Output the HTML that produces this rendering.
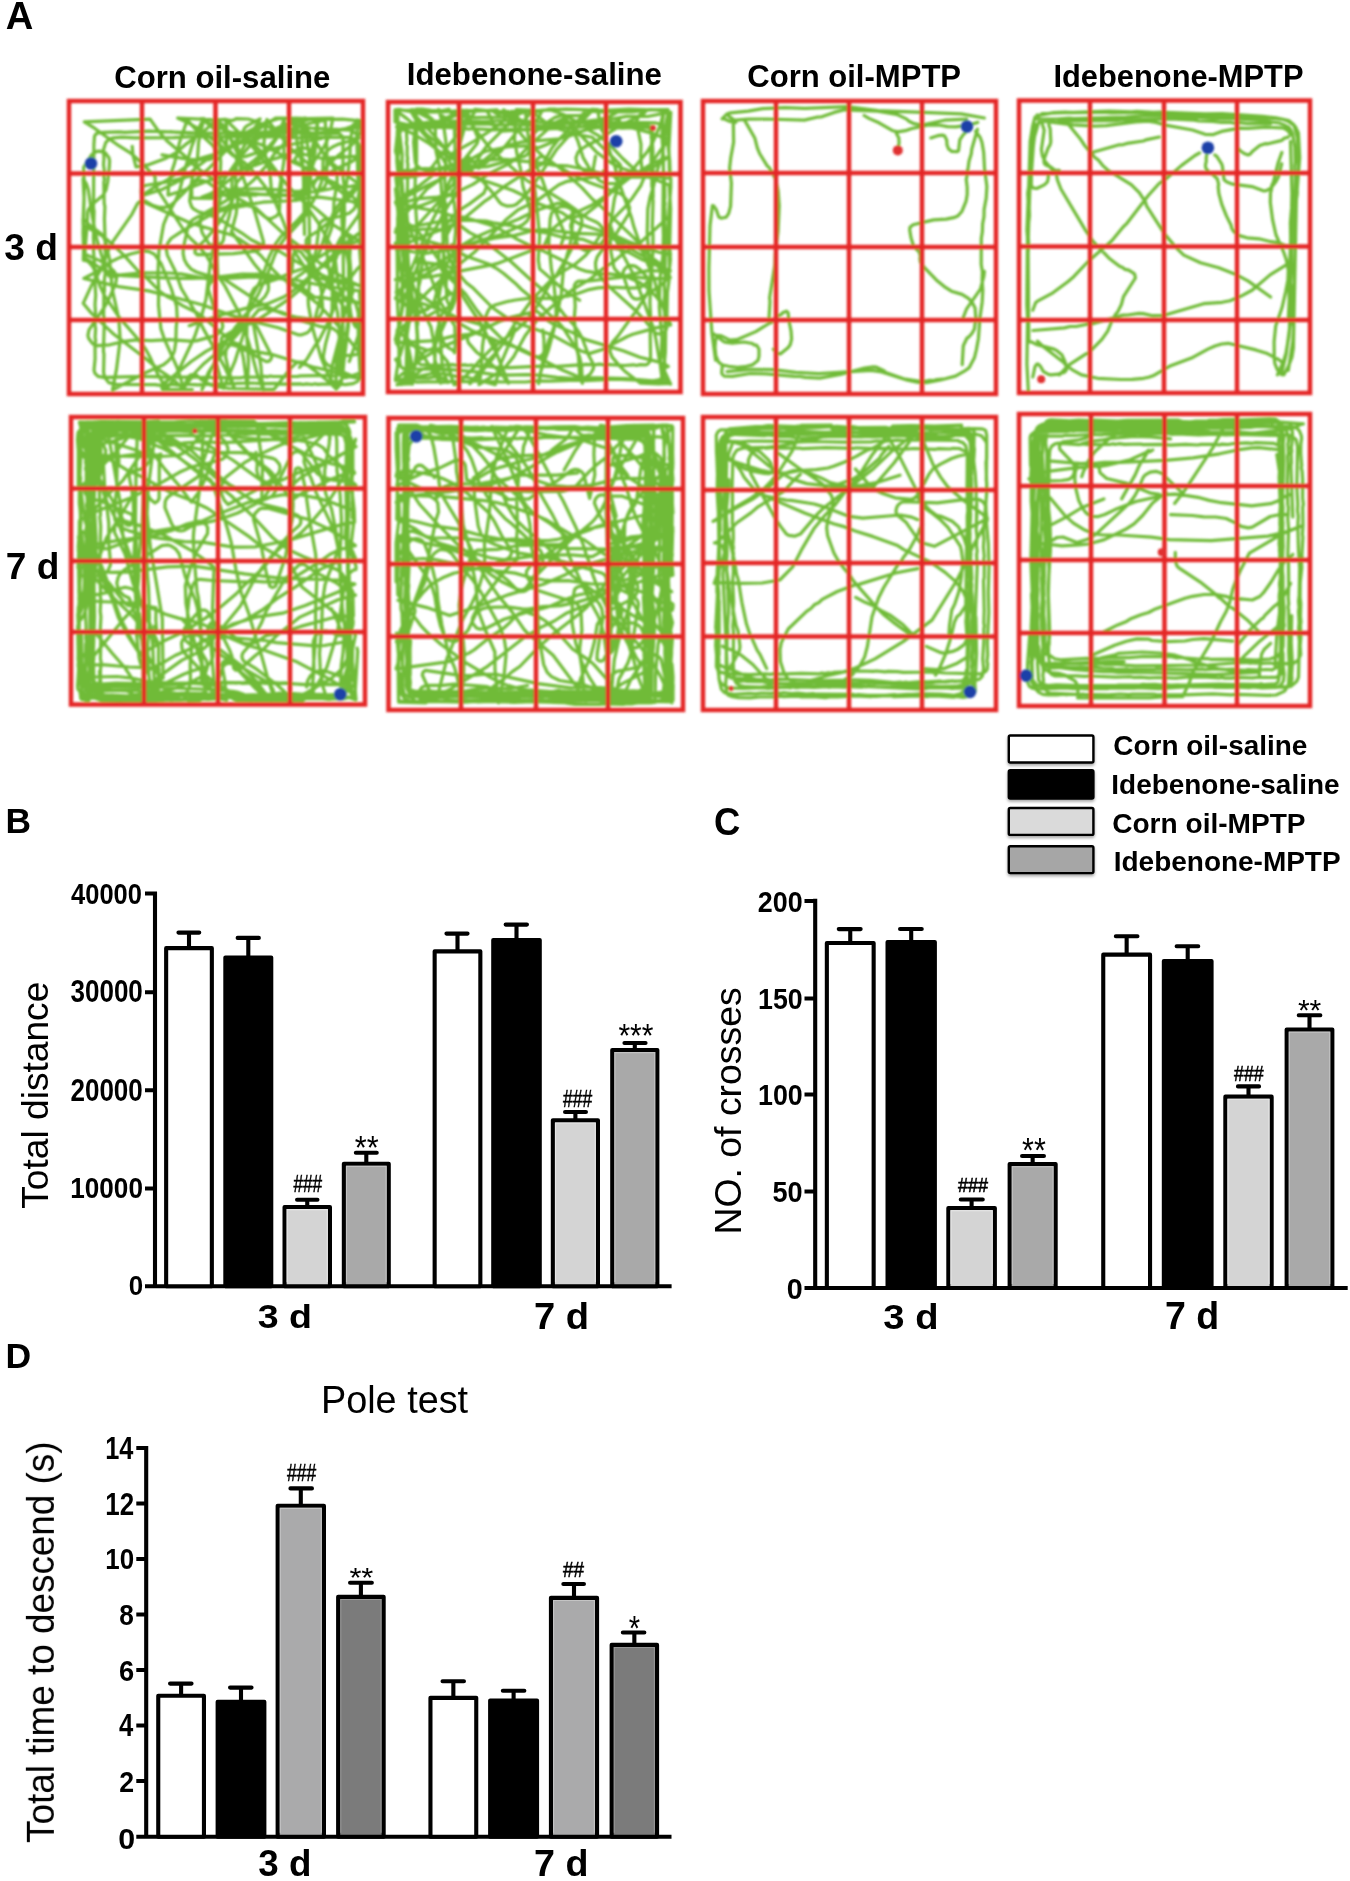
<!DOCTYPE html><html><head><meta charset="utf-8"><title>Figure</title><style>html,body{margin:0;padding:0;background:#fff;width:1350px;height:1881px;overflow:hidden}svg{display:block}text{font-family:"Liberation Sans",sans-serif}</style></head><body><svg width="1350" height="1881" viewBox="0 0 1350 1881"><defs><filter id="bl" x="-2%" y="-2%" width="104%" height="104%"><feGaussianBlur stdDeviation="0.9"/></filter><filter id="gs" x="-1%" y="-1%" width="102%" height="102%"><feOffset dx="0" dy="0"/></filter><filter id="sh" x="-10%" y="-10%" width="130%" height="150%"><feDropShadow dx="0" dy="2" stdDeviation="1.6" flood-color="#000" flood-opacity="0.35"/></filter></defs><rect width="1350" height="1881" fill="#fff"/><g filter="url(#bl)">
<path d="M360.1,345.5L360.8,369.6 358.8,379.4 357.6,381.4 353.1,383.6 345.0,384.7 342.3,384.1 336.2,384.6 326.9,383.8 317.9,384.3 315.0,383.8 312.2,384.5 306.4,383.9 302.9,384.5 300.3,383.9 279.2,384.1 275.6,383.4 260.6,383.6 252.2,383.0 236.9,383.3 233.4,384.1 227.8,383.6 224.9,384.2 215.5,383.8 212.4,384.6 210.1,384.1 197.9,384.8 185.5,384.2 182.8,385.0 176.8,385.1 173.7,384.5 158.5,385.2 155.1,384.7 116.4,384.4 108.7,382.6 104.8,377.5 103.6,372.5 104.0,354.1 103.4,351.4 104.2,326.9 104.2,318.0 103.6,315.3 103.9,294.3 104.5,290.7 104.2,281.5 105.2,273.1 104.6,270.2 105.4,252.0 104.7,248.8 105.3,245.8 104.4,218.9 104.9,206.7 104.2,203.4 103.8,182.3 104.4,179.5 103.8,176.4 104.3,170.5 103.5,164.4 104.0,158.3 103.5,149.8 105.7,142.6 108.8,139.3 113.4,137.8 122.0,137.2 134.5,137.9 173.5,137.6 200.3,136.3 203.6,136.9 225.0,136.8 230.8,136.3 236.9,136.9 248.6,136.2 252.1,137.0 278.7,136.7 302.8,138.1 306.5,137.4 312.2,138.0 318.2,137.3 348.2,137.4 355.4,139.5 357.8,142.2 360.1,146.9 359.7,173.8 360.4,179.8 359.3,207.0 360.6,237.1 360.1,239.5 360.7,242.4 361.4,303.2 360.2,366.2M170.4,131.8L188.7,133.2 219.0,132.8 243.0,133.9 245.8,133.4 248.7,133.9 276.7,133.4 285.6,132.7 288.9,133.3 291.4,132.8 309.7,133.4 312.5,132.9 316.0,133.7 337.1,133.3 339.2,133.5 342.4,136.5 343.0,138.7 343.0,177.9 343.9,183.7 343.8,202.4 344.4,204.7 344.6,213.9 343.9,229.3 344.4,235.1 343.2,250.3 343.5,286.7 342.2,307.1 343.0,328.2 342.6,337.3 343.2,340.4 342.4,372.5 340.7,374.3 334.1,376.0 327.6,375.4 300.7,375.8 297.8,376.4 273.3,376.5 270.3,376.0 267.6,376.8 264.4,376.3 261.1,376.9 243.4,377.2 240.3,377.9 218.5,377.3 213.0,377.9 209.3,377.1 200.4,377.5 197.9,377.0 191.7,377.5 188.3,376.8 167.3,377.5 161.3,376.8 143.2,376.4 103.8,377.3 98.0,376.4 95.0,373.4 94.0,370.3 95.1,358.8 95.0,343.5 95.7,340.9 95.1,337.4 95.6,328.8 95.0,325.4 95.5,313.2 95.0,304.4 95.7,295.1 95.0,283.3 95.4,277.4 93.5,249.8 94.1,247.2 93.4,238.3 94.1,210.8 93.5,208.4 93.9,144.6 94.5,136.2 96.0,134.0 97.9,132.9 103.7,132.3 118.9,131.9 124.9,132.4 148.8,131.2 194.9,132.9M342.2,355.9L354.1,355.0 359.9,353.5 337.6,325.3 319.5,305.3 300.8,290.3 280.7,277.3 274.2,271.0 260.5,255.2 249.0,245.5 239.0,238.8 231.0,234.7 190.7,223.3 144.3,202.2 142.6,199.7 142.5,196.7 144.0,194.1 156.4,185.8 167.0,180.1 193.9,161.1 202.3,157.8 219.6,152.8 230.5,147.8 275.6,118.2 287.6,118.1 288.9,120.7 293.8,124.1 305.4,127.2 311.3,128.1 350.2,130.2 355.3,133.3 359.2,137.9 350.5,146.1 338.6,155.2 329.6,163.3 319.5,174.3 313.5,184.6 313.7,187.6 315.5,190.0 318.3,191.2 335.9,187.7 350.8,186.4 359.6,184.2 352.6,194.0 344.4,202.8 335.3,214.7 327.3,223.6 317.9,231.0 307.7,237.3 306.2,240.0 306.1,245.9 309.8,254.1 317.9,276.7 321.4,291.2 322.7,309.2 322.2,312.1 319.2,317.3 313.8,319.6 296.0,317.1 284.3,314.2 276.0,310.9 259.9,302.7 224.9,279.6 222.2,278.3 219.3,277.9 216.3,278.3 213.6,279.6 209.6,284.0 208.5,286.8 208.4,289.8 212.8,304.2 222.2,322.9 222.8,325.9 222.2,328.8 220.6,331.4 216.3,335.4 196.1,340.9 190.1,341.2 169.1,339.7 151.2,340.7 136.2,339.9 124.3,341.4 109.7,344.8 97.7,345.6 94.8,344.9 92.3,343.3 88.7,338.5 87.9,335.6 89.0,329.8 104.2,307.5 108.6,299.7 115.8,283.2 116.6,277.3 114.4,271.7 108.0,265.5 100.3,260.9 83.8,253.7 83.0,232.7 84.1,199.7 83.1,178.7 86.4,183.8 88.3,189.5 92.2,216.2 96.9,239.7 107.2,274.1 109.3,276.2 112.3,276.9 121.0,274.9 141.9,272.9 168.9,273.0 180.8,273.9 213.3,279.9 216.0,278.8 217.8,276.4 217.1,258.4 217.7,246.4 215.5,213.5 216.3,198.5 218.6,189.8 222.6,181.8 238.0,159.6 249.7,145.9 256.3,139.9 266.2,133.1 274.3,129.1 290.9,122.3 305.3,118.1 294.7,132.6 274.0,154.3 265.5,166.6 253.6,180.1 237.6,193.7 217.2,206.2 206.5,211.8 202.2,215.8 200.7,218.5 200.0,224.4 202.3,233.0 208.5,243.2 211.0,245.0 216.9,245.7 219.7,244.6 222.0,242.7 223.4,240.1 224.6,231.1 229.0,216.8 230.3,210.9 231.9,193.0 232.0,178.0 236.8,160.7 241.9,149.9 260.1,118.9 246.9,125.8 244.7,127.9 242.2,133.3 242.5,136.3 243.8,138.9 252.7,147.1 265.9,163.4 279.3,175.3 280.8,178.0 281.8,183.9 280.2,195.8 279.4,210.7 278.5,213.6 276.6,215.9 271.3,218.6 268.3,218.5 265.5,217.3 249.1,204.3 233.3,195.8 227.1,189.2 197.8,168.4 191.0,162.5 184.9,155.9 166.5,140.5 158.7,131.4 150.1,119.1 84.3,121.9 94.5,128.2 118.8,145.7 131.5,153.7 140.4,161.7 155.1,176.7 155.1,185.7 184.3,231.0 190.0,238.0 198.7,246.2 206.4,255.5 218.2,276.4 225.0,286.2 239.0,312.7 241.3,318.3 249.2,344.1 256.9,373.0 263.5,389.8 261.7,377.9 260.9,366.0 253.5,324.7 252.3,322.0 249.9,320.0 247.0,319.3 244.0,319.5 241.3,320.7 235.3,327.4 228.9,337.5 219.9,349.5 215.7,353.8 204.1,363.4 195.8,372.0 183.2,388.7 172.1,378.5 159.6,370.3 145.9,358.7 112.6,333.2 90.8,312.6 83.2,303.3 92.0,284.3 101.4,269.0 108.8,249.3 113.0,241.4 131.9,214.3 137.4,203.7 139.6,201.7 142.5,200.7 145.4,201.1 153.2,205.6 159.0,207.3 165.0,207.4 170.5,205.2 175.2,201.4 185.8,190.9 193.6,181.7 209.4,167.9 228.0,148.4 241.0,136.0 245.9,132.6 264.6,122.9 278.9,118.5 296.9,118.9 332.9,118.1 330.6,129.9 326.9,141.3 322.6,149.2 314.0,161.4 306.8,177.9 303.7,189.5 302.3,192.2 301.7,195.1 302.3,198.1 303.6,200.7 305.9,202.7 311.2,205.4 316.1,209.0 325.2,216.7 333.7,225.2 359.2,240.9 330.7,250.1 317.8,257.8 306.4,267.5 292.2,272.2 275.7,279.5 258.6,285.0 253.9,288.7 251.1,293.9 249.9,305.9 243.2,335.1 235.1,360.8 223.3,388.4 214.7,356.6 214.5,353.6 216.9,348.2 236.2,334.0 250.9,319.0 258.6,309.9 264.4,308.5 281.9,312.4 287.6,314.3 295.3,319.0 321.1,326.7 333.0,328.4 337.7,332.0 339.0,334.7 339.3,337.7 336.4,361.5 335.9,388.5 324.8,378.4 303.4,362.0 297.4,362.1 290.8,368.1 274.1,389.3 229.2,388.5 217.3,386.8 211.5,385.2 206.1,382.7 201.1,379.4 196.7,375.2 193.9,374.3 190.9,374.8 188.5,376.6 183.5,387.5 177.1,367.5 164.8,340.2 160.9,328.8 158.5,305.0 158.7,287.0 157.9,275.0 158.9,251.1 163.6,224.5 167.0,216.2 175.6,200.4 179.2,192.2 185.9,166.0 191.9,145.9 200.9,123.7 204.0,118.5 198.6,141.9 197.4,159.8 192.4,177.1 191.5,183.0 189.7,200.9 191.5,206.6 193.5,208.9 198.6,211.9 204.4,213.3 218.5,218.6 241.4,232.8 251.2,239.8 259.2,243.7 278.9,251.0 296.9,261.9 320.6,274.6 329.0,278.0 346.6,281.4 360.9,286.2 349.8,281.5 319.2,262.6 305.7,250.8 284.2,234.4 255.7,207.8 247.1,205.4 235.3,207.4 220.7,211.0 209.6,215.4 181.0,231.8 171.0,238.5 167.6,243.4 166.3,249.2 167.3,255.1 175.3,271.3 181.2,288.2 196.5,314.0 202.7,327.6 224.5,366.9 234.5,388.8 229.0,371.6 225.6,357.1 225.9,351.1 226.8,348.2 233.7,338.4 245.9,325.2 248.6,323.8 251.6,323.6 254.4,324.5 256.7,326.5 271.7,355.9 271.2,358.8 269.2,361.1 266.2,361.6 239.9,347.3 234.2,345.4 222.4,343.0 221.0,340.4 221.8,337.5 232.2,331.5 259.3,318.8 289.2,298.8 300.7,289.1 312.2,275.4 342.0,245.8 358.8,233.3 354.4,237.3 346.7,246.5 328.7,262.3 316.3,270.8 293.7,290.4 283.7,297.0 267.1,303.9 249.4,307.4 217.6,315.9 189.2,325.7M346.4,199.7L344.1,194.2 322.7,177.8 309.9,165.1 291.7,149.5 266.9,119.5 264.6,134.3 264.0,143.3 264.7,152.2 269.9,172.6 271.2,187.5 274.0,199.2 283.2,221.3 291.1,244.0 296.4,254.7 308.0,272.2 316.7,280.4 339.7,294.6 350.5,299.9 358.9,303.0 347.2,300.5 335.2,299.9 323.4,297.6 314.4,297.1 302.5,288.1 289.4,280.9 272.2,275.5 266.3,274.4 242.3,274.0 212.6,277.7 191.6,278.3 164.6,277.9 122.7,275.7 114.0,273.7 102.7,269.5 85.2,258.0 85.1,249.0 87.2,225.1 87.5,213.1 88.2,210.2 91.4,205.1 102.8,195.5 105.9,190.3 107.8,181.5 109.3,166.6 109.6,160.6 108.9,157.7 105.4,152.9 99.7,151.1 96.7,151.4 91.7,154.7 83.6,167.3 84.4,188.3 83.1,221.2 84.0,239.2 83.3,260.2 86.3,260.6 88.9,262.1 92.8,266.6 95.3,272.0 100.0,286.2 103.8,294.4 118.8,316.9 140.3,341.8 145.6,349.1 149.9,357.0 157.3,373.4 166.3,389.0 171.9,382.0 180.6,366.3 194.7,336.5 201.4,316.6 206.0,299.2 210.2,263.5 215.9,234.0 217.7,213.1 220.5,195.4 220.0,180.4 220.7,162.4 219.1,135.5 218.2,129.5 214.8,118.0 229.0,137.4 237.2,146.1 239.1,151.7 239.0,154.7 236.3,166.4 235.5,178.3 237.6,196.2 237.5,202.2 236.1,214.1 231.5,231.5 253.9,263.4 267.3,279.6 268.3,282.4 268.5,288.3 267.9,291.3 265.0,296.5 258.7,302.9 251.6,308.5 245.2,314.8 230.6,333.8 215.8,359.8 210.4,370.6 204.8,384.5 201.9,389.7 208.2,372.9 211.3,367.8 230.2,344.4 232.9,343.3 235.9,343.2 238.8,344.3 240.8,346.4 243.4,358.2 247.4,387.8 248.5,360.9 246.8,337.0 246.9,328.0 248.3,307.0 252.4,295.7 259.5,282.6 265.2,268.7 268.9,257.3 275.5,243.9 280.8,236.6 295.9,222.0 303.9,213.1 311.5,203.8 316.1,196.1 321.5,182.1 322.9,170.2 323.0,161.2 324.2,155.4 327.7,150.5 332.5,147.0 338.0,144.4 352.4,140.3 357.4,137.0 360.9,132.2 360.3,120.3 355.7,124.0 351.8,132.1 350.3,140.9 350.0,155.9 347.5,176.8 345.3,191.6 342.4,203.2 341.5,212.2 342.9,239.1 347.9,259.5 348.6,265.5 348.5,325.4 341.4,381.9 340.2,384.7 336.2,389.1 332.3,384.6 331.4,381.8 330.8,378.8 331.9,366.9 341.0,332.1 345.1,311.5 352.9,292.1 352.5,286.1 350.4,280.5 348.9,271.7 348.6,259.7 349.5,241.7 349.4,238.7 347.8,236.2 345.2,234.7 342.5,236.1 340.5,238.2 337.7,243.5 334.3,255.0 332.4,279.0 332.1,308.9 329.4,329.8 325.5,344.2 323.3,356.0 323.6,359.0 324.8,361.8 326.7,364.1 331.8,367.3 353.8,376.8 359.6,378.4 344.8,375.8 330.6,370.9 313.1,367.0 273.0,354.7 255.2,351.7 235.8,343.8 230.6,340.7 201.0,315.4 196.0,312.2 182.5,305.6 172.5,299.0 167.0,296.5 159.7,291.2 147.1,278.4 137.9,270.8 123.9,255.1 108.5,240.8 101.4,235.3 83.1,225.0 83.0,219.0 89.6,225.0 101.5,234.1 103.3,236.5 105.7,242.0 109.6,259.5 110.7,274.5 112.9,292.3 118.8,318.7 120.2,339.6 116.5,369.4 112.5,390.0 144.3,373.3 163.5,364.8 168.2,361.0 172.1,356.5 174.4,351.0 175.8,342.1 176.2,327.1 177.2,318.2 176.6,306.2 171.4,289.0 161.3,264.0 154.4,254.2 149.1,251.6 143.1,251.0 131.5,253.8 120.1,257.4 111.9,261.2 94.4,272.9 83.9,278.5 118.9,286.6 148.6,290.9 177.7,298.2 203.7,305.3 229.0,314.6 255.0,322.0 278.3,327.8 298.1,334.8 301.1,334.9 306.7,333.0 309.1,331.2 310.8,328.7 315.3,317.6 320.6,297.3 331.0,272.4 342.2,241.4 347.5,230.6 358.0,216.0 359.2,213.2 359.4,210.2 358.6,207.3 354.8,202.8 352.1,201.5 319.4,197.2 307.4,198.1 295.7,200.5 262.8,202.2 256.8,203.3 244.9,203.6 230.0,205.3 220.6,220.7 213.3,230.2 205.6,239.3 195.0,249.9 195.0,252.9 197.4,254.7 233.4,253.7 257.2,250.8 262.0,247.4 263.4,244.7 263.5,241.7 255.1,212.9 241.7,173.1 237.2,152.7 223.9,125.8 219.2,122.1 210.6,119.6 177.6,118.0 185.9,121.7 199.0,129.0 225.1,149.1 244.8,162.8 251.3,169.0 264.3,185.5 272.6,198.0 275.5,198.7 277.9,196.9 279.2,191.0 283.9,161.4 284.2,119.4 276.3,138.9 271.3,146.3 261.6,157.8 246.1,172.0 236.2,183.3 232.4,200.8 231.2,203.6 226.5,207.1 214.9,210.3 198.1,216.7 192.9,219.6 190.7,221.7 188.0,227.0 183.4,247.5 183.1,253.5 184.3,259.4 187.1,264.7 191.1,269.1 196.4,272.0 207.8,275.6 225.7,277.9 231.7,278.1 252.6,276.8 294.5,279.7 326.7,286.5 359.4,290.8 360.4,305.8 359.7,317.8 360.8,329.7 355.6,326.8 354.0,324.3 351.1,315.8 349.8,306.9 347.2,301.5 341.8,294.3 339.3,288.8 337.9,283.0 335.6,262.1 332.2,247.5 317.4,221.5 303.5,202.0 286.8,184.7 270.6,163.1 259.0,149.4 252.6,143.1 240.6,134.1 225.5,119.5 226.5,125.4 226.5,146.4 227.2,149.3 228.7,151.9 233.2,155.8 239.0,157.3 244.9,156.6 259.2,152.1 288.3,145.0 320.7,138.8 339.8,130.2 351.5,127.7 360.5,126.8 360.6,120.8 342.6,119.2 300.7,119.5 291.8,118.1 295.6,132.6 298.0,147.4 305.0,176.6 309.3,203.2 307.8,212.0 306.4,214.7 300.6,221.5 284.2,239.1 279.1,246.5 275.0,254.5 267.5,274.1 258.8,293.2 241.1,324.5 236.1,332.0 227.1,339.9 206.0,351.4 191.2,361.5 167.9,380.4 162.9,383.7 161.7,386.5 162.4,389.4 192.4,389.5M132.2,146.3L133.0,155.2 136.0,166.8 147.8,164.9 164.7,158.8 175.3,153.2 186.8,143.6 203.8,131.2 212.9,123.4 215.0,121.2 216.2,118.5 218.9,119.9 224.8,119.3 230.6,120.6 233.6,120.2 236.2,118.7 248.2,119.0 254.0,120.7 270.5,127.8 276.3,129.5 303.2,131.0 306.1,131.8 313.1,137.4 315.7,142.7 315.8,145.7 313.7,157.5 309.8,168.8 304.1,167.0 293.0,162.2 277.8,152.7 264.3,146.1 211.6,124.5 201.2,118.7 210.7,126.0 216.9,132.5 228.9,149.7 242.7,165.5 244.5,167.9 242.3,165.8 236.4,159.0M162.0,154.8L188.6,159.3 209.5,159.6 212.3,158.5 214.3,156.2 215.4,153.4 215.6,150.4 212.6,145.3 197.2,131.1 187.2,119.9 179.5,142.6 174.6,163.0 171.7,171.5 168.6,186.2 168.0,195.2 182.3,190.8 207.5,181.0 233.2,173.0 267.2,161.0 284.4,155.9 300.5,148.0 303.5,147.7 309.3,149.2 313.4,153.5 314.7,159.3 303.1,196.5 261.2,194.4 246.3,192.5 234.3,192.5M197.7,174.2L165.7,182.2 145.0,185.5 142.6,187.3 141.3,190.0 141.3,193.0 142.7,195.6 162.7,189.2 184.0,178.3 200.0,164.6 214.5,154.0 222.2,149.4 230.6,146.0 256.6,139.0 292.5,123.7 312.9,118.8 294.9,118.1 280.3,133.1 266.8,149.1 253.3,161.1 220.5,187.1 210.5,193.8 202.0,196.9 222.9,194.9 255.9,195.2M307.7,194.2L289.8,195.2 268.8,194.2 250.8,194.4 241.9,193.3 230.2,190.8 227.7,192.5 227.3,195.5 229.0,197.9 207.3,181.9 201.5,180.4 198.6,180.6 195.8,181.7 193.4,183.6 191.6,189.2 191.9,198.2 215.9,198.4 219.7,193.7 222.2,192.1 227.8,190.1 233.7,189.2 263.7,188.7 293.6,191.2 314.6,192.0 320.4,190.8 324.8,186.8 326.9,181.2 326.9,148.3 325.2,121.3 326.4,118.6 324.0,120.4 309.4,123.5 300.9,126.5 283.4,130.7 256.5,132.7 229.5,132.6M350.2,248.6L349.7,257.6 351.2,275.5 350.9,296.5 346.7,332.2 342.5,377.0 341.5,379.8 339.2,381.7 336.3,382.4 333.4,381.7 330.9,379.9 328.1,374.6 321.2,358.0 312.9,329.2 308.5,305.6 308.2,299.6 309.3,284.7 308.7,260.7 309.6,239.7 308.8,200.8 310.6,179.9 310.5,164.9 308.0,147.1 304.6,132.5 303.7,120.5 301.8,120.5 301.9,153.5 303.5,180.4 304.5,234.4M315.0,153.3L315.2,147.3 317.0,135.5 317.7,120.5 315.9,132.3 309.1,161.5 308.4,170.5 302.1,193.7 300.1,195.9 297.5,197.4 294.5,197.7 300.8,191.2 315.2,180.4 336.2,168.8 352.4,161.2 359.9,156.2 321.1,158.3 303.6,154.2 300.6,154.4 297.8,155.6 295.7,157.7 294.3,160.4 311.4,172.6 333.4,182.1 338.6,185.2 350.3,194.4 356.7,200.8 360.3,205.6 360.6,226.5 359.7,250.5 360.8,265.4 356.6,269.7 343.9,286.4 336.1,302.6 328.4,322.1 318.8,340.8 315.1,345.5 307.4,358.4 303.8,363.2 299.5,367.3M349.3,361.5L360.1,330.3 341.2,303.3 328.6,282.9 322.7,276.1 309.8,263.5 300.7,251.7 297.8,250.8 295.0,252.0 293.3,254.4 292.1,269.3 287.8,283.7 307.3,269.7 313.4,263.1 318.1,255.5 320.4,249.9 326.6,229.9 334.4,210.4 341.6,200.9 358.7,184.0 341.9,171.5 332.8,163.7 322.9,152.4 306.0,127.7 297.8,118.9 306.0,131.4 317.6,145.2 333.5,167.0 335.1,169.5 337.0,175.2 337.2,181.2 334.0,201.9 333.5,216.9 331.4,228.7 326.3,242.8M325.5,236.0L327.9,262.9 330.3,277.7 337.6,313.0 340.4,339.8 339.3,372.7 340.6,375.4 342.9,377.3 345.9,377.7 360.1,373.0 358.2,340.0 358.3,313.1 355.9,304.4 352.4,299.5 348.7,291.4 343.1,284.3 340.5,282.8 317.1,277.8 314.5,276.3 312.6,273.9 311.5,271.1 311.4,268.1 316.0,250.8 319.5,224.1 321.3,221.6 323.7,219.9 338.4,216.8 349.7,212.9 354.2,209.0 357.6,200.7 359.1,191.8 357.8,176.9 356.8,137.9 357.6,119.9 356.0,122.5 351.5,126.4 345.9,128.5 316.3,133.3 304.3,134.2M594.9,122.0L618.5,123.1 637.4,122.4 655.2,122.8 659.8,124.0 662.9,128.8 662.8,158.2 663.5,161.2 663.1,164.8 664.6,185.6 664.9,197.2 664.4,200.7 665.1,203.7 664.6,206.1 665.3,218.3 664.7,221.8 666.0,245.2 665.2,251.4 665.0,279.1 664.2,284.6 664.7,294.1 664.2,299.9 665.1,305.4 664.6,320.6 665.2,323.8 664.6,326.8 665.3,329.9 664.1,354.1 664.8,363.4 664.1,365.9 664.6,369.3 663.2,376.7 659.9,379.5 652.6,381.0 615.7,379.1 585.5,380.6 576.6,380.2 549.5,381.2 537.4,380.9 525.4,382.0 503.8,382.0 477.2,380.9 467.6,381.7 452.9,381.4 443.3,382.3 440.6,381.7 416.0,382.1 409.1,378.8 407.3,374.9 406.2,366.1 406.8,353.9 406.4,348.0 407.1,345.3 406.8,336.2 408.0,326.9 408.7,308.8 408.3,302.8 409.0,299.6 407.8,267.0 408.3,236.8 407.5,230.8 407.8,224.6 406.8,212.7 407.3,209.6 406.6,200.1 407.5,188.4 407.8,164.0 407.2,161.1 407.7,158.7 407.1,155.0 407.2,146.5 406.4,143.0 406.9,140.5 406.4,131.0 408.1,127.0 411.1,123.8 416.1,122.9 425.1,122.7 437.2,121.4 440.6,122.0 449.6,121.0 471.0,120.8 483.0,121.5 503.9,120.5 558.1,122.8 561.8,122.0 564.2,122.7 582.8,121.9 618.7,122.5M652.4,260.3L652.6,263.6 651.5,269.4 651.5,278.4 650.7,281.7 649.9,302.2 650.9,323.6 650.2,335.4 650.6,359.0 650.0,361.3 647.5,364.2 645.5,364.9 639.4,364.7 636.6,365.5 633.6,364.8 624.3,365.5 606.0,364.4 603.0,364.8 600.0,364.1 594.4,364.8 584.9,364.4 582.4,365.2 579.4,364.9 558.0,366.4 539.8,366.2 510.4,367.6 494.9,367.2 483.0,366.0 480.2,366.4 471.1,365.0 467.7,365.5 465.3,364.9 455.7,365.2 452.8,364.6 434.8,365.3 420.5,364.6 418.9,363.3 417.8,359.7 417.9,341.3 417.0,326.6 417.8,323.5 417.5,311.8 418.2,302.4 417.8,299.5 418.6,296.2 418.5,272.4 417.8,269.7 418.1,266.4 417.1,257.2 416.5,230.8 417.0,227.6 414.8,194.6 415.3,176.8 416.6,161.5 416.6,131.0 417.4,129.0 420.1,125.7 422.7,125.2 425.9,125.6 431.9,124.9 434.9,125.5 441.3,124.7 468.4,123.9 489.3,124.2 492.5,124.8 522.0,124.7 564.3,127.5 597.6,125.8 627.2,126.2 639.1,125.1 647.9,125.7 650.1,127.0 651.5,131.3 651.2,137.5 651.8,140.2 651.0,149.0 651.2,173.3 651.9,176.7 651.8,185.4 652.8,191.1 652.4,197.5 653.1,200.7 652.3,227.3 653.0,233.2 653.0,245.5 652.5,248.0 652.9,254.7 652.2,257.1 652.5,260.6 651.0,281.2M399.9,152.3L400.3,143.1 399.6,139.9 399.7,133.6 401.2,129.3 403.5,128.0 405.7,127.7 423.2,127.9 441.9,127.1 465.3,128.4 468.2,129.1 471.2,128.7 495.6,129.8 501.9,129.0 504.4,129.6 516.3,129.0 540.7,129.5 547.0,128.6 549.6,129.0 582.7,126.9 592.1,126.8 609.6,127.9 619.1,127.6 622.0,128.2 640.0,127.2 648.9,128.0 652.1,131.4 653.0,137.1 652.4,142.8 653.0,152.5 652.3,158.5 653.2,170.6 653.1,197.6M449.7,370.6L446.6,369.9 425.5,368.9 407.9,369.4 402.9,368.4 400.3,366.0 399.0,355.7 398.7,325.5 396.8,291.5 398.1,258.8 397.6,252.4 398.3,246.1 397.6,234.4 398.1,225.0 397.6,218.9 398.3,213.2 397.9,197.6 398.6,195.1 397.9,189.0 398.5,182.5 397.7,158.1 398.6,152.4 398.5,143.3 399.9,131.0 400.5,128.8 402.8,125.8 405.3,124.5 416.9,124.2 420.0,125.0 440.8,126.3 458.9,125.9M579.6,300.3L562.2,288.5 539.6,268.9 538.3,260.0 539.6,236.0 537.1,209.2 535.1,191.3 530.4,164.7 530.3,149.8 528.8,147.1 526.1,145.8 508.2,146.7 484.7,151.5 458.5,166.2 427.0,189.0 407.3,211.7 396.0,229.4 408.0,230.0 429.0,228.9 440.9,229.8 445.3,225.7 456.8,211.8 469.5,203.9 483.9,193.1 486.2,187.6 485.9,184.6 484.5,182.0 469.3,172.5 458.2,162.3 443.6,147.3 426.8,134.8 420.9,127.9 410.0,110.0 430.7,131.7 448.5,152.0 482.6,181.3 492.5,192.6 499.6,202.3 501.9,204.2 507.5,206.2 513.4,205.6 516.2,204.5 522.9,198.5 532.2,186.8 556.8,149.2 580.9,122.4 593.4,109.5 580.9,117.7 557.4,140.9 551.9,148.0 543.1,163.7 532.1,168.5 504.4,186.4 490.3,197.6 485.3,200.8 464.5,218.0 459.5,221.3 446.0,228.0 417.8,238.2 404.5,245.0 396.0,248.1 413.6,252.0 425.5,253.4 452.2,249.4 480.7,240.2 500.9,234.5 522.8,224.7 527.3,220.8 530.0,215.4 530.2,209.5 523.0,186.6 520.5,168.8 517.0,154.2 514.5,139.4 516.3,109.5 537.2,110.5 549.2,109.9 552.2,110.4 563.4,114.5 576.6,121.6 582.4,123.1 588.4,123.7 597.3,122.8 611.8,119.1 626.6,116.4 647.6,116.5 668.2,112.5 665.2,127.2 664.5,139.2 662.3,157.0 658.9,165.3 655.4,176.8 653.7,185.7 650.1,197.1 647.8,208.9 647.2,232.8 648.9,256.8 651.4,271.5 650.2,277.4 648.7,280.0 644.9,284.6 639.8,287.7 630.9,288.2 609.9,287.2 597.9,287.9 589.1,289.6 575.0,294.6 569.1,295.8 548.3,298.3 530.3,298.2 515.4,300.0 506.5,301.7 495.0,305.0 492.4,306.4 489.9,308.2 488.2,310.6 485.9,316.2 484.7,331.1 482.5,346.0 481.0,372.9 479.0,384.7 499.3,371.9 506.2,366.1 513.6,356.8 525.1,335.7 536.0,321.5 542.3,315.0 560.4,299.2 572.1,289.9 590.1,279.2 601.7,269.6 614.1,261.2 623.3,253.5 640.9,242.0 669.8,215.9 668.3,224.8 668.1,239.8 670.5,254.6 658.7,252.3 647.3,248.5 627.7,241.2 616.7,236.3 579.7,224.0 574.4,221.2 562.1,212.7 536.9,203.0 526.6,197.0 513.0,190.5 484.6,180.8 467.9,174.2 452.2,165.5 450.2,163.2 449.3,160.4 449.7,157.4 453.3,152.7 474.3,141.2 496.8,126.3 501.5,122.6 511.3,111.3 526.3,111.1 534.8,114.0 544.3,121.3 560.3,129.5 580.5,135.1 592.3,137.3 620.1,164.5 621.2,167.4 620.7,170.3 619.3,173.0 616.9,174.8 614.0,175.6 608.0,175.2 590.7,170.5 567.1,165.8 555.2,165.3 540.4,162.9 501.6,159.1 486.6,160.1 462.8,162.9 442.3,167.5 416.7,176.1 404.8,177.6 395.8,177.6 398.3,198.5 400.4,207.2 405.2,221.4 407.2,223.6 412.6,226.1 415.6,225.8 418.3,224.5 440.4,200.0 447.6,190.4 453.6,183.7 456.3,159.9 458.7,148.1 464.5,128.0 466.4,116.1 466.6,110.1 477.9,137.9 478.0,140.9 476.9,143.7 463.8,160.1 457.4,166.4 448.1,174.0 437.9,180.4 427.1,185.5 395.5,202.6 415.9,207.4 439.5,211.7 450.9,215.4 465.7,217.7 488.7,224.4 497.1,227.7 517.9,239.6 531.3,246.3 542.5,250.6 580.1,269.3 585.8,271.1 600.6,273.7 609.6,273.8 645.3,278.1 654.3,278.7 669.3,278.4 656.8,265.4 647.1,258.4 618.4,242.2 606.3,233.3 603.3,233.0 600.6,234.3 592.8,247.0 584.9,256.1 575.7,263.8 560.3,273.0 550.8,280.4 532.0,299.7 516.1,321.5 503.9,342.1 496.9,351.9 488.4,360.4 469.8,383.8 476.5,377.8 493.9,357.2 496.1,351.7 496.3,348.7 495.8,345.7 494.4,343.1 490.3,338.8 471.1,330.2 458.1,322.7 414.9,290.4 397.4,278.9 397.1,251.9 395.3,243.1 401.0,245.0 405.6,256.1 410.8,300.7 410.6,312.7 406.8,336.4 406.3,366.3 404.5,381.2 404.8,384.2 409.9,381.1 412.9,375.9 413.1,370.0 408.2,346.5 409.3,343.7 411.7,341.9 435.6,340.6 453.0,336.1 470.9,334.0 479.8,332.3 481.6,329.9 481.6,326.9 480.0,324.4 457.0,317.6 448.9,313.5 432.3,306.8 415.2,301.3 396.2,292.3 416.4,279.3 440.0,266.3 446.0,265.7 451.5,268.0 458.5,273.6 466.3,282.7 473.4,288.3 492.3,307.5 507.0,317.9 517.7,323.2 551.7,334.8 580.6,350.7 589.1,353.6 603.4,349.2 627.3,336.5 632.8,334.3 656.0,327.9 670.7,324.9 657.9,294.5 654.5,279.9 642.8,252.3 633.9,226.8 631.6,218.1 617.6,178.6 615.0,166.9 601.5,127.2 599.1,118.5 597.7,109.6 591.7,109.4 590.0,111.8 584.7,114.6 578.8,115.6 560.8,115.7 555.1,117.4 550.0,120.5 538.0,129.6 531.5,135.8 530.5,138.6 530.8,141.6 531.9,144.4 534.1,146.4 536.9,147.5 539.9,147.3 556.6,140.6 564.5,136.4 590.4,128.7 602.3,127.2 623.3,127.0 632.3,127.9 652.5,133.4 669.2,140.0 663.1,146.6 652.7,161.3 646.5,171.6 640.9,185.5 632.4,197.9 624.8,207.2 614.2,217.8 609.2,225.2 611.0,252.1 613.8,266.9 615.2,269.6 619.4,273.8 638.7,281.9 648.6,288.8 656.9,297.4 662.0,304.8 664.3,310.4 665.8,322.2 665.4,352.2 662.5,382.1 660.2,364.2 661.3,355.3 661.9,337.3 659.3,307.5 660.1,277.5 662.8,256.7 663.4,235.7 662.9,220.7 663.5,157.7 661.9,136.8 662.5,121.8 664.0,109.9 660.5,124.5 652.2,143.8 647.5,151.4 632.3,170.0 619.3,182.5 609.2,193.5 591.7,205.2 572.7,214.1 560.4,222.6 551.1,230.2 543.8,246.7 529.5,251.3 498.7,263.1 492.9,264.6 434.1,276.1 404.4,280.0 395.4,279.7 406.4,275.0 415.2,272.9 429.4,268.2 444.7,258.9 458.0,251.9 465.5,247.0 476.6,242.4 494.1,238.2 514.9,235.4 532.3,230.8 544.2,229.7 577.0,233.3 598.0,234.1 606.8,236.1 626.7,242.7 637.6,247.7 642.7,250.9 659.5,263.4 665.6,270.0 670.3,277.7 660.5,266.3 633.9,237.8 601.4,206.8 592.2,199.0 582.1,187.9 562.1,169.8 545.2,157.4 542.3,156.5 539.4,157.3 537.1,159.2 535.8,161.9 535.9,164.9 541.9,178.6 545.9,190.0 556.9,214.6 564.8,234.1 560.0,248.3M542.8,330.2L543.9,339.2 544.1,351.2 543.1,354.0 540.9,356.0 538.1,357.1 535.1,356.9 521.5,350.6 505.9,341.7 501.1,338.1 490.5,327.5 477.4,311.1 465.5,293.8 442.2,270.5 439.5,265.2 438.7,262.2 438.9,253.3 444.3,239.3 451.7,226.2 454.1,224.5 457.1,224.4 459.9,225.4 469.6,232.6 480.3,238.0 511.1,261.7 531.0,280.0 547.1,293.5 555.0,302.5 564.0,314.5 574.2,325.5 579.3,332.9 582.2,338.2 588.5,355.0 592.7,363.0 593.5,365.9 593.3,368.9 590.4,374.0 585.4,377.3 579.5,377.3 562.9,370.2 520.2,348.5 503.0,343.2 489.2,337.4 474.9,332.8 471.9,333.0 469.3,334.5 467.7,337.1 467.5,340.1 468.5,342.9 476.4,351.9 486.0,359.2 497.0,369.4 503.1,376.0 508.4,383.2 496.3,352.6 490.2,342.2 482.4,326.0 464.2,298.5 452.3,277.7 441.3,263.5 424.1,238.9 418.5,231.9 413.0,229.7 395.2,232.1 447.1,246.5 452.7,248.7 465.8,256.0 488.5,264.0 496.3,268.3 503.7,273.5 515.2,283.2 521.5,289.5 540.0,304.8 550.5,315.5 557.4,321.3 563.3,328.1 576.1,348.3 579.5,356.7 581.5,365.4 582.4,383.4 580.1,377.8 579.7,374.8 578.5,356.9 576.4,345.1 574.3,318.2 575.2,306.2 574.2,288.3 574.4,285.3 575.9,282.7 578.5,281.1 587.5,281.1 620.2,277.4 646.4,270.9 670.4,270.8 642.5,259.8 629.3,252.7 620.8,249.7 612.0,248.1 591.7,242.7 583.3,239.4 562.5,237.2 548.0,233.2 521.4,228.8 512.9,225.8 495.1,223.2 486.4,221.1 465.4,220.2 438.4,221.7 411.9,226.7 397.8,231.6 397.8,246.6 402.2,279.3 402.3,288.3 400.9,297.2 401.4,300.1 403.1,302.6 405.5,304.4 408.3,305.3 411.3,305.3 416.8,303.0 429.5,290.2 449.5,272.1 475.3,251.5 506.6,219.2 518.2,209.7 537.1,200.6 558.9,184.7 567.2,181.3 608.6,174.4 611.6,174.8 614.3,176.2 617.5,181.2 618.0,187.1 614.5,198.6 610.3,225.2 614.3,236.5 621.9,252.8 634.6,276.6 653.1,327.3 655.9,339.0 659.3,359.7 670.6,384.2 666.6,379.7 664.2,378.0 662.8,375.4 662.5,372.4 663.3,369.5 665.4,367.4 668.3,366.5 665.7,365.0 657.4,361.6 639.9,357.3 623.1,350.8 585.8,339.6 572.5,332.6 553.3,324.1 548.2,321.0 536.9,311.1 510.7,317.4 499.4,321.5 475.2,333.3 441.9,347.0 418.7,360.7 395.4,379.6 397.8,364.8 397.4,361.9 395.6,359.5 398.2,358.1 400.0,355.7 404.2,341.3 406.6,323.5 407.8,302.5 406.6,272.6 403.2,258.0 400.7,243.2 400.8,222.2 401.5,213.2 403.2,210.7 405.6,208.9 420.2,205.9 442.7,197.4 451.3,194.9 472.9,184.4 490.5,172.9 509.3,163.5 519.0,156.5 531.5,143.6 556.3,121.9 561.8,119.6 567.6,120.9 574.3,126.9 581.8,136.3 596.1,151.7 610.4,162.5 621.0,168.1 646.8,176.3 669.1,184.9 670.6,208.8 669.7,244.8 670.4,259.8 669.1,271.7 669.0,280.7 667.4,292.6 666.7,328.5 665.2,331.1 662.9,333.1 660.0,334.0 657.1,333.6 654.4,332.3 645.0,320.6 634.7,309.7 608.0,285.6 598.4,274.1 595.8,268.7 595.5,262.8 597.1,257.0 604.1,247.3 616.1,233.9 628.8,213.6 629.6,207.7 626.4,199.3 622.2,195.0 619.7,193.4 588.7,182.3 569.8,173.1 546.4,159.7 524.9,138.8 515.4,127.2 503.6,109.8 519.1,119.1 524.5,121.7 527.4,122.3 533.3,121.6 536.1,120.4 538.3,118.3 542.2,110.2 566.1,109.1 605.1,110.3 629.0,109.0 656.0,110.0 670.8,112.3 668.9,148.3 669.3,169.2 670.8,181.1 670.8,187.1 669.1,208.1 668.2,232.1 669.5,268.0 668.9,274.0 668.0,276.8 664.7,281.8 660.2,285.8 640.0,298.7 637.0,299.2 634.1,298.6 631.7,296.8 628.7,291.5 623.0,274.5 623.3,271.5 624.7,268.9 626.9,266.8 629.7,265.6 632.7,265.6 635.6,266.4 640.4,269.9 646.5,276.5 648.4,282.2 648.7,288.1 647.0,293.9 637.4,309.1 618.1,335.9 612.2,342.6 611.0,345.4 609.9,351.3 612.0,356.9 619.7,366.1 626.1,372.3 640.5,383.2 658.5,383.8 670.4,383.4 661.7,381.5 625.8,378.7 589.9,377.6 574.9,378.6 557.0,377.3 539.1,375.1 527.1,374.7 497.2,375.2 476.5,371.8 428.7,367.7 422.9,369.1 420.3,370.6 409.4,380.9 401.2,384.6 410.3,372.6 423.4,352.6 428.7,349.9 431.7,349.4 437.5,350.6 439.9,352.5 447.5,361.7 451.2,376.3 454.1,384.8 457.1,384.2 465.8,375.9 474.1,367.3 479.8,360.3 492.6,347.7 516.7,329.8 525.5,321.7 538.0,304.9 548.3,286.6 556.8,274.3 566.2,258.9 573.3,245.7 581.3,226.3 581.8,223.3 581.9,220.3 580.1,214.6 576.3,210.0 566.5,203.0 548.6,192.1 527.4,180.9 491.1,149.5 474.4,128.4 462.3,111.2 460.6,135.1 458.0,152.9 456.3,161.8 450.8,178.9 444.6,192.5 438.2,209.3 428.4,227.9 407.7,277.8 395.5,298.4 410.5,308.4 415.9,310.9 421.9,311.3 427.5,309.4 432.1,305.5 433.8,303.0 438.5,285.7 444.7,268.8 454.0,250.0 474.6,237.7 502.0,225.6 518.8,219.0 534.9,211.0 557.6,203.3 560.6,203.2 566.4,204.7 571.1,208.4 573.2,213.9 571.3,237.8 569.5,246.7 563.7,266.8 561.3,293.7 557.2,314.3 553.4,328.8 549.0,340.0 543.6,357.1 538.6,383.6 540.7,371.8 548.7,349.2 554.1,328.9 556.0,314.1 556.0,305.1 553.3,278.2 551.4,269.4 548.8,242.6 550.2,218.6 551.7,212.8 555.8,208.5 561.4,206.6 564.4,206.6 567.4,207.3 580.8,213.9 588.5,218.6 596.7,222.2 599.1,224.0 603.0,228.6 605.9,237.0 598.9,246.7 587.6,250.7 584.6,250.4 579.4,247.5 577.7,245.0 571.0,228.3 570.6,225.4 572.4,219.7 574.5,217.6 577.2,216.2 583.1,216.2 595.0,207.0 612.8,191.0 631.7,176.3 652.0,163.5 668.6,156.7 659.0,163.8 643.3,172.6 623.6,179.7 615.5,183.6 606.6,183.5 601.0,181.4 598.5,179.7 589.2,167.9 583.1,157.6 577.7,140.5 571.3,126.9 566.2,119.5 555.4,109.1 549.4,109.1 540.7,111.3 531.7,111.9 495.7,111.5 474.9,109.3 474.6,112.3 471.1,117.2 468.7,119.0 460.5,122.5 448.6,124.4 424.7,126.2 406.8,124.6 395.1,121.9 395.0,109.9 399.2,130.5 402.2,154.3 401.6,190.3 403.9,217.2 403.5,223.2 404.1,232.1 405.2,241.1 407.8,252.8 409.2,276.7 416.4,324.1 417.2,336.1 416.5,354.1 412.1,383.7 397.1,384.4 397.1,385.0 401.7,381.2 407.3,378.9 430.7,373.7 436.7,373.4 445.6,374.1 457.4,376.6 469.3,377.7 495.3,384.7 500.5,364.4 512.2,336.8 514.4,331.2 514.7,328.2M416.3,262.2L425.3,262.6 440.2,264.6 444.8,268.4 446.2,271.0 447.0,276.9 446.1,282.9 446.7,297.9 447.0,300.8 449.7,306.1 444.9,309.7 441.6,314.7 436.9,332.0 435.7,340.9 434.5,367.9 434.7,370.9 436.1,373.5 440.7,377.4 445.9,380.3 447.9,382.5 444.1,374.4 442.2,365.6 440.2,335.7 437.8,311.8 438.9,296.9 440.4,288.0 443.6,276.4 444.8,264.5 443.3,246.6 441.9,195.6 440.0,171.7 439.3,165.8 436.0,151.1 435.1,124.2 432.1,119.0 427.3,115.4 421.8,113.3 398.1,109.4 397.4,133.3 395.5,151.2 399.0,162.7 402.2,183.4 403.4,201.4 402.5,216.4 403.9,246.3 402.2,303.3 400.2,324.2M432.1,175.8L420.3,185.1 402.6,196.2 395.6,202.0 400.8,209.4 409.3,225.2 412.0,233.8 428.0,269.3 439.5,300.2 448.3,315.9 454.8,326.0 455.3,343.9 454.7,352.9 453.1,350.4 447.9,347.4 443.9,343.0 441.6,337.5 440.6,331.6 441.8,325.8 447.4,315.1 452.3,307.6 454.5,302.0 455.2,299.1 455.5,290.1 455.1,275.1 453.3,269.4 455.1,257.7 453.0,266.4 454.4,272.2 453.1,266.4 448.8,255.2 447.2,246.3 446.4,219.4 444.7,201.4 445.3,189.5 444.7,177.5 446.4,153.6 445.9,141.6 443.8,126.7 438.5,109.5 439.1,112.5 440.7,114.9 450.7,121.4 454.3,126.2 455.1,150.2 455.0,189.2 452.4,190.7 451.7,193.6 454.1,202.3 455.2,211.2 455.5,232.2 454.3,244.1 455.2,262.1 453.3,256.4 451.7,244.5M437.2,376.3L428.4,378.1 407.4,378.1 395.6,380.6 399.6,350.9 397.9,345.2 396.0,342.8 410.1,316.4 411.3,313.6 411.9,307.7 410.3,301.9 407.0,296.9 402.3,293.3 396.9,290.6 397.6,272.7 397.3,236.7 398.0,212.7 395.5,188.9 401.7,224.3 404.6,248.1 407.6,262.8 408.5,271.7 419.3,302.9 431.0,327.2 433.8,341.9 434.9,359.9 437.5,368.5 440.6,383.2 432.1,370.8 424.6,357.9 420.9,353.1 408.6,340.0 397.0,330.5 409.2,321.9 415.7,315.6 451.2,293.3 448.8,291.5 445.3,286.7 443.6,277.9 443.5,226.9 445.6,203.0M435.1,311.9L424.7,317.9 421.7,318.2 418.9,317.4 416.4,315.7 414.8,313.2 414.3,310.2 417.2,292.4 420.1,280.8 423.4,254.0 426.8,249.2 432.1,246.3 438.0,245.5 443.9,246.5 457.9,251.8 458.0,269.8 457.0,281.8 447.8,316.5 434.5,346.7 432.3,348.7 429.6,350.0 426.6,350.1 418.1,346.9 400.8,342.2 395.3,339.9 400.9,316.6 404.2,298.9 419.0,262.9 424.5,245.7 438.9,222.9 442.7,214.7 448.9,204.5 458.0,192.6 437.5,197.1 416.6,198.9 408.0,201.4 396.2,203.7 405.7,228.9 407.8,243.7 408.3,297.7 407.0,333.7 408.0,354.6 409.8,372.5 412.5,384.2 412.8,381.2M499.5,115.6L492.0,110.6 468.0,111.0 459.4,113.3 438.0,124.2 432.3,126.1 426.4,126.8 408.4,125.8 396.5,126.9 410.4,132.4 420.9,138.3 428.5,143.1 440.3,152.3 450.8,158.1 461.8,162.9 479.0,168.2 500.4,151.8 513.8,135.7 525.9,118.5 533.6,109.3 516.4,114.7 510.5,115.4 504.6,114.6 499.2,111.9 497.0,109.9 473.1,111.5 440.1,111.3 395.2,109.9 407.2,118.9 420.8,130.6 434.6,146.5 443.0,158.9 447.3,166.8 469.3,157.3M462.6,110.2L438.1,121.6 417.6,126.1 411.6,126.7 397.3,131.1 396.8,161.1 397.6,170.1 409.6,170.9 415.4,169.4 424.3,168.5 448.3,169.1 487.2,166.6 524.7,156.3 527.2,154.5 528.9,152.1 529.7,149.2 525.3,110.5 517.5,114.9 512.8,118.6 504.9,127.6 488.0,144.6 482.5,151.7 471.6,169.7 481.3,162.7 492.8,153.0 497.9,149.9 508.9,145.1 520.5,142.2 559.3,138.8 568.1,136.5 584.9,130.2 614.0,122.7 619.5,120.4M601.6,130.1L611.5,115.2 616.1,111.3 618.8,110.0 616.9,112.3 611.8,115.5 603.3,118.6 597.5,119.9 567.8,123.6 550.1,127.0 526.2,129.6 502.3,131.1 496.7,129.1 494.7,126.9 491.2,118.6 486.9,110.7 459.9,110.7 442.0,112.0 424.0,112.1 412.3,109.6 433.5,120.7 456.3,128.0 458.1,130.5 458.1,133.5 456.5,136.0 443.1,152.1 432.4,166.6 430.2,168.6 427.4,169.8 424.4,170.0 421.5,169.3 416.9,165.6 415.4,163.0 415.0,160.0 413.6,142.1 416.2,118.2 416.2,109.2 422.1,109.0 431.0,110.4 440.0,110.7 443.0,110.6 448.8,109.2 450.1,111.9 454.9,115.3 469.7,117.5 517.7,116.9M595.5,156.2L593.4,168.0 593.0,176.9 580.9,168.1 576.9,163.7 575.9,157.8 578.0,152.2 579.9,150.0 587.6,145.2 598.3,139.8 620.9,125.1 642.5,114.8 646.7,110.5 643.9,111.6 639.3,115.4 636.7,120.8 636.7,123.8 641.0,144.3 640.7,156.3 642.1,171.2 642.0,177.2 638.1,172.7 622.7,158.5 608.3,143.2 598.9,135.8 588.5,129.8 586.4,127.6 583.3,122.5 582.5,119.6 582.3,116.6 584.3,111.0 602.2,111.8 632.2,111.9 650.1,109.9 668.1,109.6 668.0,145.6 669.7,160.5 670.3,178.5 671.0,178.5 659.1,177.2 626.1,177.1 614.1,176.3 608.5,174.4 603.5,170.9M259.9,683.0L199.5,682.7 187.1,683.9 181.4,683.4 175.0,684.4 169.5,684.1 157.7,684.8 154.0,684.2 142.0,684.7 124.1,683.9 115.4,684.6 111.8,684.1 109.3,684.7 106.3,684.2 88.2,684.5 85.0,684.3 83.0,683.3 78.7,677.7 77.7,626.6 78.3,623.8 77.8,615.1 78.8,609.1 79.4,594.0 78.8,591.1 79.8,572.8 79.3,557.8 80.0,555.1 79.5,551.7 80.7,530.6 80.2,528.0 80.4,512.5 79.3,503.6 79.4,488.8 78.8,485.5 79.3,482.5 78.8,467.2 79.4,465.0 79.4,455.2 78.9,452.4 79.6,446.7 79.2,434.3 80.1,429.8 83.2,427.1 85.4,426.2 103.0,426.6 129.9,425.8 166.6,425.8 205.9,423.8 244.9,425.2 286.7,425.0 305.2,426.1 307.9,425.6 310.6,426.1 338.0,425.6 342.9,426.7 345.9,430.0 347.2,434.3 345.6,477.0 346.4,512.5 346.5,527.9 345.9,530.4 346.7,533.6 346.2,543.0 347.7,557.7 347.1,560.5 348.1,566.6 347.8,575.7 348.4,582.0 347.5,603.1 347.9,623.5 347.3,630.2 348.0,632.7 346.9,677.4 345.6,680.0 342.8,682.7 338.3,684.2 331.6,684.7 326.3,684.2 317.2,684.8 311.1,684.2 304.6,684.7 287.1,683.3 265.9,683.3 256.9,682.7 241.9,683.3 238.7,682.6 235.6,683.1M217.7,429.6L235.8,430.4 238.5,429.8 256.8,430.5 262.8,430.0 266.4,430.8 275.4,430.2 281.0,430.8 299.0,430.5 314.1,431.3 343.9,430.7 346.8,433.7 347.7,442.1 347.6,481.6 348.6,496.6 347.9,511.1 348.5,514.6 347.8,520.2 348.3,526.5 347.3,550.9 347.7,574.5 348.5,577.6 347.8,589.6 348.5,592.5 347.7,598.9 348.1,608.1 347.4,619.7 348.1,632.1 347.3,641.1 347.9,653.1 347.2,656.3 347.5,665.4 346.4,683.1 346.9,686.5 345.6,693.0 341.2,694.0 326.5,695.0 317.1,694.5 308.5,695.2 284.3,694.9 278.5,695.5 274.9,694.9 257.2,695.9 226.6,695.0 221.1,695.6 187.8,695.4 178.7,696.2 160.6,695.5 114.8,695.8 103.8,694.9 100.5,691.5 100.1,689.6 100.7,686.3 100.4,671.0 101.1,662.0 100.4,659.1 100.9,631.9 100.3,628.6 100.9,616.7 100.2,611.2 100.8,599.1 100.2,596.2 100.6,592.7 99.8,577.9 100.4,571.4 99.8,568.9 100.7,526.3 99.8,517.1 100.5,514.8 99.1,487.7 99.7,460.6 99.0,457.0 99.6,445.5 99.0,441.8 99.3,436.3 100.3,433.2 103.2,430.5 106.1,429.6 115.2,429.2 127.3,429.7 148.2,429.1 160.8,429.9 163.3,429.2 172.7,430.2 178.5,429.8 196.3,430.4 208.9,429.7 211.8,430.2 214.8,429.5 239.2,430.3M77.7,439.4L78.2,434.6 79.4,431.8 85.0,428.5 91.0,428.7 108.5,427.2 139.4,426.8 142.2,427.4 148.2,426.8 154.8,427.7 166.2,427.8 187.4,426.8 191.1,427.3 206.0,426.1 236.1,426.7 239.3,426.1 245.2,426.7 269.6,425.9 293.5,427.1 311.9,428.9 327.3,428.6 336.6,429.2 338.9,428.5 345.1,430.3 346.6,432.5 347.6,439.8 346.8,463.9 347.5,469.6 348.0,496.9 348.8,503.0 347.4,535.4 348.0,544.6 347.7,550.8 348.7,562.8 348.3,569.3 349.1,571.7 349.9,611.3 349.2,613.6 350.4,628.8 350.3,659.4 349.5,670.7 348.6,674.1 348.2,688.5 347.3,690.9 342.1,694.5 336.5,694.9 315.3,694.3 308.9,694.8 293.9,693.7 245.0,695.1 226.8,694.0 224.5,694.5 214.6,693.7 211.7,694.2 193.6,693.7 181.5,694.8 130.5,695.6 112.0,697.3 99.4,697.4 90.5,697.0 82.6,695.2 80.2,693.1 79.5,691.0 77.9,689.1 77.6,686.0 78.7,668.2 78.2,638.1 79.4,617.0 78.5,562.5 79.4,553.9 79.1,550.5 80.0,545.0 79.9,523.9 80.7,520.5 79.4,500.0 80.0,496.6 79.1,481.9 79.8,475.5 79.1,472.3 79.5,466.8 77.5,440.0 77.9,434.1 79.0,432.2M92.0,458.7L91.6,449.8 92.4,438.0 94.9,434.7 100.4,434.1 131.2,434.4 136.8,435.4 140.3,434.9 148.8,435.6 185.4,435.3 197.3,436.0 200.7,435.4 203.5,435.8 230.9,435.0 239.9,433.9 245.8,434.4 254.6,433.4 258.4,434.0 273.0,434.1 321.4,433.4 327.3,434.2 330.3,433.8 340.1,434.3 344.1,436.1 346.1,443.4 346.3,470.4 347.0,477.1 346.2,494.8M100.8,458.1L100.9,440.1 104.0,433.7 110.4,430.7 143.1,430.6 152.6,431.3 155.2,430.7 164.5,431.4 176.4,430.9 191.6,431.8 194.4,431.2 197.5,431.8 209.7,431.0 215.9,431.5 228.1,431.0 255.3,431.3 273.0,432.3 282.0,431.5 288.2,432.0 294.6,431.3 297.1,431.9 303.2,431.3 306.5,432.0 315.7,431.4 321.5,432.0 337.0,430.9 342.2,431.3 348.7,434.7 350.9,438.2 352.8,443.4 352.9,470.5 352.0,479.1 352.5,488.2 352.2,518.1M86.2,481.1L86.3,471.6 85.5,468.5 86.2,465.5 85.6,463.0 86.7,429.9 88.8,425.5 92.7,423.4 98.3,422.9 104.0,423.8 106.8,423.3 112.6,424.3 116.3,423.8 118.9,424.6 148.9,425.9 176.5,424.3 194.7,424.7 212.5,423.9 215.7,424.5 218.9,423.7 233.9,423.7 242.8,422.8 251.4,423.5 275.7,423.5 278.6,424.1 297.2,423.6 300.0,422.8 335.8,422.0 344.6,423.8 346.6,425.3 349.1,429.5 349.8,432.4 349.3,438.7 349.9,451.0M357.1,648.0L357.7,651.2 355.3,690.0 353.6,693.6 350.9,696.9 343.6,699.0 334.8,698.6 328.9,699.4 322.4,698.6 289.5,698.7 286.5,698.0 250.2,698.6 237.6,697.6 231.5,698.0 228.4,697.2 201.7,698.0 180.2,699.6 174.5,699.2 168.5,699.9 143.8,699.8 141.0,700.5 120.1,701.1 101.1,700.6 94.5,698.0 92.9,696.0 90.8,694.7 88.8,687.0 89.0,671.8M351.9,641.7L351.9,647.5 352.6,650.7 352.3,662.4 352.9,665.5 352.1,677.6 349.6,682.2 347.9,683.9 345.2,684.8 330.2,684.3 315.2,685.0 293.9,683.9 285.2,682.8 279.1,683.2 270.1,682.2 249.0,682.1 243.1,682.8 221.6,682.3 206.5,683.0 197.9,682.5 161.1,684.2 116.0,683.0 101.5,684.0 98.3,683.7 95.4,684.4 86.0,683.6 84.0,682.2 82.3,677.3 81.7,675.0 82.3,668.5 81.5,635.0M344.0,629.0L344.3,632.2 343.0,653.1 341.3,665.5 340.7,683.5 341.5,694.9 340.3,696.3 336.9,697.9 322.0,697.4 318.6,697.9 306.3,697.2 303.6,697.7 291.5,697.6 285.6,698.3 279.7,697.9 264.2,698.8 252.6,697.8 228.3,697.4 225.2,698.1 207.6,699.4 204.5,699.0 198.0,700.0 192.2,699.5 180.5,700.2 165.5,699.8 155.9,700.8 146.8,700.4 140.7,701.2 138.4,700.6 132.2,701.0 126.4,700.0 122.7,700.4 110.9,698.8 107.9,699.0 100.8,697.1 100.0,694.9 99.3,683.6 99.9,680.1 99.5,671.2M174.6,695.3L171.7,695.9 166.3,695.4 138.8,696.6 111.7,695.2 108.8,695.5 97.5,694.2 94.3,690.8 93.4,661.1 93.9,658.4 93.3,655.2 94.6,616.2 94.0,585.6 96.0,558.1 96.1,537.6 94.6,510.2 93.8,506.9 94.1,495.3 93.3,486.1 93.8,473.6 92.5,458.9 91.8,437.1 92.4,431.3 93.3,429.0 96.8,426.0 124.2,424.5 138.6,425.3 141.6,424.7 150.9,425.5 177.7,425.0 181.1,424.3M177.9,696.7L156.9,695.9 147.5,696.5 144.9,695.8 141.9,696.4 132.5,695.8 102.7,696.3 98.1,694.5 94.0,689.5 92.7,679.1 92.7,672.7 93.5,670.1 92.8,666.4 93.4,663.8 93.0,648.9 93.7,633.6 92.9,615.2 93.3,606.3 92.6,603.8 93.2,600.1 92.4,597.3 92.9,576.1 91.8,525.3 92.9,507.2 93.0,488.8 93.6,485.6 93.0,482.6 93.8,464.3 93.1,458.6 93.8,449.8 93.4,440.6 94.5,432.6 98.1,427.2 105.1,425.3 156.5,425.8M152.9,691.0L144.0,690.4 140.3,691.0 131.8,690.3 128.6,690.9 125.5,690.2 104.0,690.9 89.3,690.7 86.7,690.2 83.7,687.6 80.9,683.9 79.8,678.6 79.3,669.1 79.9,666.8 79.2,657.5 79.8,654.3 79.2,651.5 78.9,639.1 79.8,608.9 79.3,606.0 80.2,594.0 79.8,584.5 80.6,572.6 80.0,563.7 80.6,560.2 80.3,529.6 81.0,520.6 80.4,518.0 80.7,493.4 79.9,484.8 80.6,478.1 79.9,475.2 80.8,457.1 81.0,441.7 80.3,436.1 81.1,430.7 85.4,426.1 92.3,424.3 95.5,424.8 110.0,424.5 113.5,425.1 116.4,424.3 119.5,424.7M152.4,683.7L149.4,684.4 140.7,684.1 103.9,685.7 99.0,684.5 94.8,682.3 93.3,680.2 91.5,673.3 91.7,639.4 90.9,637.1 90.8,630.3 91.7,594.4 90.6,558.4 91.5,549.3 91.0,543.3 91.6,531.2 92.3,528.3 92.3,506.7 93.0,500.8 92.4,497.6 92.9,494.8 92.5,482.4 93.3,473.8 92.8,458.3 93.5,455.7 92.4,434.9 93.8,430.8 97.2,427.9 101.7,426.1 110.3,425.8M101.5,695.7L95.3,696.0 90.1,694.3 87.0,691.5 86.0,689.8 85.8,686.9 85.7,644.3 86.4,641.5 85.7,638.2 86.1,626.5 84.7,599.3 85.5,590.3 84.9,583.7 86.1,553.9 85.4,547.6 86.2,538.9 85.6,535.3 86.4,532.9 85.8,529.8 86.5,526.8 86.1,517.8 87.0,508.3 86.5,505.2 87.3,501.9 86.8,493.0 87.3,489.9 86.7,486.9 87.0,469.1 86.2,462.6 86.8,460.4 86.6,442.3 90.7,436.9 97.9,435.8 107.6,435.4 113.6,436.2 122.2,436.3 124.9,435.7 131.2,436.5 146.6,436.3 149.6,436.9 155.2,436.1 164.7,436.7M135.3,689.8L113.4,690.3 95.6,689.1 91.3,687.6 89.3,683.4 89.9,680.2 89.3,677.3 90.0,671.2 89.3,667.7 90.0,662.2 90.1,643.7 91.3,634.8 91.3,620.1 92.0,616.9 91.2,607.9 91.7,602.1 90.9,599.1 91.1,592.9 89.9,580.6 90.4,577.9 89.4,556.7 89.4,535.5 88.2,511.4 89.7,471.8 87.9,442.2 88.2,430.0 89.6,427.2 92.6,424.2 98.3,423.5 116.4,422.7 122.6,421.8 125.9,422.3 158.9,422.2M177.7,698.4L168.4,698.7 159.7,697.7 150.5,698.2 147.2,697.5 144.5,698.1 138.7,697.4 129.4,698.2 120.7,697.9 117.2,698.6 100.2,697.9 95.6,694.1 93.5,689.4 93.0,666.2 92.1,656.6 92.7,653.6 91.9,633.0 92.8,626.6 92.6,605.7 93.2,602.7 92.5,578.8 93.5,525.1 92.8,515.9 93.4,509.5 92.9,497.5 94.7,450.0 94.0,443.9 94.5,440.6 93.8,437.5 96.1,431.0 98.3,428.2 102.5,426.7 114.0,426.5 117.0,427.2 126.2,426.4 141.4,426.6M306.7,687.0L307.5,681.0 310.4,675.8 315.1,672.1 320.8,670.4 323.8,670.5 352.1,680.3 354.6,682.0 356.0,699.9 347.5,696.9 341.6,696.2 314.6,696.1 278.7,693.2 275.8,693.9 273.3,695.5 271.6,698.0 271.0,700.9 256.6,681.7 248.4,672.9 239.9,664.5 218.3,648.3 216.9,645.7 216.8,642.7 218.0,639.9 220.1,637.9 223.0,636.9 264.8,640.5 276.6,642.6 315.5,645.8 324.4,645.5 348.0,641.2 350.6,642.8 351.0,645.8 348.5,651.2 346.8,660.1 342.5,667.9 338.4,672.3 331.6,678.1 292.7,700.7 284.7,691.8 278.1,685.7 256.7,669.2 244.0,661.3 242.3,658.8 241.9,655.8 242.8,653.0 250.7,644.0 254.1,639.0 255.6,636.4 255.8,633.4 261.5,622.8 265.9,611.7 282.5,583.2 286.0,578.3 294.2,569.6 298.4,565.3 301.2,564.2 304.2,564.5 316.6,572.9 335.3,582.3 347.5,591.0 355.5,595.2 338.1,599.8 299.9,617.1 276.4,635.8 263.9,648.7 254.5,656.2 238.9,670.2 235.9,670.2 233.7,668.2 231.9,656.3 229.9,650.7 224.5,640.0 216.6,627.2 212.4,619.2 207.6,611.6 205.0,610.2 202.0,610.0 199.2,611.1 187.1,624.4 184.0,629.5 183.5,632.5 183.7,635.5 186.0,641.0 190.6,644.7 196.5,645.8 201.9,653.0 206.5,660.7 207.5,666.6 205.8,672.3 204.0,674.7 201.7,676.6 193.6,680.7 177.1,687.8 165.6,691.1 153.8,693.5 148.0,692.3 143.9,688.0 142.1,682.3 143.3,676.5 146.1,671.2 164.8,661.7 175.1,655.5 188.8,649.5 232.9,624.0 255.9,617.2 282.6,613.2 305.3,605.5 338.6,591.8 354.9,584.1 337.4,580.0 277.5,577.8 244.7,573.9 194.3,566.2 167.3,566.8 128.7,571.8 113.7,572.3 101.7,571.8 89.9,569.9 84.9,566.6 80.3,558.9 78.2,550.2 81.1,549.6 85.8,546.0 88.9,540.8 91.2,532.1 94.2,499.3 95.0,478.3 97.1,466.5 98.5,448.6 102.0,421.8 103.3,433.7 105.6,435.8 108.6,435.7 117.1,427.3 118.1,424.4 117.9,421.4 116.0,445.3 117.1,469.3 116.7,487.3 114.1,514.1 115.0,520.0 117.9,525.2 122.8,528.6 128.5,530.6 145.7,535.7 154.5,537.6 184.2,541.7 202.2,542.2 231.9,546.8 240.8,547.1 255.8,546.8 288.2,540.5 334.1,526.6 345.7,523.6 354.6,522.2 354.2,510.2 351.5,486.4 351.1,447.4 348.2,429.7 345.7,421.0 330.9,423.0 315.9,423.6 291.9,422.7 261.9,423.7 241.0,422.8 220.0,424.4 178.1,425.8 160.2,428.2 142.6,431.7 131.0,434.8 119.9,439.2 102.4,443.7 78.7,447.4 86.0,456.9 88.5,462.3 89.0,468.2 87.9,477.2 84.4,488.6 84.5,491.6 85.7,494.4 90.2,498.3 101.7,501.6 132.1,514.5 134.3,523.2 135.2,532.2 133.5,562.1 135.8,601.0 134.5,603.7 132.0,605.4 129.0,605.7 126.3,604.5 124.2,602.3 109.5,583.4 88.6,561.9 84.3,554.0 82.5,545.2 82.1,536.2 79.6,530.8 82.5,531.6 84.8,533.5 91.9,543.2 96.6,546.9 102.2,549.0 108.1,548.5 155.9,531.0 203.2,523.2 217.9,519.9 237.7,513.0 261.7,500.8 270.0,497.3 272.5,495.6 275.9,490.7 276.6,487.8 275.4,481.9 268.2,472.4 257.5,461.9 248.4,454.1 225.7,430.2 216.4,422.6 198.2,476.6 168.4,496.7 166.4,498.9 165.2,501.6 164.9,507.6 171.8,524.2 175.2,529.1 177.8,530.5 180.8,531.0 183.7,530.5 194.3,524.7 213.3,515.9 246.9,502.9 270.2,497.1 281.9,494.9 299.9,494.8 317.6,498.1 329.1,501.4 354.3,511.0 354.0,520.0 350.1,552.7 354.3,560.7 356.0,566.4 356.0,569.4 353.0,570.2 348.5,574.0 344.9,582.2 337.4,632.6 326.9,667.0 321.5,677.7 315.1,687.9 311.4,692.6 302.8,700.9 236.8,700.4 234.0,699.4 231.7,697.5 226.1,690.5 220.8,687.6 212.2,684.9 188.3,682.9 170.3,683.0 146.4,681.3 131.8,678.1 116.9,676.5 95.9,677.0 81.0,678.6 81.8,699.6 85.5,695.0 90.8,692.2 99.6,690.5 108.6,690.1 126.6,690.8 131.9,693.4 136.3,697.6 141.5,700.4 142.2,697.5 143.8,695.0 148.6,691.5 183.6,674.2 192.0,671.0 206.3,666.8 210.5,662.6 212.9,657.1 213.2,654.1 212.3,648.2 213.0,621.2 212.5,609.2 214.0,567.3 207.1,561.5 192.4,551.1 163.7,535.0 141.4,526.1 124.2,520.9 121.2,520.8 118.3,521.8 116.1,523.8 114.7,526.5 114.5,532.4 125.0,554.0 132.9,582.9 138.5,596.8 142.7,604.8 156.8,609.9 164.8,614.0 179.2,618.4 190.9,620.8 202.4,624.1 213.3,629.1 223.7,635.3 245.7,644.8 263.0,649.7 296.8,661.8 328.6,678.7 349.1,691.2 351.3,693.2 354.3,698.4 356.0,698.4 351.7,690.5 349.8,681.7 345.5,634.0 342.3,607.2 340.4,580.2 339.9,559.3 335.6,529.6 331.5,509.0 326.2,495.0 322.4,480.5 317.6,466.3 297.4,422.8 294.0,431.1 292.2,433.5 287.5,437.2 281.6,438.4 275.8,437.0 253.8,421.4 247.8,421.3 199.8,421.0 204.3,425.0 215.6,428.9 221.5,429.7 224.4,428.6 226.5,426.5 227.9,423.9 226.4,421.2 208.4,421.0 208.4,424.0 207.1,426.7 201.8,434.0 188.1,449.9 183.2,453.3 177.6,455.5 150.7,457.0 87.7,455.2 78.8,454.4 90.8,454.7 93.7,455.4 98.5,458.9 101.5,464.0 101.9,469.9 99.9,475.6 87.0,502.7 86.7,505.6 87.6,508.5 89.7,510.6 92.4,511.8 95.4,511.8 128.9,498.6 158.6,484.2 179.4,472.3 190.4,467.4 196.1,465.7 205.0,464.3 222.2,459.2 224.7,457.5 226.6,455.2 227.7,452.4 228.0,449.4 227.5,446.4 224.7,441.2 213.9,430.8 206.1,421.7 203.1,436.4 202.6,442.4 201.9,472.4 193.7,531.8 193.3,537.8 194.2,558.7 197.0,591.6 198.3,597.4 200.6,618.3 200.9,639.3 202.3,666.3 205.6,690.0 205.3,693.0 204.2,695.8 200.2,700.3 188.3,700.9 186.6,698.4 181.7,695.0 175.9,693.3 167.0,692.2 149.0,692.5 116.5,697.6 80.5,698.1 85.0,690.4 88.0,681.9 89.3,676.1 90.1,649.1 89.8,595.1 87.2,547.2 87.9,538.2 88.4,508.3 90.8,490.4 94.1,475.8 95.7,463.9 96.9,446.0 96.6,422.0 116.6,428.4 135.6,437.3 163.4,448.5 176.4,456.0 210.8,480.1 218.2,499.7 227.3,528.3 231.3,542.7 235.9,569.3 241.2,592.7 248.4,612.4 256.8,641.2 259.9,649.7 268.6,681.5 274.4,698.5 274.0,692.5 273.0,689.7 271.7,687.0 267.8,682.5 221.2,655.3 208.0,643.1 194.0,631.8 181.6,618.8M331.4,608.7L336.7,619.5 342.1,633.4 349.0,646.8 352.3,661.4 354.7,682.2 353.7,685.0 351.8,687.4 341.9,694.1 336.4,696.3 324.5,698.0 297.5,698.9 279.5,698.9 270.6,697.9 264.6,698.7 261.8,699.8 249.9,701.0 248.8,698.2 244.0,694.6 238.4,692.4 232.6,691.3 208.6,689.4 160.7,687.5 94.8,686.7 79.9,684.7 85.9,685.2 88.6,686.5 90.5,688.8 91.0,691.8 88.8,700.5 85.8,700.5 83.0,699.3 80.8,697.3 80.2,694.4 81.6,688.6 83.2,673.6 86.7,659.1 87.4,638.1 88.9,635.5 91.3,633.8 94.3,633.4 97.0,634.7 112.2,653.3 124.1,666.7 137.5,686.6 140.8,695.0 141.9,700.9 143.7,689.0 162.5,674.1 182.0,660.1 198.2,652.4 205.5,647.2 211.8,640.7 240.3,606.0 254.2,579.5 262.6,567.0 272.1,555.5 281.0,547.4 300.5,533.4 308.9,524.9 326.5,504.5 334.7,491.9 344.9,473.5 351.1,456.7 355.6,439.2 351.7,450.6 349.6,459.3 350.0,465.3 351.2,468.0 354.7,472.9 352.4,474.8 351.2,477.6 349.0,489.3 345.0,537.2 352.1,550.4 355.6,558.7 335.1,563.0 321.3,568.9 296.7,586.1 276.5,598.9 262.3,610.0 246.8,619.1 219.3,631.1 207.6,633.5 186.8,636.4 184.3,638.0 182.4,640.4 181.5,643.2 182.1,649.2 185.5,654.1 204.0,673.7 213.3,681.3 243.8,700.4 240.0,695.7 234.9,692.6 223.3,689.8 211.3,689.1 208.4,688.3 205.7,687.0 203.6,684.9 202.2,682.2 201.5,679.3 201.0,634.3 197.3,607.6 194.8,598.9 185.4,576.9 179.1,553.7 175.6,548.9 170.6,545.7 167.7,544.9 161.8,545.6 124.0,570.1 119.9,574.4 118.3,577.0 116.8,582.8 117.9,588.6 119.4,591.2 123.6,595.4 129.0,598.0 130.3,600.7 135.3,614.8 139.9,635.3 146.0,652.3 157.4,673.4 166.1,692.5 170.5,700.3 188.5,699.1 196.9,696.1 204.8,691.8 213.9,679.9 210.8,644.0 207.9,632.4 207.7,629.4 210.0,623.9 212.2,621.9 215.1,622.7 217.6,624.3 241.7,642.2 244.4,643.4 250.4,643.9 256.1,642.3 266.0,635.6 280.7,632.8 300.7,626.4 332.6,617.8 344.5,616.2 353.4,615.9 352.8,591.9 349.7,586.8 345.1,583.0 343.3,580.6 340.8,575.2 339.1,566.4 341.2,533.5 341.4,518.5 340.1,494.5 337.0,470.7 336.8,440.7 334.6,422.9 307.3,450.7 304.5,456.0 304.0,461.9 306.0,467.6 311.1,478.4 316.1,492.6 332.9,527.8 335.6,536.3 338.1,548.1 334.9,559.6 329.0,573.4 325.0,584.7 322.4,602.5 321.6,629.5 319.5,653.4 320.2,668.4 322.8,686.2 325.6,694.7 327.5,697.0 330.2,698.4 333.2,698.6 335.9,697.4 338.1,695.3 341.2,686.9 351.3,655.5 355.5,634.9 347.8,625.8 335.0,613.1 302.0,587.1 298.4,578.9 289.4,563.3 276.9,555.1 261.2,546.3 249.5,536.9 207.3,508.3 188.4,499.2 168.8,491.7 139.9,475.8 126.2,469.7 108.4,458.6 97.6,453.4 82.0,444.5 78.2,439.8 81.1,440.8 83.5,442.6 88.2,450.2 90.5,458.9 91.9,473.8 91.3,488.8 88.2,527.7 88.9,554.6 87.9,569.6 85.2,587.4 78.3,607.2 78.1,616.2 81.1,611.0 82.5,605.2 83.9,593.3 84.4,581.3 83.6,554.3 81.8,545.5 78.4,537.2 87.9,555.9 106.6,586.7 112.6,600.4 118.3,617.4 127.9,636.1 137.8,651.1 140.4,652.7 143.4,652.7 164.2,640.8 186.0,630.7 206.1,617.6 220.6,607.0 236.6,593.5 244.8,584.7 254.0,577.0 262.5,568.5 268.4,561.7 284.4,540.0 292.6,531.3 299.5,525.4 300.8,522.7 300.8,519.7 299.5,517.0 297.2,515.1 283.5,509.2 260.2,503.5 254.5,501.5 249.3,498.5 234.4,488.5 215.6,473.6 191.7,450.8 171.5,438.0 160.8,432.6 142.7,421.8 100.8,421.5 79.8,422.8 81.8,425.0 88.8,438.2 98.6,449.5 101.6,454.7 102.4,457.6 103.4,463.6 104.7,487.5 108.8,523.3 108.8,544.3 110.5,562.2 110.4,565.2 108.0,570.6 103.4,574.5 97.7,576.0 79.7,575.8 79.9,599.8 79.0,611.7 78.1,659.7 83.1,656.5 86.6,651.7 88.8,646.1 91.3,631.3 91.7,616.3 90.6,568.3 93.0,517.4 92.0,481.4 92.7,460.5 91.7,448.5 87.8,430.9 86.8,422.0 116.7,423.5 158.6,421.1 158.5,424.1 155.0,428.9 149.8,431.9 141.0,434.1 120.1,435.2 78.2,432.2 93.0,468.3 111.7,499.0 119.9,515.0 126.6,525.0 129.6,525.5 132.0,523.8 133.6,511.9 133.3,502.9 131.5,488.0 129.1,476.3 130.0,473.4 132.1,471.4 140.8,469.1 145.9,465.8 149.5,461.1 150.7,455.2 150.4,452.2 143.2,435.8 135.8,422.7 142.2,429.0 152.1,435.8 196.5,471.5 216.1,485.4 223.8,490.0 230.9,495.5 252.7,516.2 273.1,538.1 280.1,543.8 290.1,550.4 303.7,556.7 337.2,569.8 341.9,573.5 345.4,578.4 346.3,581.2 347.8,593.1 351.8,610.7 353.2,622.6 352.8,625.5 352.0,628.4 348.2,633.0 342.7,635.4 339.7,635.7 336.8,635.1 331.5,632.2 325.7,630.7 319.9,632.0 315.4,635.9 313.3,641.5 314.0,668.4 312.4,686.3 313.3,698.3 312.8,674.3 315.6,638.5 315.6,611.5 316.7,581.5 315.7,554.5 309.9,522.1 304.9,486.5 301.0,468.9 298.2,467.8 295.5,469.0 294.4,474.9 292.5,492.8 293.1,504.8 292.2,519.8 289.4,531.4 287.5,546.3 285.1,558.1 275.4,586.4 272.6,587.6 269.9,586.3 266.1,571.8 261.0,545.3 253.5,519.3 254.9,513.6 259.1,509.3 261.9,508.2 267.9,508.3 308.3,519.5 327.3,528.4 348.2,540.3 355.4,545.6 340.9,549.3 330.0,554.2 320.4,561.3 287.2,581.9 263.2,581.8 254.3,581.1 245.3,581.9 212.3,580.5 200.4,579.3 197.4,579.9 195.0,581.6 193.2,584.1 189.1,598.5 187.5,613.4 187.9,622.4 191.0,640.1 191.5,649.1 190.2,664.0 190.4,679.0 189.4,687.9 186.1,692.9 183.7,694.7 175.4,698.1 163.6,700.4 148.6,701.0 153.6,697.6 162.1,694.7 183.0,693.1 207.0,693.6 212.0,696.8 214.9,697.8 226.6,700.3 224.6,679.4 221.8,664.7 223.1,662.0 225.7,660.5 228.7,660.6 233.2,664.6 253.6,686.6 266.4,699.2 251.3,680.6 242.0,673.0 233.8,664.3 231.0,663.1 228.0,663.3 225.2,664.4 223.1,666.6 217.2,683.5 214.3,698.2 201.8,664.5 195.2,644.6 189.2,621.3 186.0,603.7 185.3,585.7 190.2,568.4 196.5,551.6 207.5,533.7 207.7,527.8 206.4,525.1 204.3,523.0 201.6,521.6 198.6,521.2 187.0,524.1 173.2,529.9 153.1,535.9 123.3,539.7 78.9,547.0 78.0,568.0 81.0,568.0 86.2,565.0 89.6,560.1 91.9,554.5 93.9,542.7 94.7,518.8M154.1,679.4L163.1,678.2 162.3,618.2 150.4,547.3 145.4,496.5 144.1,490.7 141.8,488.7 138.8,488.2 136.1,489.5 119.3,517.8 106.3,538.0 86.6,591.4 78.5,607.5 78.1,622.5 82.1,618.1 84.8,612.7 86.4,607.0 88.2,595.1 88.6,586.1 87.1,568.2 88.4,541.2 88.1,523.2 89.4,514.3 94.1,490.8 99.7,470.6 105.1,456.6 105.8,450.7 103.5,445.2 96.3,435.6 88.4,422.9 88.2,434.9 87.1,437.7 85.0,439.9 82.3,441.1 79.3,440.9 79.0,449.9 79.9,452.7 83.9,457.2 89.4,459.4 101.4,458.9 137.1,454.2 146.1,454.2 158.0,455.1 160.8,453.9 159.3,462.8 159.1,498.7 157.5,501.3 155.0,503.0 150.4,499.3 147.5,494.0 145.6,488.4 144.3,464.4 146.7,452.7 151.5,438.5 153.7,423.7 153.9,429.6M144.5,655.8L149.0,676.3 152.6,700.0 155.6,700.0 152.4,695.0 149.7,686.4 148.0,659.5 147.7,644.5 149.5,617.6 148.5,587.6 147.2,572.7 146.5,524.7 148.5,485.8 156.4,423.3 145.2,447.8 123.2,480.0 117.1,486.6 110.2,492.4 93.7,509.8 89.3,513.8 79.4,520.7 79.3,532.7 78.2,547.6 86.2,563.7 93.6,576.8 110.0,594.3 131.6,615.1 155.2,642.2 153.3,633.4 145.5,610.8 137.2,594.8 133.5,590.1 131.0,588.5 125.2,587.2 113.5,590.0 105.1,593.0 90.3,595.9 78.8,599.1 99.6,601.5 132.6,603.0 156.1,607.9 155.8,619.9 156.7,631.8 154.4,626.3M97.9,437.7L137.8,450.8 140.3,452.5 143.8,457.3 143.6,487.2 141.9,529.2 139.0,556.0 138.8,577.0 136.7,597.9 137.8,612.8 143.6,633.0 142.7,654.0 144.0,668.9 140.7,663.9 139.1,658.2 136.5,634.3 138.4,607.4 136.4,580.5 136.3,541.5 135.5,520.5 136.1,463.6 137.1,442.6 136.4,427.6 133.2,422.6 132.9,425.6 131.6,428.3 127.1,432.2 124.4,433.5 112.8,436.3 79.9,439.2 78.4,445.0 80.5,486.9 84.6,519.6 93.0,545.3 104.4,573.0 120.4,618.2 132.9,642.2 142.8,657.2 143.2,678.2M132.2,563.4L127.1,552.6 123.1,538.1 120.6,505.2 106.3,422.5 79.4,422.0 87.3,450.9 94.5,467.4 103.3,492.9 107.9,504.0 119.2,525.2 130.5,556.2 134.5,570.6 139.9,600.1 147.2,619.8 158.6,644.2 158.2,698.2 159.1,698.2 156.3,692.9 154.3,684.1 152.7,645.2 150.9,630.3 146.1,609.9 145.1,607.0 143.0,604.9 140.1,604.1 137.2,604.9 124.7,617.8 79.5,673.8 78.6,667.9 78.1,664.9 102.1,664.6 129.0,667.0 158.9,668.2 159.1,677.2 157.5,671.5 156.0,668.9 152.6,663.9 146.5,657.3 143.9,651.9 142.0,643.1 141.4,628.1 139.2,613.3M118.7,465.6L118.9,459.6 116.5,438.8 116.2,429.8 114.4,427.3 111.5,426.5 105.8,428.4 78.3,440.3 78.3,488.3 94.5,474.9 106.4,461.5 115.0,453.2 139.6,422.9 158.4,432.1 194.6,458.9 214.6,476.9 235.8,488.0 256.8,488.5 277.8,487.9 292.8,489.0 293.0,486.0 294.3,483.3 301.1,477.4 334.7,457.8 356.0,446.6 347.9,450.6 337.8,457.0 326.9,462.0 298.8,472.5 282.4,479.9 270.8,482.9 264.9,481.9 260.0,478.5 258.2,476.1 256.8,470.3 257.2,464.3 256.1,452.4M324.6,488.2L324.7,470.3 329.2,443.7 330.5,422.7 354.5,421.9 354.5,421.0 342.5,421.0 338.8,425.7 330.9,430.0 316.9,435.4 282.1,444.2 257.5,455.4 244.4,462.7 225.5,477.5 222.3,482.5 221.3,488.4 221.7,494.4 224.0,499.9 228.0,504.5 254.7,490.9 267.3,482.8 274.4,477.3 278.6,473.0 279.8,470.2 280.1,467.2 279.4,464.3 275.6,459.7 272.9,458.4 249.5,453.4 240.5,452.7 216.5,452.5 210.6,451.8 184.3,445.9 166.9,441.2 155.1,439.1 152.2,439.8 149.9,441.8 148.8,444.6 149.1,447.6 165.0,469.4 178.8,485.3 191.3,502.1 198.5,492.5 203.8,481.7 214.8,453.8M271.3,486.3L261.7,501.5 262.5,465.5 256.9,423.9 268.5,433.4 273.6,436.6 307.9,455.1 330.4,463.5 342.1,466.1 353.3,470.4 331.0,479.3 314.9,487.4 303.8,492.0 291.4,500.4 272.4,473.4 268.2,469.2 251.6,456.4 228.7,432.6 222.0,426.6 214.6,421.5 190.6,421.0 175.6,421.9 148.7,422.0 109.8,425.0 97.8,424.1 79.8,424.2 117.4,434.5 132.1,437.4 158.9,440.8M329.9,439.1L329.6,427.1 328.3,424.4 326.2,422.3 317.2,422.4 311.8,425.0 305.9,431.7 301.1,435.4 295.5,437.4 289.6,438.6 220.8,442.8 208.8,441.9 196.8,442.0 184.9,442.9 170.1,445.3 164.6,443.0 160.6,438.6 159.1,432.8 158.7,423.8 170.7,424.3 179.3,426.8 184.8,429.3 207.0,444.7 232.7,460.0 264.3,482.8 274.7,488.8 291.9,453.9 294.4,452.1 297.3,451.4 300.2,452.3 302.5,454.1 317.0,473.2 321.8,476.8 333.3,480.1 351.2,481.9 353.9,483.2 356.0,485.4 353.1,484.4 348.5,480.7 345.3,475.6 343.2,470.0 339.9,465.0 328.5,455.5 323.5,448.0 318.4,444.8 306.9,441.7 297.9,440.5 259.0,439.2 235.1,437.0M620.6,436.9L633.0,436.4 637.8,437.7 642.3,440.5 644.8,444.9 645.9,453.1 645.1,495.1 644.3,498.5 644.3,506.9 642.8,525.2 644.0,561.1 643.5,567.4 643.9,594.4 643.4,597.4 644.8,624.3 644.1,627.5 644.8,639.1 644.0,654.3 644.4,660.8 643.7,663.8 644.8,688.0 644.5,693.5 641.8,700.2 637.3,702.9 632.6,703.8 626.6,703.6 623.0,704.4 605.5,703.8 599.2,704.5 575.2,704.3 562.8,702.7 532.0,701.7 513.9,702.3 490.1,701.5 478.0,702.0 474.7,701.4 465.4,702.2 415.3,701.1 410.3,697.0 408.4,690.6 408.1,678.9 407.3,675.3 407.2,639.5 405.6,606.2 407.9,564.1 407.5,560.9 408.1,543.4 407.5,537.6 407.8,506.9 408.6,494.8 407.8,462.0 408.6,459.1 408.0,456.2 409.2,444.9 411.5,441.6 413.0,440.0 417.8,438.4 429.0,437.9 431.8,438.8 441.3,438.7 465.8,440.3 505.2,438.3 511.1,438.9 514.2,438.1 516.9,438.8 520.3,438.1 535.6,438.5 544.6,437.4 568.6,437.3 593.1,438.3 611.5,437.5 616.9,436.6 620.2,437.1 632.8,436.4 635.4,436.9 640.1,439.3M472.2,695.4L469.7,694.9 451.1,695.3 436.4,694.4 430.4,694.9 414.9,694.5 408.6,692.1 406.9,688.6 406.2,671.1 406.9,659.1 406.2,653.5 405.6,620.5 404.5,602.0 405.4,586.8 404.7,584.0 405.4,577.8 405.6,557.4 404.9,550.8 405.6,548.2 405.5,527.4 406.2,524.4 405.8,518.2 406.5,500.2 405.9,497.5 405.6,479.4 406.1,476.3 405.4,464.2 406.3,452.2 405.9,446.2 407.3,441.2 410.0,438.0 415.4,436.1 430.1,436.4 436.0,437.3 439.3,436.9 448.3,437.8 454.5,437.4 472.1,438.2 481.7,437.6 484.1,438.4 502.2,438.5 529.9,438.3 550.4,437.0 553.8,437.6 559.8,436.8 584.2,437.5 593.2,437.0 596.0,437.7 617.0,436.8 659.2,436.8 664.4,438.3 666.3,439.8 668.9,443.9 669.7,455.5 669.1,458.2 669.9,461.5 669.2,499.9 668.3,503.1 668.0,515.1 668.6,520.8 667.9,556.9 667.2,560.0 667.9,563.0 667.3,566.4 667.7,572.1 667.3,593.6 668.6,617.3 667.9,623.3 668.4,629.6 667.6,656.5 668.2,659.1 668.3,668.3 667.8,674.5 668.7,686.4 667.4,691.2 661.6,694.9 650.0,695.5 647.6,694.9 635.5,695.8 631.9,695.4 617.1,696.1 614.1,696.9 572.0,695.5 560.2,695.9 553.9,695.3 551.0,696.0 547.5,695.2 538.9,695.7 520.9,694.7 517.6,695.2 505.5,694.3 502.3,694.9 484.3,694.5 481.0,695.3 469.7,694.8 460.2,695.5 447.9,694.9M622.4,429.8L637.6,429.5 640.6,428.7 647.0,430.9 648.7,432.6 650.2,436.7 649.9,473.1 650.7,479.0 651.1,497.5 650.6,500.2 651.3,506.2 650.2,524.1 650.0,545.4 650.7,551.7 650.3,554.2 651.0,557.5 651.7,581.2 651.4,599.6 650.3,608.2 650.7,620.2 649.9,632.8 649.9,647.8 647.8,677.4 648.5,683.6 647.6,687.4 644.9,690.1 642.8,690.8 619.5,692.1 580.7,692.0 577.3,692.8 568.3,692.4 565.1,693.2 520.1,692.4 484.2,694.7 472.0,694.0 417.1,693.6 409.7,691.6 406.4,686.6 407.2,668.7 406.3,650.4 406.5,635.9 405.8,629.3 406.4,626.4 406.6,599.6 405.9,593.8 406.2,578.2 405.5,566.4 405.9,545.0 406.6,542.2 406.4,521.6 404.7,506.1 405.0,500.3 403.7,485.1 404.2,479.0 403.6,473.1 404.2,452.0 403.4,446.3 403.6,437.0 404.3,434.0 406.9,429.7 411.2,427.6 414.0,427.2 450.4,426.3 487.0,428.2 508.2,427.5 510.7,426.9 517.4,427.5 526.3,426.8 538.1,427.1 544.4,428.1 592.4,428.9 595.8,429.6 604.6,429.5 613.9,430.5 616.4,429.8 619.7,430.4 623.0,429.8 626.1,430.4 628.7,429.6 634.6,430.0 640.6,428.8 643.2,429.6M646.6,522.5L646.0,525.1 646.6,534.6 646.0,537.6 646.7,558.6 646.1,564.5 646.3,582.8 649.1,631.3 649.1,643.0 648.3,649.0 648.9,652.0 647.9,664.1 648.5,667.1 648.8,682.3 648.5,691.2 647.8,694.3 644.8,697.6 641.6,698.5 638.8,698.0 636.0,698.6 632.5,697.9 605.3,698.1 584.9,699.4 554.5,697.8 542.0,696.4 529.8,696.6 524.0,696.0 514.8,696.6 484.7,695.1 472.7,696.1 466.4,695.7 463.8,696.6 454.5,696.5 448.4,697.4 433.2,697.1 430.3,697.8 412.5,696.5 409.0,697.1 404.1,693.8 403.0,688.3 403.2,673.4 402.5,663.8 403.0,643.1 402.0,612.5 401.1,609.6 400.7,601.0 401.7,570.1 403.3,552.0 402.7,549.7 403.3,540.4 402.9,537.2 405.1,491.6 404.4,488.7 404.8,473.7 403.6,461.7 403.2,443.7 403.6,434.9 404.9,430.1 412.2,428.3 430.3,428.3 457.9,430.5 460.9,430.0 475.7,430.7 506.2,429.1 520.9,429.4 554.7,426.8 575.2,426.7 581.6,427.5 587.6,427.2 602.8,428.2 617.4,427.3 626.7,427.9 629.8,427.1 644.8,428.4 646.6,429.8 648.3,434.7 648.8,452.4 648.1,455.6 649.1,464.8 648.6,468.0 649.0,485.7 646.4,516.5 646.9,519.4 646.0,546.2M459.3,427.5L465.5,428.0 477.1,427.1 480.6,427.5 483.2,427.0 486.0,427.6 495.5,427.0 531.2,428.4 534.6,427.9 558.1,427.9 567.0,428.7 578.9,428.2 585.5,429.0 591.4,428.4 600.0,428.9 602.9,428.2 606.2,428.8 624.0,427.6 627.5,428.1 636.2,427.5 642.0,428.2 644.8,431.7 645.2,434.0 644.9,445.7 645.6,461.4 645.0,463.8 645.8,467.2 645.0,470.1 645.8,473.3 645.1,476.0 645.9,485.5 645.2,488.7 645.8,491.2 645.0,509.5 646.1,533.9 645.8,561.3 646.4,567.1 645.6,573.4 645.3,636.5 644.3,648.7 644.9,652.1 644.2,654.7 645.0,660.8 644.3,670.0 645.0,673.2 645.0,685.3 643.2,689.6 639.2,691.5 633.0,690.8 621.0,691.4 618.2,690.7 600.4,690.7 573.5,691.6 558.1,690.9 552.1,691.5 540.0,691.1 495.1,692.4 491.8,691.7 483.3,692.1 480.5,691.4 462.5,692.1 459.2,691.4 435.2,691.5 429.0,690.8 414.6,691.3 409.8,689.6 408.5,685.5 408.2,642.8 409.0,621.5 408.3,606.7 408.9,603.9 408.2,591.2 408.7,585.5 408.2,582.6 409.0,567.0 408.3,563.9 409.0,558.1 408.0,542.6 408.4,536.5 407.5,528.0 408.0,524.5 407.3,509.5 407.9,506.7 407.3,497.5 407.8,491.0 407.4,436.9 408.5,431.5 412.0,428.0 414.1,427.6 426.0,427.2 429.0,427.8 432.0,427.1 440.8,427.9 456.0,427.4 459.2,427.9 462.0,427.3 465.1,427.9 468.1,427.4 479.9,427.8M406.7,478.9L407.1,475.8 406.2,469.7 405.6,436.8 407.9,432.2 410.2,431.0 446.3,430.6 461.0,429.3 482.3,429.6 488.5,430.4 509.8,430.3 519.1,429.1 522.1,429.6 543.0,428.3 546.3,429.0 552.4,428.4 558.2,429.4 585.7,429.4 594.7,430.4 603.9,430.2 628.6,432.7 642.0,432.2 644.5,434.6 645.2,439.7 645.5,466.6 646.1,469.6 645.3,482.0 645.9,491.3M604.6,432.9L628.7,433.9 637.5,433.1 642.3,433.9 647.3,437.5 648.8,441.1 649.6,452.8 649.3,465.0 650.1,468.0 649.7,477.2 650.4,483.2 650.5,501.0 651.2,504.3 650.6,510.7 651.2,522.5 650.5,528.8 650.5,543.4 649.8,547.0 650.3,550.0 649.5,552.6 650.5,595.3 649.3,655.4 649.9,661.7 649.0,664.3 648.7,688.4 647.5,693.1 645.5,696.7 642.3,698.7 634.7,698.9M601.8,434.8L608.0,434.4 619.8,435.2 646.8,434.5 652.1,438.6 653.6,446.1 653.8,475.9 654.9,494.4 655.8,497.4 655.2,524.5 653.6,539.5 653.5,572.5 652.8,575.6 653.4,578.3 652.0,596.5 652.3,608.7 651.7,615.1 653.2,647.6 652.3,659.9 652.8,663.0 652.0,666.2 651.8,678.0 650.9,688.0 648.3,690.7 644.1,692.0 602.2,692.5M629.4,435.6L646.1,436.5 648.9,439.3 650.4,447.2 650.1,458.9 650.7,465.5 649.9,468.1 650.5,474.3 649.7,498.7 650.4,504.7 649.9,507.9 650.5,510.7 650.0,516.3 650.5,528.6 649.8,537.6 650.2,544.1 649.5,546.7 649.6,574.2 650.6,586.2 650.2,589.0 650.8,604.0 651.5,607.6 650.9,616.3 651.8,634.3 651.7,655.5 652.3,658.4 651.5,691.8 648.6,698.2 646.6,699.7 641.8,700.7 623.4,700.5 617.8,701.2 605.0,701.3 590.3,700.3 587.5,700.8 575.2,700.3M588.3,439.3L597.2,438.6 606.1,439.0 609.3,438.3 638.1,439.5 642.7,441.5 644.9,444.1 647.4,448.5 647.7,450.6 647.8,465.8 648.8,480.5 648.4,486.7 649.6,508.2 649.2,510.6 649.7,520.1 650.5,523.3 650.8,534.7 648.7,589.2 648.4,626.0 647.5,632.1 648.1,635.0 647.5,646.6 648.3,653.3 647.8,662.1 648.7,671.5 648.4,679.7 645.3,686.3 642.7,688.8 638.9,690.8 633.7,691.4 621.4,690.6M666.8,616.7L667.1,625.7 666.4,631.9 667.0,634.8 665.9,655.4 666.6,661.4 666.0,665.0 666.8,689.1 665.1,693.3 663.4,694.2 658.1,694.8 636.8,694.0 597.3,694.9 591.6,694.3 587.9,694.8 573.3,694.4 522.0,696.4 482.3,695.0 451.9,695.6 434.0,694.5 424.8,694.8 413.4,693.8 410.2,691.6 409.7,688.8 410.3,682.5 409.7,677.1 410.2,674.1 410.0,649.5 410.6,640.6M673.2,685.4L673.0,691.7 669.5,697.5 665.6,700.2 660.8,701.4 654.5,700.7 651.6,701.5 605.9,700.5 573.2,701.3 566.9,700.6 545.9,700.6 542.4,699.9 527.2,700.3 509.2,699.7 506.2,700.4 485.5,699.9 482.0,700.5 470.2,700.6 460.7,699.9 457.8,700.8 445.8,700.3 443.0,701.0 437.1,701.1 433.8,700.5 412.8,701.4 409.4,701.0 405.1,699.0 401.3,693.7 400.1,689.1 400.7,676.9 400.1,673.7M609.7,697.2L614.0,701.4 629.0,701.0 640.6,698.0 651.7,693.5 663.5,691.8 666.3,692.9 670.4,697.3 671.9,699.9 671.9,702.9 669.6,697.4 661.1,659.4 659.2,657.0 653.8,654.5 650.8,654.6 645.6,657.5 630.6,679.9 625.8,690.9 625.5,693.9 626.5,696.7 628.5,698.9 631.3,700.1 643.0,702.8 652.0,702.9 651.4,700.0 647.5,695.5 644.9,693.9 639.2,692.2 618.3,689.9 612.3,689.9 606.6,688.1 591.6,687.0 570.7,687.8 538.0,683.6 497.0,674.5 485.0,674.1 470.1,675.6 458.1,675.2 425.5,670.3 423.1,672.1 422.3,675.0 428.5,688.6 436.1,701.6 447.1,658.0 462.9,619.1 471.8,603.5 478.1,589.9 483.3,572.7 484.7,560.8 484.5,542.8 486.0,537.0 488.9,516.2 490.4,501.3 490.6,492.3 493.0,471.4 496.7,456.9 506.5,431.8 508.4,429.4 510.7,427.6 516.6,426.3 519.6,426.5 522.3,427.7 526.3,432.1 536.8,450.3 550.7,476.9 554.2,485.2 563.1,500.8 576.1,527.8 583.1,544.4 586.6,555.9 590.1,564.2 592.1,572.9 599.5,592.6 610.3,614.0 621.5,631.7 628.6,644.9 634.3,662.0 636.8,673.7 641.2,684.9 649.1,701.0 643.5,698.9 628.9,695.5 614.7,690.7 608.1,680.7 594.2,664.9 589.8,660.9 572.5,649.0 556.5,631.2 545.5,621.0 537.8,616.2 526.5,612.2 523.5,612.0 518.0,614.0 509.7,622.7 503.0,628.7 488.0,638.7 474.0,650.0 468.9,653.1 455.1,659.1 449.5,661.3 443.6,662.3 396.1,668.9 402.1,651.9 405.4,637.3 409.2,629.2 414.9,612.1 414.8,609.1 413.7,606.4 409.6,602.0 403.9,600.2 397.9,600.3 426.9,607.6 449.6,615.6 478.1,606.3 508.9,594.6 543.3,584.2 565.4,574.7 573.3,570.5 595.8,562.0 636.3,550.8 648.0,548.3 656.9,547.2 671.9,547.6 672.4,496.6 671.2,475.7 671.4,460.7 668.0,433.9 666.0,425.2 621.2,428.7 600.4,425.4 598.3,430.9 591.4,436.7 583.5,440.9 558.7,451.6 544.0,454.6 520.1,455.8 502.2,457.9 496.6,460.0 494.1,461.7 492.3,464.1 491.4,466.9 491.3,469.9 493.9,475.3 518.6,497.1 523.7,504.5 528.1,515.6 529.9,524.4 531.7,548.3 536.4,568.8 536.7,592.8 538.6,634.7 543.6,664.3 547.2,672.4 551.5,676.6 559.6,680.5 583.3,684.4 602.7,692.3 608.5,693.8 635.3,696.1 668.3,695.8 671.1,694.7 670.2,667.7 672.5,637.8 671.3,635.0 666.8,631.2 664.1,632.5 660.2,637.0 659.0,639.8 657.9,645.7 655.5,675.5 655.0,702.5 643.0,703.0 622.0,702.6 618.7,697.6 616.3,695.8 610.9,693.2 605.1,691.8 557.1,692.0 527.3,689.9 521.3,689.3 504.0,684.2 490.6,677.6 467.5,663.7 440.8,644.2 427.2,632.4 421.0,625.9 397.8,594.6 397.7,579.6 398.9,552.6 398.6,543.6 399.9,537.8 401.7,535.4 406.6,531.9 412.5,531.1 426.4,536.6 435.3,538.0 456.2,537.8 483.1,540.7 513.0,539.1 528.0,540.3 548.9,540.5 557.8,539.3 575.3,535.0 589.5,530.1 594.8,527.3 606.2,523.8 612.1,524.9 614.8,526.3 619.0,530.4 625.7,547.1 630.8,558.0 634.7,569.3 635.2,572.3 633.8,578.1 632.1,580.5 624.7,585.7 603.8,584.0 591.8,584.0 568.1,580.6 553.1,580.8 544.1,580.0 529.4,577.3 515.0,573.1 467.4,567.6 453.0,563.4 435.4,559.5 423.4,558.5 408.5,559.4 396.5,558.8 405.1,546.5 411.2,539.9 414.0,538.8 417.0,538.5 419.9,539.2 422.4,540.9 424.3,543.3 429.7,557.2 436.7,586.4 438.0,601.3 441.9,625.0 448.7,654.2 454.7,667.9 458.4,682.4 459.9,694.3 459.8,700.3 461.9,691.5 463.4,679.6 464.3,652.7 463.2,640.7 460.3,623.0 459.1,605.0 461.1,590.2 463.2,581.4 468.8,564.3 470.6,555.5 472.3,553.0 477.5,550.1 498.4,549.3 519.0,545.3 543.0,545.0 566.8,548.3 602.7,549.0 614.7,548.5 617.5,549.6 621.3,554.2 621.7,557.2 620.4,563.0 612.2,585.6 610.9,588.3 604.1,594.2 578.3,601.9 560.7,605.6 542.7,606.6 528.0,609.1 522.0,608.9 507.1,606.8 489.2,607.3 483.3,608.5 480.5,609.7 476.0,613.6 468.3,629.8 460.7,639.1 455.2,641.4 449.3,640.4 444.6,636.8 440.4,625.6 437.5,613.9 434.8,596.1 431.5,584.6 423.5,572.0 397.4,535.3 412.0,539.0 423.3,542.7 443.9,546.9 469.2,556.3 482.6,563.1 502.6,576.3 507.3,579.9 517.8,590.6 520.7,591.7 523.7,591.5 526.4,590.3 528.4,588.1 531.8,579.7 542.9,561.9 543.1,556.0 540.5,550.6 512.0,524.0 505.0,518.4 494.9,507.3 486.3,495.0 478.8,482.0 477.5,476.2 471.5,459.2 467.4,451.3 460.2,441.7 445.2,427.0 397.3,428.6 398.1,434.6 398.8,458.5 398.4,467.5 396.1,476.2 428.5,492.0 437.3,493.9 445.7,496.9 484.5,500.6 496.4,502.5 510.8,506.4 539.1,516.6 547.2,520.3 570.4,534.2 584.2,539.8 603.7,553.8 611.6,558.2 622.7,562.8 648.0,578.8 671.7,591.7 655.2,578.7 629.5,563.3 617.4,554.4 611.0,528.2 608.3,513.4 607.5,504.5 608.0,498.5 609.1,492.6 612.4,484.2 618.2,470.4 635.0,442.0 642.8,425.8 624.7,436.4 622.3,441.9 620.8,447.7 617.9,465.5 613.8,479.9 605.1,502.3 601.1,510.3 596.0,517.7 592.0,522.2 571.3,539.6 558.3,551.9 546.3,565.4 531.6,580.3 526.3,587.6 524.0,589.4 521.1,590.2 518.1,589.7 502.0,581.8 489.4,573.7 482.6,567.8 470.1,554.9 456.3,543.2 437.4,524.0 419.3,504.0 406.2,483.9 400.7,476.8 400.4,473.8 402.0,471.2 404.7,470.1 422.5,473.0 434.2,475.6 442.7,478.5 453.6,483.6 468.3,494.0 488.2,512.2 494.8,522.2 501.6,535.5 511.4,550.6 511.3,553.6 510.2,556.4 507.9,558.4 505.2,559.6 502.2,559.5 490.3,557.8 441.3,543.9 425.1,536.2 415.5,529.0 396.8,519.4 397.6,474.5 396.3,450.5 396.1,432.5 399.1,432.5 412.0,425.0 415.0,425.0 426.0,429.6 443.4,434.1 446.4,433.4 448.9,431.8 452.1,426.8 458.1,433.4 471.8,445.0 482.1,455.9 491.4,467.7 497.8,481.2 507.6,506.4 515.5,519.1 526.2,529.6 540.3,540.7 551.2,551.0 559.2,559.9 564.4,567.3 572.6,576.0 599.4,595.3 615.0,604.1 632.8,615.4 651.5,624.8 671.1,632.3 671.6,653.2 670.9,662.2 671.7,680.2 670.6,701.2 666.7,689.8 660.5,676.2 652.7,663.4 640.2,646.6 616.6,619.3 614.1,617.8 608.3,616.2 602.5,617.6 600.3,619.6 597.2,624.7 594.3,642.4 590.5,656.9 580.6,678.7 575.8,696.1 573.3,701.5 552.3,701.8 513.4,700.6 504.9,697.6 492.9,688.7 487.2,686.7 481.3,686.0 454.4,684.2 442.4,685.3 427.4,685.1 421.9,687.3 420.1,689.7 419.2,692.5 419.3,695.5 419.9,698.5 421.4,701.1 424.4,701.1 444.6,695.2 476.9,688.7 491.9,688.0 509.8,688.7 527.5,685.5M605.4,697.5L621.5,684.1 648.0,670.2 650.2,668.1 651.4,665.3 651.6,662.3 650.6,656.4 642.5,630.7 641.2,628.0 639.1,625.8 633.8,623.1 627.8,622.7 625.1,624.0 622.8,625.9 619.0,634.0 613.4,641.1 610.4,652.6 605.4,656.0 604.3,658.8 602.3,661.0 599.3,661.1 597.0,659.2 597.2,653.2 603.0,617.7 601.8,608.8 599.1,603.5 585.1,587.8 582.5,586.4 579.5,586.3 576.7,587.4 574.6,589.5 572.4,601.3 571.9,619.3 572.4,625.3 575.7,642.9 582.1,662.9 588.7,676.4 598.4,691.5 605.4,701.2 607.2,683.3 606.6,653.4 603.4,632.6 600.2,621.0 597.9,615.5 589.3,599.7 569.2,556.1 565.4,541.6 561.9,533.3 552.4,514.6 541.9,496.5 535.7,482.8 527.0,467.1 521.9,459.7 509.0,443.2 491.8,426.4 496.5,437.4 507.1,458.9 523.3,500.9 526.5,505.9 532.7,512.5 550.4,523.7 566.8,536.7 568.1,539.5 567.6,542.4 565.4,544.5 547.4,544.3 523.5,542.3 502.7,539.5 479.2,535.0 459.0,529.4 432.2,525.7 417.7,522.0 397.1,517.9 397.4,488.0 398.9,464.0 398.0,440.0 398.6,425.1 416.6,425.0 422.2,427.2 429.1,432.9 430.7,435.4 433.7,447.0 437.3,467.7 439.5,485.6 443.0,497.0 458.5,522.7 463.2,533.7 469.0,544.2 480.4,568.7 486.6,578.9 498.6,596.1 512.2,612.1 524.0,629.4 528.1,633.8 553.1,655.2 578.2,688.9 586.0,701.7 583.8,689.9 582.0,669.0 579.8,654.2 579.7,648.2 581.9,630.3 581.0,612.4 579.1,606.7 577.3,604.3 574.9,602.5 535.0,589.5 527.0,576.8 526.3,573.9 526.7,570.9 530.1,566.0 557.1,547.2 566.4,539.6 576.5,533.1 587.8,529.0 605.4,525.5 616.8,521.8 660.5,511.0 668.9,507.8 671.9,507.5 669.0,506.8 666.4,505.3 664.2,503.2 662.9,500.5 660.1,482.8 660.3,467.8 659.3,464.9 657.4,462.7 654.8,461.1 637.3,457.0 628.4,455.6 616.4,455.5 613.6,456.7 612.8,459.5 612.8,462.5 614.2,465.2 627.7,477.0 648.0,489.9 672.4,501.3 666.5,501.8 661.2,504.6 658.5,509.9 658.4,512.9 659.3,515.7 661.0,518.2 665.4,522.2 672.8,527.4 671.8,560.4 672.9,575.3 670.0,576.0 667.5,577.7 664.0,582.5 662.0,588.2 657.6,608.7 654.3,620.2 646.0,636.1 639.4,646.1 636.7,647.6 633.7,647.7 631.2,646.1 629.8,643.5 628.0,634.7 618.7,609.4 609.1,571.6 615.0,557.8 619.2,540.3 627.7,514.7 630.2,509.3 635.0,501.6 640.5,494.5 672.6,463.0 672.8,427.0 668.7,431.4 666.1,436.8 664.1,448.6 663.7,466.6 664.6,487.5 663.7,505.5 664.4,511.5 667.3,526.2 672.4,537.0 671.3,563.9 672.0,572.8 666.4,574.9 664.3,577.0 661.6,582.3 661.1,585.3 661.3,588.3 667.4,605.2 672.5,622.4 661.0,608.6 655.9,601.2 647.6,585.2 641.8,571.4 629.6,550.7 621.5,541.9 610.5,531.8 605.1,524.6 599.0,514.2 594.4,503.2 594.9,500.2 596.4,497.6 598.6,495.6 601.5,494.8 613.4,496.2 622.4,496.2 650.4,507.1 670.4,520.2 665.5,527.7 664.5,530.5 664.1,536.4 666.7,548.1 668.1,550.8 672.4,555.0 667.6,551.4 664.7,550.6 646.8,549.3 635.0,547.1 614.0,547.1 608.1,547.8 592.3,556.6 568.4,554.6 532.5,556.2 502.8,560.4 486.0,566.7 453.6,573.2 442.6,577.8 434.8,582.2 429.8,585.6 423.5,592.1 416.0,601.4 411.1,608.9 400.3,630.4 396.4,641.7 410.1,611.7 424.8,582.2 427.5,570.5 432.3,556.3 433.8,553.7 438.6,550.2 441.5,549.5 447.4,550.4 452.1,554.1 461.0,566.2 472.7,579.9 481.0,592.3 499.7,626.5 504.0,637.7 505.9,649.5 506.0,655.5 504.0,676.4 498.4,702.8 495.0,670.0 494.9,652.0 485.3,630.0 479.1,613.2 477.5,604.3 475.7,583.4 472.7,568.7 471.2,553.8 463.1,524.9 461.1,504.0 458.7,489.2 458.1,480.3 456.5,471.4 456.2,462.4 453.3,441.6 450.9,436.2 444.6,429.8 433.4,425.8 430.4,425.4 436.1,427.1 445.0,428.8 459.1,433.9 471.8,441.8 495.8,454.2 510.3,464.9 525.4,474.6 538.9,481.2 550.2,485.0 568.1,486.8 589.1,485.3 595.0,484.4 618.2,478.4 645.2,478.5 663.1,477.1 669.1,477.2 671.9,478.4 669.3,479.9 665.5,484.5 663.2,490.0 662.2,495.9 663.0,510.9 663.9,573.9 659.3,612.5 660.0,624.5 663.2,642.2 672.0,664.5 673.0,676.5 672.9,685.5 670.0,685.2 667.5,686.9 665.9,689.4 665.4,692.4 666.6,698.2 671.6,701.4 669.5,699.3 666.5,694.1 664.7,685.3 665.4,664.3 664.8,652.4 665.1,643.4 663.6,622.5 664.7,586.5 661.2,565.8 654.1,549.3 641.7,528.8 636.2,518.1 632.0,506.9 627.0,489.6 621.4,475.8 616.6,458.4 613.2,450.1 601.7,446.8 579.0,439.0 546.3,434.9 534.6,432.4 523.2,428.7 520.2,429.0 517.6,430.6 506.4,448.3 496.7,459.7 473.2,478.3 475.0,502.3 478.2,526.0 481.2,534.5 487.3,541.0 495.5,544.8 518.1,552.8 547.6,557.7 568.0,562.9 602.4,573.3 604.8,575.1 606.2,577.8 606.6,580.7 605.7,583.6 587.0,607.0 580.3,613.0 554.3,633.3 538.5,647.1 519.8,666.5 512.3,671.6 503.2,679.4 493.5,686.4 485.0,694.8 479.5,701.9 491.4,700.8 530.4,701.9 542.3,701.2 551.2,702.5 569.2,703.0 573.5,698.9 579.0,696.5 590.8,694.8 605.8,694.0 638.8,694.4 668.6,697.6 671.3,699.0 671.3,702.0 653.3,701.5 611.3,702.0 593.4,700.5 575.8,696.5 559.0,690.3 556.0,690.8 553.7,692.7 550.8,701.2 520.8,699.7 508.9,698.5 461.0,696.7 437.0,697.7 419.4,701.3 410.4,702.0 398.5,700.8 398.1,661.8 399.1,643.9 423.8,576.3 428.1,558.8 435.7,520.6 438.5,512.0 437.8,503.1 436.3,500.5 431.6,496.9 428.7,496.1 398.7,495.1 399.4,516.1 396.1,542.9 396.1,581.8 400.9,578.4 404.3,573.4 405.7,561.5 404.9,510.6 403.8,498.6 404.5,477.6 404.6,435.7 405.0,432.7 406.5,430.1 408.7,428.1 414.1,425.4 415.0,428.3 419.2,432.5 424.4,435.5 430.2,437.3 442.0,439.4 453.9,439.7 459.9,440.8 476.7,447.1 497.6,448.8 506.4,450.5 514.1,455.0 515.9,457.4 518.4,462.8 519.2,468.8 516.8,501.7 517.5,525.7 516.5,540.6 518.0,558.6 509.1,566.6 499.1,577.8 479.3,604.1 472.6,617.6 472.2,620.5 472.8,623.5 476.5,628.1 479.3,629.1 485.3,628.7 504.1,619.3 529.8,611.2 541.6,608.8 550.2,606.3 566.7,599.0 578.0,595.0 630.9,584.8 670.8,571.6 659.7,566.9 653.8,567.3 638.1,576.1 620.8,581.2 608.4,589.6 594.3,600.7 586.3,605.0 566.9,612.9 554.3,621.0 540.8,627.4 522.9,638.4 487.6,666.3 449.2,689.8 441.1,693.6 425.6,702.8 398.6,702.1 398.7,657.1 396.5,633.2M637.7,495.0L648.8,499.7 658.3,507.0 671.0,514.9 655.3,528.7 647.6,533.4 622.1,542.1 607.3,544.2 605.8,505.2 606.4,439.3 605.9,430.3 606.5,448.3 606.0,463.3 610.0,493.0 616.2,516.1 613.7,521.4 606.1,526.3 612.7,539.8 632.4,573.3 637.3,584.3 637.9,587.2 636.8,593.1 633.6,598.1 607.0,611.8 612.3,601.1 617.1,586.9 620.9,578.7 645.7,548.7 650.8,541.3 654.7,533.2 662.2,510.4 667.2,490.0 672.2,475.9 672.8,460.9 671.5,481.8 668.2,517.7 667.7,541.7 664.9,562.5 664.1,577.4 665.0,589.4 665.3,622.4 668.8,652.2 669.4,667.1 669.2,691.1 670.9,696.8 672.7,699.2 670.9,696.8 668.4,695.1 665.5,694.4 638.8,697.7 608.8,696.7 605.8,697.2 605.8,700.2 609.3,695.3 612.0,686.7 614.3,659.9 618.3,642.3 627.0,613.6 632.3,599.6 633.7,581.7 639.2,552.2 642.3,543.8 661.0,502.9M653.3,450.2L654.0,426.2 652.9,447.2 654.1,456.1 658.4,470.4 664.9,483.9 669.2,495.1 672.8,509.7 663.6,497.9 661.3,492.4 661.4,483.4 664.5,459.6 663.8,438.7 661.5,426.9 672.6,451.5 672.9,463.4 672.6,469.4 670.6,475.1 661.9,487.3 658.9,495.7 656.4,519.6 656.8,537.6 655.5,540.2 653.0,541.9 635.5,546.3 623.7,548.0 612.1,551.0 610.6,577.9 610.5,604.9 611.3,622.9 610.6,646.9 610.7,652.9 612.7,650.6 616.9,639.4 618.5,627.5 616.6,606.6 618.5,543.7 618.1,534.7 616.6,525.8 610.8,505.7 618.6,531.5 623.2,542.6 629.4,568.8 630.7,583.8 628.3,610.6 629.0,637.6 633.5,651.9 636.1,657.3 639.5,662.2 639.5,665.2 637.5,667.5 616.9,671.4 612.0,674.7 611.9,689.7 613.3,701.7 649.3,699.8 658.2,700.5 670.2,700.3 668.8,679.4 669.1,670.4 668.4,655.4 670.3,631.5 672.5,622.8 664.1,590.9 663.0,573.0 664.6,519.0 664.6,486.0 665.7,471.1M645.5,674.7L653.3,648.9 654.7,625.0 654.2,613.0 651.1,592.2 648.8,565.3 649.0,550.3 651.4,529.5 652.0,505.5 653.6,490.6 653.7,481.6 652.4,472.7 652.9,469.8 656.9,465.4 659.7,464.4 671.7,464.6 672.9,479.5 670.3,503.4 670.8,518.3 669.7,548.3 670.1,560.3 668.9,569.2 668.5,581.2 670.1,617.1 670.0,638.1 662.1,700.6 614.1,699.4 616.1,693.7 618.9,679.1 627.7,663.4 630.6,654.9 638.5,604.6 638.0,601.6 634.5,596.7 613.2,585.8 612.9,573.9 614.8,568.2 619.9,560.8 623.3,552.5 624.2,546.6 624.8,522.6 625.6,519.7 628.3,514.4 635.0,504.4 636.8,498.7 640.8,469.0 649.2,440.2 649.1,434.3 645.7,426.0 650.8,446.4 654.3,454.6 660.8,468.1 667.6,478.0 672.6,488.9 672.0,497.9 673.0,512.9 667.4,515.0 646.7,532.3 629.8,544.6 614.0,553.2 619.4,567.1 624.6,584.4 631.9,600.8 645.3,624.2 652.5,633.8 671.1,648.8 667.2,640.7 662.4,633.1 652.8,621.6M613.3,433.1L608.2,425.7 620.6,442.6 633.1,455.5 652.2,478.7 664.8,491.4 667.2,496.9 667.7,502.9 666.4,508.7 660.7,522.6 653.0,535.4 647.4,542.5 632.4,557.2 618.3,572.7 607.1,582.7 633.3,589.0 644.7,592.9 668.5,605.6 672.2,610.3 673.0,607.4 673.0,604.4 668.2,600.9 662.4,590.5 660.6,584.7 658.9,572.8 660.8,491.9 660.2,480.0 661.3,468.0 660.9,459.0 659.4,456.4 654.7,452.8 648.8,452.2 637.7,456.9 606.2,466.4 607.0,484.3 605.6,508.2 610.1,534.8 611.6,537.4 614.0,539.2 619.9,540.3 631.4,536.9 661.3,534.1 673.0,531.5 659.6,538.4 648.3,542.3 607.4,551.8 613.1,565.6 619.8,579.1 620.7,585.0 619.4,590.8 616.1,595.8 605.8,601.9 608.4,600.5 611.4,600.0 614.3,600.5 619.4,603.8 622.3,608.9 621.3,614.8 606.8,633.9 608.1,666.8 608.3,699.8 609.6,702.5 614.2,698.7 619.6,696.2 625.4,694.6 634.3,693.5 646.2,694.4 658.0,696.5 673.0,697.5 673.0,700.5 673.0,691.5 670.2,686.3 668.0,674.5 667.2,638.5 664.8,614.7 667.5,554.7 666.0,527.8M522.4,458.7L523.5,446.7 531.2,427.2 567.2,427.4 594.1,428.3 627.0,425.6 654.0,425.0 651.4,426.6 648.5,427.4 642.6,428.0 636.7,426.7 634.1,425.3 623.5,439.9 614.7,448.0 609.1,455.0 597.3,464.2 588.5,472.4 576.4,485.7 571.3,488.8 562.7,491.5 529.7,491.7 484.8,489.5 463.8,490.2 436.9,489.1 412.9,490.4 403.9,490.1 398.7,487.1 396.8,484.8 399.8,484.4 402.5,483.0M551.6,450.3L565.8,439.2 569.5,434.5 573.8,426.6 575.1,429.3 579.5,433.4 582.0,435.0 587.9,435.7 626.8,433.8 641.6,431.2 661.8,425.5 667.7,425.0 661.9,425.0 656.7,428.0 650.8,429.2 641.9,430.1 623.9,430.1 600.2,433.5 566.8,446.9 550.9,455.3 527.6,469.0 509.1,478.7 486.2,485.9 447.7,491.9 432.7,493.0 403.0,496.8 400.3,498.0 396.2,502.4 399.1,501.9 401.7,500.4 405.2,495.5 406.3,492.7 408.4,477.9M564.2,470.0L574.6,451.7 581.4,441.8 587.5,435.2 590.5,435.0 593.1,436.5 594.5,439.1 593.9,454.1 594.8,475.0 589.7,498.5 583.9,475.2 582.4,472.6 580.0,470.8 577.3,469.5 574.3,469.4 571.4,470.4 556.9,481.0 541.3,489.9 529.2,498.8 508.3,499.5 503.9,495.4 495.6,492.0 450.8,488.1 445.3,490.4 436.2,498.2 436.2,495.2 439.3,490.1 444.2,486.7 449.8,484.7 458.8,483.6 473.8,484.0 482.7,483.1 503.4,479.6 520.8,475.2 556.8,475.1 577.7,472.8M434.6,477.6L428.5,471.0 421.5,465.3 418.5,465.1 416.0,466.6 408.6,479.7 422.2,473.3 439.4,468.1 455.6,460.2 458.6,460.0 461.5,460.7 463.8,462.5 465.3,465.1 466.7,480.0 472.6,481.3 488.1,472.2 499.2,467.6 525.2,460.3 536.9,457.7 561.6,446.9 581.7,440.9 598.6,434.6 616.1,430.5 627.3,426.2 654.3,426.7 672.2,425.8 663.3,425.1 648.3,426.1 621.8,431.2 606.8,431.9 604.7,434.0 604.6,437.0 608.1,441.9 616.1,458.0 620.6,465.8 627.8,475.3M717.5,467.7L716.5,452.5 716.3,435.1 718.3,431.3 720.7,429.8 756.0,429.4 762.0,428.7 773.9,428.7 777.2,429.3 783.3,428.7 786.1,429.3 837.1,426.4 846.6,427.2 852.5,426.7 858.2,427.5 885.5,427.3 888.4,428.1 900.6,427.6 906.1,428.4 927.8,429.0 930.3,429.6 939.1,429.2 945.4,429.9 972.8,428.7 981.8,428.9 984.1,429.5 985.6,430.4 986.7,435.0 986.7,458.7 986.0,462.2 986.8,489.1 985.9,503.7 986.4,522.0 988.3,543.1 989.0,567.1 988.3,591.9 988.8,612.5 987.3,643.2 987.7,655.3 987.0,661.1 987.7,663.9 987.2,669.3 985.6,671.6 981.3,673.8 945.0,673.0 936.0,672.1 933.2,672.6 930.7,672.0 903.1,672.3 897.2,671.6 888.1,671.4 885.1,671.9 876.4,671.0 873.2,671.4 861.3,671.0 834.3,672.4 831.1,673.2 828.1,672.8 825.2,673.6 821.9,673.1 819.2,673.8 801.1,673.3 780.1,674.2 774.1,673.6 771.0,674.3 765.4,673.8 750.1,674.6 726.3,673.6 718.6,671.6 716.4,666.7 716.6,655.3 715.7,645.5 716.3,631.0 715.7,627.8 717.5,594.7 716.9,591.5 717.3,570.5 719.3,543.4 718.8,537.3 719.1,525.4 718.3,522.3 718.4,512.9 717.1,492.0 717.5,473.9 716.4,446.6M953.4,686.3L878.2,687.0 868.7,686.3 865.5,686.9 863.2,686.3 850.5,687.0 848.0,686.4 845.0,687.1 832.6,686.7 829.3,687.3 826.9,686.7 814.1,687.5 802.1,687.0 796.2,687.6 793.7,686.9 790.6,687.5 766.0,686.4 760.4,687.0 745.3,686.7 740.1,685.6 736.5,683.3 734.2,679.5 733.3,665.5 733.5,631.9 732.8,626.4 733.7,617.2 732.9,614.0 733.6,601.8 732.7,581.2 733.4,571.7 732.8,556.9 733.5,553.5 732.8,550.9 733.4,547.7 732.8,544.9 733.3,538.8 733.1,526.9 732.3,523.6 732.5,493.4 732.0,490.6 732.9,457.6 733.5,455.3 736.2,451.0 737.7,449.8 742.6,448.2 748.1,447.5 750.9,448.1 754.2,447.5 763.0,447.4 766.2,448.1 775.1,447.5 778.2,448.1 799.3,448.0 802.3,448.6 826.4,447.7 853.4,448.4 856.5,447.8 874.6,448.7 884.4,448.3 905.4,449.1 914.1,448.5 935.5,449.3 938.6,448.6 950.1,449.0 953.1,448.3 959.3,448.5 965.2,451.4 968.8,457.3 969.1,459.9 968.6,466.1 969.2,472.6 968.5,475.1 969.1,484.6 969.2,493.5 968.6,496.6 969.3,505.4 969.3,523.9 968.5,532.6 969.1,541.7 968.4,547.6 969.5,581.2 968.9,583.8 969.4,589.8 968.6,599.2 969.2,605.0 968.2,620.0 968.8,632.2 967.7,674.8 966.3,680.9 965.1,682.9 961.7,685.1 956.1,686.2 941.5,686.7 932.6,686.2M976.8,502.8L976.2,529.9 977.0,536.5 976.5,545.4 977.2,551.0 976.6,554.7 977.2,566.2 975.3,614.8 975.9,618.1 976.6,653.9 974.9,684.0 975.3,690.2 974.7,692.5 972.2,695.2 969.9,695.9 960.6,695.1 957.2,695.6 939.8,694.1 921.4,693.8 900.5,695.5 894.2,695.2 891.2,696.0 885.3,695.7 876.1,696.5 873.8,696.1 870.8,696.7 855.5,696.0 837.5,697.0 831.1,696.7 825.3,697.6 816.4,696.8 801.4,696.9 798.1,696.2 783.3,696.6 780.8,696.1 774.8,697.0 759.4,697.0 750.1,697.8 738.5,697.6 732.5,696.7 728.0,694.9 726.7,692.8 725.6,683.8 726.2,677.8 726.3,650.5 727.0,648.0 727.0,639.0 727.9,633.1 727.6,626.5 728.5,611.5 727.9,590.2 727.3,587.9 727.7,581.1 726.7,569.6 727.3,563.6 726.6,560.6 727.1,554.7 726.9,529.9 726.1,527.1 726.4,518.1 725.5,506.4 726.7,464.2 725.7,454.9 725.9,446.0 724.9,439.7 725.2,434.2 726.2,431.8 727.5,429.8 729.4,428.9 756.0,426.5 762.3,426.7 768.0,425.7 795.5,426.5 798.1,426.0 810.7,426.2 813.8,426.7 825.3,426.3 834.3,427.1 858.5,427.5 864.5,428.5 912.9,427.3 924.5,428.5 933.6,428.2 939.9,428.8 942.5,428.3 957.5,429.0 969.2,428.3 973.4,430.2 974.2,431.9 973.9,446.1 974.4,449.2 973.7,460.9 975.1,472.7 976.3,491.0 976.0,497.0 976.7,500.4 976.3,508.8 976.9,515.0 976.4,521.1 976.9,524.3 976.4,526.9M719.1,624.7L718.8,613.3 719.4,609.8 718.8,607.1 718.8,592.0 718.1,586.1 718.0,564.3 718.9,543.9 718.5,519.6 719.3,513.4 720.6,474.4 719.7,453.4 720.7,448.2 724.4,443.4 731.3,441.3 740.8,441.9 749.4,441.0 792.1,441.4 794.9,442.2 813.1,441.5 843.2,442.2 870.8,442.0 876.6,441.0 885.8,441.2 897.6,440.1 903.5,440.6 912.4,440.0 957.8,440.5 960.2,441.9 962.6,442.3 965.7,445.7 967.4,453.0 967.0,489.5 967.9,510.7 967.2,516.2 967.4,531.3 966.7,534.5 965.8,604.1 966.4,615.9 965.9,621.6 967.5,643.1 967.1,654.8 967.7,679.2 966.3,687.6 965.1,689.7 960.5,693.7 955.2,695.1 945.9,695.4 937.0,694.6 906.8,694.4 897.4,695.0 894.3,694.5 885.4,695.4 867.6,695.4 858.2,694.5 855.3,695.1 852.6,694.4 815.9,694.2 813.2,693.6 806.7,694.2 797.9,693.1 791.8,693.6 782.8,692.7 779.9,693.3 776.6,692.6 770.8,693.4 761.7,693.0 755.2,693.9 749.5,693.3 734.2,694.3 726.4,693.2 724.3,692.5 721.4,689.3 719.0,679.0 718.4,643.4 719.2,640.2 719.2,600.5M720.6,475.9L719.5,469.8 720.2,466.8 719.5,463.6 719.2,445.6 720.3,441.0 722.4,436.9 726.2,434.7 728.6,434.1 737.1,433.5 762.0,434.8 791.9,434.0 807.4,434.4 816.2,433.8 825.6,433.7 828.0,434.3 870.7,431.4 892.1,432.3 895.2,431.9 904.4,432.8 910.3,432.2 916.1,433.0 934.4,432.5 958.7,433.3 961.3,433.5 965.9,436.0 969.9,441.0 970.6,445.8 971.3,467.1 970.3,485.0 970.6,494.2 969.5,502.7 970.1,506.1 969.2,515.0 969.9,518.5 969.4,524.6 970.0,533.5 969.2,566.7 970.0,569.8 970.1,587.9 972.3,615.3 971.7,621.1 972.1,633.3 971.5,636.4 972.0,648.1 971.5,657.4 972.1,663.4 971.6,666.8 972.2,669.3 971.3,678.6 969.4,683.3 966.0,686.3 961.7,688.1 956.0,687.8 952.3,688.4 946.5,687.6 928.8,688.0 925.4,688.6 922.7,688.1 919.0,688.8 864.4,686.5 861.6,687.2 828.4,686.0 825.2,686.4 822.7,685.7 813.3,686.4 810.0,685.7 807.1,686.3 797.9,686.2 768.1,688.4 761.4,687.7 743.6,688.3 728.2,687.8 722.0,684.2 719.4,680.6 718.1,669.8 718.9,660.3 718.4,657.3 719.0,654.7 719.0,639.1 718.0,617.7 718.5,615.4 717.7,612.2 717.9,590.5 719.6,560.5 719.3,545.3 720.2,536.4 719.5,533.7 720.3,530.1 720.1,520.9 720.8,518.4 720.4,515.2 721.3,503.2 719.2,457.4 719.5,455.0M882.5,436.4L900.4,435.5 927.5,436.6 945.9,436.4 954.5,435.4 963.8,435.3 969.6,434.3 976.0,434.3 981.5,435.7 986.2,441.7 986.7,444.5 986.3,480.6 986.9,484.3 986.2,489.9 986.7,493.2 983.3,532.0 983.9,538.5 983.4,547.2 984.3,556.6 983.7,559.2 984.3,565.1 984.2,577.8 983.5,580.4 984.2,610.4 983.8,623.1 984.4,625.9 983.8,628.5 983.8,641.0 982.7,659.1 983.6,668.2 982.4,675.9 980.0,678.8 977.8,679.7 969.6,680.8 948.4,681.1 942.7,681.8 939.8,681.1 927.5,681.9 921.3,681.6 909.2,682.7 906.6,682.2 902.9,682.7 900.1,682.1 894.0,682.5 870.3,680.3 855.0,679.8 821.7,680.5 818.7,679.9 815.4,680.5 779.9,679.2 770.3,680.0 767.5,679.3 764.8,679.9 731.0,677.9 728.8,676.4 728.2,675.0 727.2,668.2 722.9,574.3 724.0,562.7 723.6,559.3 724.9,550.5 724.5,544.2 725.2,541.5 724.4,538.3 724.7,513.8 723.9,507.8 725.1,478.3 724.5,454.2 725.2,450.7 724.6,447.4 725.3,442.1 729.3,435.9 734.7,434.3 764.5,435.6 767.8,435.0 776.6,435.9 779.2,436.7 785.5,436.5 792.0,436.9 794.9,437.8 804.1,438.0 833.6,436.3 861.3,437.0 867.3,436.3 872.8,436.9 897.3,435.6 906.5,436.1M723.0,490.0L722.2,444.5 723.6,439.4 725.9,435.6 729.8,433.2 735.2,431.9 783.6,432.7 804.1,431.7 825.0,432.4 837.4,431.8 840.4,432.4 849.4,431.9 861.4,432.6 864.4,432.0 867.1,432.7 876.7,432.0 918.1,433.6 921.3,433.0 924.7,433.6 936.5,433.4 939.1,432.8 963.3,432.9 967.7,434.3 971.1,439.3 972.7,447.5 972.1,453.3 972.8,462.3 972.3,468.7M947.4,430.8L968.2,430.9 971.2,434.3 971.6,436.8 970.6,448.6 971.2,460.8 970.8,466.5 971.6,473.2 971.0,475.8 971.5,479.1 971.3,503.2 970.3,509.4 970.6,515.0 969.5,536.5 971.0,554.6 970.6,557.1 971.9,578.6 971.2,581.4 971.8,584.8 971.4,590.2 972.2,596.5 972.6,614.9 973.4,618.1 973.4,630.0 974.1,635.7 973.9,647.6 972.8,656.8 973.1,662.7 972.2,668.7 972.4,690.3 970.5,695.1 968.3,696.5 963.1,697.3 956.5,696.5 953.6,697.2 938.9,696.2 929.6,696.0 927.0,696.6 920.4,695.8 893.5,696.7M966.4,670.1L965.4,677.5 963.0,680.5 954.9,681.5 952.4,680.9 946.2,681.9 940.4,681.7 934.0,682.2 931.2,683.1 921.8,683.0 913.3,684.1 909.6,683.5 891.9,683.7 888.9,683.1 873.8,683.5 870.5,682.9 855.5,683.7 819.4,682.6 783.2,683.7 767.6,682.7 764.6,681.7 747.0,681.5 743.4,680.8 740.6,681.5 736.8,680.6 734.1,677.9 733.5,676.1 733.3,664.3M800.4,474.3L793.8,480.3 783.8,491.4 758.0,506.8 751.2,512.6 736.5,523.0 726.2,533.9 717.3,541.9 714.5,543.0 717.5,543.2 720.2,544.4 722.5,546.5 724.6,552.0 722.5,560.7 714.2,583.3 726.2,582.3 738.1,583.4 762.1,583.0 779.8,580.0 792.5,567.2 802.2,548.6 814.4,527.9 823.9,516.4 834.4,505.7 849.1,486.7 853.4,482.5 858.9,475.5 871.8,455.3 881.2,443.6 892.6,426.0 910.6,425.5 934.6,426.1 961.6,425.1 961.4,428.0 959.9,430.7 955.7,434.9 950.2,437.2 944.3,438.1 920.3,438.3 908.8,434.9 897.0,433.1 879.0,433.5 855.1,436.0 828.1,435.8 816.5,438.7 804.6,440.4 793.0,443.4 778.3,446.2 760.4,448.0 754.9,450.3 750.7,454.6 748.4,460.0 748.4,466.0 751.2,474.5 774.1,516.6 780.8,526.6 786.2,533.8 788.8,535.3 794.7,536.2 800.3,534.1 817.8,513.6 824.3,507.4 873.8,468.4 891.1,451.8 907.8,439.1 914.2,432.8 919.9,425.8 908.3,443.3 894.2,462.7 874.6,485.4 865.7,486.7 847.7,486.9 830.2,482.6 822.2,478.4 805.6,471.4 799.7,470.5 793.7,470.6 787.9,472.2 782.6,475.0 764.5,490.7 752.3,499.4 723.3,515.0 713.1,521.4 718.4,518.5 733.2,508.3 751.4,497.8 763.5,489.0 771.9,480.4 777.7,473.5 792.2,450.8 797.9,436.9 801.3,425.4 831.3,425.2 831.5,428.1 833.6,430.2 836.6,430.8 845.3,428.6 854.2,428.3 878.1,430.4 890.1,430.2 899.1,431.1 908.0,430.4 913.9,431.4 916.7,432.5 921.0,436.7 922.5,439.3 932.9,464.2 940.6,477.1 947.7,486.8 963.5,500.5 980.6,512.6 987.5,518.4 934.4,546.3 920.0,542.3 906.3,522.6 897.1,514.9 896.0,512.1 896.2,509.2 897.2,506.3 899.1,504.0 901.6,502.3 904.5,501.6 937.5,502.9 967.2,499.2 979.2,499.6 981.9,501.0 984.0,503.1 985.4,505.7 987.2,520.6 974.0,544.2 962.8,568.7 955.8,582.0 932.0,620.1 903.1,641.6 875.0,658.9 856.0,667.7 841.7,672.4 827.1,675.8 795.5,685.1 790.1,687.8M1234.5,687.1L1219.5,687.4 1216.6,686.9 1192.0,686.8 1189.2,686.2 1177.2,686.8 1165.5,686.5 1162.0,687.2 1156.4,686.6 1152.8,687.2 1117.1,685.4 1083.6,685.8 1056.5,684.9 1047.8,685.5 1040.7,683.6 1038.5,679.7 1037.5,662.6 1038.0,656.1 1037.4,653.8 1038.0,629.6 1037.4,620.6 1037.9,614.2 1037.2,611.2 1037.9,608.6 1037.1,596.7 1038.2,569.3 1037.6,566.2 1038.1,563.5 1037.6,554.6 1037.8,536.0 1036.9,530.8 1037.4,524.6 1037.4,503.2 1038.6,488.1 1039.1,437.1 1041.6,430.8 1042.9,429.5 1049.9,428.3 1053.4,429.0 1068.8,428.8 1086.5,429.7 1098.3,429.5 1101.6,428.9 1113.9,429.1 1120.2,428.2 1153.4,429.4 1174.5,428.7 1176.9,429.3 1192.8,428.9 1195.7,428.1 1201.4,428.7 1207.3,428.1 1234.8,428.1 1258.6,426.4 1274.0,427.1 1277.0,428.0 1281.3,430.3 1283.9,437.2 1283.2,443.3 1283.8,461.3 1282.2,506.5 1283.1,545.7 1281.9,572.2 1282.3,581.5 1281.8,584.3 1282.4,608.1 1281.9,620.8 1282.6,629.4 1281.9,635.6 1282.6,647.1 1282.2,650.8 1283.0,653.5 1283.0,665.1 1284.2,674.2 1283.5,680.7 1281.2,684.8 1276.6,687.3 1262.0,687.8 1252.7,686.9 1249.4,687.6 1234.3,686.8 1231.3,687.5 1213.9,687.1M1261.5,683.8L1258.6,684.5 1239.9,684.5 1237.4,683.9 1233.9,684.7 1219.0,684.2 1170.5,685.4 1164.7,684.5 1161.3,685.1 1155.0,684.3 1146.3,684.7 1143.3,684.3 1140.5,684.8 1119.0,685.1 1115.6,685.7 1070.5,685.7 1064.5,686.4 1058.1,686.0 1055.2,686.7 1034.5,685.3 1031.2,681.5 1030.8,675.8 1031.7,663.8 1031.2,652.2 1031.9,649.2 1031.2,627.7 1032.1,606.6 1031.5,594.9 1032.2,591.4 1030.9,561.4 1032.1,513.2 1031.2,501.0 1031.3,483.0 1030.6,479.8 1031.2,468.1 1030.5,464.6 1030.1,437.6 1030.9,435.1 1034.6,432.0 1067.5,431.4 1070.9,430.7 1073.6,431.3 1076.9,430.5 1113.2,431.3 1116.1,431.9 1143.3,430.8 1152.2,431.3 1155.1,430.7 1176.9,431.6 1192.1,431.1 1201.2,431.8 1206.6,431.2 1209.7,431.9 1240.5,432.2 1258.3,433.5 1261.2,432.7 1273.2,432.7 1277.6,433.7 1279.2,437.7 1278.6,441.2 1279.4,455.6 1278.9,468.3 1279.5,471.3 1279.1,477.3 1280.4,506.8 1279.8,513.0 1280.3,525.6 1279.3,540.0 1280.0,546.4 1279.4,549.4 1280.3,558.6 1280.3,585.5 1280.9,588.5 1280.2,606.8 1280.7,610.0 1280.2,615.9 1280.7,618.9 1280.5,648.8 1278.9,678.6 1277.8,682.4 1275.4,683.8 1264.5,684.5 1240.6,684.0M1032.4,679.6L1032.1,661.8 1032.8,658.6 1032.1,652.7 1032.2,637.1 1033.0,619.3 1033.1,592.2 1033.7,589.1 1032.9,570.8 1033.5,564.7 1032.9,544.0 1033.7,532.0 1033.3,513.1 1033.8,510.5 1033.1,507.4 1033.9,501.0 1033.4,473.8 1034.0,471.5 1033.5,465.5 1034.0,450.3 1033.5,440.7 1034.1,438.2 1033.6,435.5 1037.2,427.6 1039.1,425.9 1043.2,424.0 1057.4,423.3 1059.9,423.9 1072.5,423.3 1075.5,423.7 1090.2,422.7 1102.2,423.1 1105.2,422.4 1117.4,423.1 1120.0,422.4 1128.9,423.0 1177.6,422.2 1198.5,422.9 1204.6,422.2 1210.6,422.8 1213.6,422.3 1219.7,422.6 1222.4,421.9 1234.4,422.4 1240.6,421.9 1243.6,422.4 1246.6,421.8 1252.3,422.5 1258.0,422.0 1261.1,422.8 1276.4,422.6 1284.4,426.8 1288.2,435.2 1288.5,441.2 1287.8,443.6 1288.3,453.4 1287.5,456.1 1287.9,462.5 1287.3,480.3 1287.7,504.3 1288.4,507.7 1287.8,519.3 1288.6,528.8 1287.8,555.8 1288.4,559.0 1288.7,586.2 1288.2,598.0 1288.7,603.8 1288.0,607.1 1288.6,610.3 1288.9,631.1 1288.2,634.3 1288.9,637.5 1288.7,652.6 1289.4,667.2 1288.5,684.7 1284.6,691.1 1276.1,695.0 1267.4,695.4 1237.0,694.3 1231.1,694.8 1212.9,693.9 1183.4,694.8 1156.2,694.6 1153.2,694.0 1132.6,694.1 1128.8,694.7 1120.2,694.0 1108.4,694.8 1069.6,694.1 1066.4,694.8 1063.2,694.2 1056.9,695.0 1048.0,694.9 1042.9,694.4 1038.8,692.4 1033.8,687.0 1032.5,682.8 1032.1,661.6 1032.9,658.1 1032.3,655.3M1282.7,668.1L1282.0,672.8 1276.5,677.3 1273.3,677.5 1258.3,677.2 1252.5,677.9 1237.0,677.4 1231.2,678.2 1224.6,678.1 1222.3,677.4 1218.9,678.0 1207.0,677.1 1188.3,677.0 1176.0,678.1 1158.5,677.5 1149.1,677.9 1140.3,677.1 1133.7,677.4 1130.7,676.7 1115.8,677.1 1088.5,676.0 1085.0,676.4 1076.4,675.8 1055.2,676.0 1051.4,674.2 1049.3,670.2 1048.7,665.0 1049.3,662.1 1048.5,655.6 1048.5,647.0 1049.2,643.5 1048.2,598.1 1049.0,568.5 1047.3,528.4 1047.8,510.7 1048.6,507.9 1048.2,486.3 1049.0,480.6 1049.1,459.2 1049.8,450.0 1051.7,446.1 1055.1,443.8 1057.8,443.2 1079.1,444.6 1082.6,444.0 1088.2,444.6 1109.9,444.5 1112.9,443.8 1115.8,444.3 1119.0,443.7 1124.4,444.3 1140.2,444.0 1143.2,444.6 1160.9,444.4 1170.2,445.1 1185.6,444.4 1197.6,445.0 1201.0,444.4 1215.7,444.4 1219.3,445.0 1221.8,444.1 1227.9,444.5 1233.8,443.5 1246.6,442.9 1252.2,443.3 1255.7,442.6 1273.5,443.3 1280.2,445.9 1282.9,450.1 1283.7,462.2 1282.4,501.8 1283.0,507.6 1282.4,519.8 1282.9,522.5 1282.6,535.1 1283.2,546.5 1282.3,555.9 1283.0,559.2 1282.3,561.9 1282.7,564.8 1281.9,568.4 1282.6,570.8 1281.8,573.7 1282.4,577.2 1281.6,589.1 1282.1,592.3 1281.4,607.8 1281.9,616.2 1281.2,628.7 1281.9,635.1 1281.8,649.5 1282.6,652.6 1282.5,664.6 1283.1,667.7 1281.9,673.3 1280.4,674.6 1276.6,677.2 1270.7,677.4M1129.2,686.7L1102.0,687.0 1089.4,686.1 1071.5,687.0 1053.5,686.7 1050.2,687.5 1043.9,686.9 1036.7,685.0 1032.4,679.8 1031.0,662.1 1031.6,659.2 1030.9,643.8 1031.6,641.0 1031.2,628.7 1032.3,619.5 1032.0,613.5 1033.3,592.2 1033.4,580.3 1032.8,576.9 1033.7,556.4 1033.0,540.6 1033.6,537.9 1033.0,516.6 1031.9,504.9 1032.8,465.1 1032.0,446.9 1032.2,444.3 1035.3,438.5 1044.0,436.0 1062.8,436.1 1065.3,435.3 1074.8,435.5 1089.8,434.5 1101.9,434.9 1104.8,434.2 1108.0,434.7 1114.2,434.0 1128.9,434.1 1138.1,433.3 1140.7,433.9 1146.8,433.4 1168.2,433.7 1171.4,434.3 1177.3,433.9 1198.5,434.9 1216.5,434.2 1225.4,434.9 1237.8,434.5 1277.2,435.4 1286.1,434.6 1291.1,435.9 1296.1,439.6 1297.6,447.0 1296.8,486.7 1297.8,504.3 1297.5,510.4 1298.3,516.3 1297.8,526.1 1298.5,550.0 1299.7,568.5 1299.2,595.7 1298.5,601.2 1299.1,607.9 1298.5,611.0 1299.1,623.0 1298.6,628.5 1299.2,631.9 1298.6,635.2 1299.4,640.7 1298.5,677.1 1296.8,681.2 1291.2,686.1 1288.7,686.8 1256.3,686.4 1250.0,685.3 1234.8,684.8 1226.0,685.3 1192.6,685.0 1183.8,685.7 1177.4,685.1 1156.0,685.6 1128.9,687.2 1104.5,686.7M1281.4,543.0L1281.0,546.4 1282.7,564.2 1282.3,570.2 1283.0,576.3 1283.0,595.0 1284.2,610.3 1283.7,622.4 1284.3,625.3 1283.4,628.4 1283.1,646.6 1281.3,651.4 1277.2,656.6 1269.9,659.0 1255.3,660.1 1237.5,659.2 1210.7,659.3 1207.1,658.5 1198.5,659.0 1180.2,657.5 1177.1,657.9 1171.4,656.7 1144.0,656.3 1129.0,657.6 1116.9,657.4 1099.4,658.5 1093.7,658.0 1090.5,658.8 1087.0,658.4 1060.2,659.8 1054.6,658.7 1048.9,654.7 1045.0,646.2 1044.9,625.6 1043.7,613.0 1044.2,601.3 1043.4,598.3 1044.1,595.2 1043.7,585.7 1044.4,576.8 1044.1,549.3 1045.3,540.2 1045.1,534.4 1046.0,530.8 1045.8,527.7 1046.8,522.0 1047.1,509.4 1046.8,452.0 1045.7,442.8 1046.5,434.5 1048.1,430.7 1049.4,429.0 1055.4,426.0 1084.6,425.3 1093.7,426.1 1126.3,426.5 1138.7,425.2 1144.4,425.3 1147.1,424.5 1150.2,424.9 1156.2,423.9 1168.7,423.3 1171.8,423.8 1177.3,423.2 1195.1,423.5 1213.3,422.7 1249.1,424.6 1252.6,424.2 1255.5,424.9 1267.8,424.8 1277.0,427.0 1278.4,429.1 1280.1,430.1 1282.9,439.9 1282.2,448.7 1282.6,455.4 1281.7,470.7 1282.2,473.2 1281.4,482.7 1281.8,494.8 1280.6,506.9 1281.0,509.5 1280.2,512.8 1279.9,524.9 1280.6,527.8 1281.2,540.6 1280.7,543.5 1282.0,552.3 1281.6,555.1 1282.3,564.3M1256.4,662.5L1250.1,663.2 1247.1,662.4 1238.4,662.6 1208.0,665.0 1135.1,665.9 1117.6,664.5 1104.9,664.4 1102.2,663.6 1096.2,664.1 1090.0,663.4 1081.0,664.1 1072.4,663.6 1062.8,664.3 1045.3,663.5 1040.9,662.1 1038.6,659.1 1036.4,652.2 1036.5,615.6 1037.4,609.5 1037.1,600.8 1037.9,589.1 1037.1,583.0 1037.1,573.5 1036.5,571.1 1037.1,567.3 1036.2,565.0 1035.9,559.0 1035.8,537.8 1035.0,531.3 1035.5,528.9 1034.8,525.8 1035.1,516.4 1033.8,498.8 1035.7,462.7 1035.1,459.1 1035.8,453.5 1035.4,441.3 1036.2,433.0 1040.3,427.8 1045.1,426.4 1060.2,425.3 1078.3,425.1 1081.0,424.4 1105.6,425.3 1117.2,425.0 1126.4,425.9 1153.2,425.8 1156.6,426.6 1183.9,428.2 1198.9,428.1 1213.6,427.1 1238.4,427.2 1240.7,426.6 1250.1,427.3 1255.8,426.6 1286.3,426.7 1289.7,426.0 1296.6,427.9 1299.4,430.9 1301.3,435.5 1301.6,438.4 1300.8,444.0 1300.7,453.5 1301.7,465.7 1301.2,468.0 1302.1,471.1 1302.7,480.2 1302.6,498.1 1303.4,504.2 1302.7,507.3 1303.0,525.7 1302.4,534.3 1302.9,537.3 1301.9,555.5 1302.4,558.3 1301.5,561.9 1301.8,567.8 1300.2,582.5 1300.1,597.7 1300.8,603.5 1300.4,616.1 1301.0,621.9 1300.4,624.9 1300.9,636.9 1300.1,645.9 1300.7,654.5 1298.0,660.3 1294.3,662.9 1289.2,663.8 1277.2,663.2 1274.1,663.7 1270.9,663.0 1261.9,663.4 1259.2,662.7 1256.1,663.2 1250.0,662.4 1232.2,663.2M1040.5,483.4L1042.0,465.9 1042.0,456.6 1042.9,450.2 1042.7,441.6 1043.4,435.2 1042.9,426.7 1046.5,421.4 1048.3,420.4 1051.2,419.9 1069.7,420.9 1078.6,420.1 1090.7,420.6 1093.8,420.0 1117.8,421.0 1127.0,420.4 1130.1,421.0 1132.5,420.4 1138.9,421.0 1147.7,420.3 1151.1,420.9 1154.3,420.5 1190.5,421.8 1196.1,421.0 1205.9,421.2 1211.8,420.3 1214.3,420.7 1223.5,419.6 1236.2,419.4 1238.5,420.0 1269.5,418.9 1275.4,419.2 1279.7,422.0 1282.6,429.5 1281.9,441.4 1282.4,444.7 1281.1,456.1 1281.9,499.2 1281.7,510.9 1280.9,514.2 1281.5,517.4 1280.7,538.3 1281.5,556.8 1280.7,559.9 1280.4,577.6 1279.5,583.8 1280.0,590.0 1279.2,595.6 1279.7,614.4 1280.4,617.0 1279.9,619.9 1280.8,629.6 1280.4,638.3 1281.2,644.8 1280.6,647.4 1281.2,650.4 1280.8,662.5 1280.2,664.9 1279.0,666.2 1272.2,669.9 1266.5,669.5 1257.3,670.2 1248.3,669.7 1244.6,670.3 1235.8,669.9 1233.1,669.0 1223.6,669.5 1215.0,668.8 1205.2,669.7 1202.7,669.1 1187.5,669.9 1156.7,668.9 1154.4,669.5 1130.1,669.7 1126.5,668.9 1124.2,669.4 1114.3,669.1 1111.8,668.3 1102.8,668.2 1093.2,667.1 1090.2,667.6 1060.1,667.3 1054.1,668.0 1049.0,667.7 1043.7,664.6 1043.0,662.2 1042.5,650.2 1043.0,647.4 1041.1,617.6 1042.1,599.4 1041.6,578.0 1042.1,574.8 1040.8,547.3 1041.3,514.2 1040.5,489.7 1041.1,487.1 1040.9,474.5 1042.0,465.9 1041.7,462.2M1037.3,483.9L1038.1,450.4 1037.1,444.5 1037.1,435.7 1036.6,433.1 1038.0,429.0 1087.7,426.1 1096.4,426.7 1114.7,426.0 1117.9,426.6 1135.8,425.7 1154.0,426.1 1169.0,425.7 1199.3,426.3 1226.4,424.7 1253.8,426.2 1265.5,426.0 1268.6,426.7 1286.5,426.3 1290.4,428.4 1292.2,430.5 1292.6,435.4 1291.7,438.6 1292.2,441.6 1291.2,447.9 1291.8,450.9 1291.1,453.9 1291.4,462.5 1290.9,465.9 1292.8,516.9M1291.7,615.6L1291.2,642.8 1292.4,663.5 1291.6,675.7 1292.0,678.6 1290.8,683.8 1289.3,685.7 1285.3,687.4 1264.0,686.1 1243.2,686.7 1227.7,685.8 1224.6,686.4 1222.0,685.8 1212.5,686.1 1209.8,685.5 1206.5,686.2 1191.5,686.3 1158.6,688.7 1137.6,687.6 1134.8,688.1 1110.0,687.9 1107.4,688.6 1092.5,688.4 1088.9,689.0 1076.9,688.1 1074.5,688.6 1065.1,687.9 1038.1,689.1 1032.3,688.2 1029.4,686.4 1027.2,681.5 1027.6,663.3 1029.8,633.8M1083.2,694.1L1080.2,694.6 1049.7,693.0 1047.8,692.1 1044.3,688.3 1043.0,683.5 1043.5,680.7 1042.8,675.1 1043.4,671.7 1042.9,665.9 1043.4,663.3 1043.3,639.0 1043.9,633.2 1043.2,630.1 1044.0,626.6 1043.3,624.0 1043.9,620.7 1043.2,614.6 1043.9,612.2 1043.3,591.2 1044.3,582.0 1044.1,569.5 1045.4,554.5 1044.8,552.2 1045.2,539.6 1044.3,527.6 1044.8,521.9 1044.0,519.0 1044.3,509.7 1043.7,506.4 1044.1,488.4 1043.4,485.6 1044.0,482.5 1042.0,452.3 1042.7,450.0 1042.0,434.5 1042.9,429.1 1044.1,426.7 1047.6,423.7 1049.8,423.1 1070.6,422.0 1085.7,423.0 1092.3,422.4 1110.3,423.1M1124.1,661.7L1115.0,661.3 1073.2,663.1 1064.1,662.6 1061.3,663.5 1054.7,663.0 1049.1,664.0 1042.7,663.2 1040.5,662.2 1037.3,659.1 1035.1,654.8 1034.5,639.7 1036.2,612.5 1036.3,591.3 1035.6,588.6 1036.3,582.5 1035.6,579.2 1036.8,549.5 1036.5,525.0 1035.9,522.3 1036.6,519.4 1036.1,516.5 1036.8,510.0 1036.6,504.3 1037.5,501.0 1038.7,483.0 1038.3,477.0 1039.1,474.4 1039.0,459.4 1038.2,452.9 1038.6,449.9 1038.0,447.5 1038.6,444.2 1038.0,441.5 1038.7,438.0 1038.1,430.3 1041.2,425.3 1043.2,424.9 1048.6,424.1 1063.5,424.7 1066.5,424.0 1069.8,424.8 1073.2,424.2M1174.6,503.4L1183.9,491.6 1213.6,446.6 1221.9,430.6 1228.6,420.6 1252.5,421.9 1273.5,421.7 1303.4,423.9 1300.5,424.5 1295.2,427.4 1289.4,428.9 1244.8,434.2 1231.4,427.4 1214.8,420.4 1208.8,420.4 1208.4,423.4 1206.5,425.7 1203.7,426.8 1197.8,426.2 1177.7,420.1 1126.7,420.4 1114.8,421.3 1102.8,421.2 1100.0,422.4 1097.8,424.4 1093.1,432.1 1091.2,434.4 1086.3,437.9 1077.7,440.2 1062.8,441.8 1060.3,443.6 1059.4,446.4 1059.9,449.4 1072.3,462.4 1073.9,464.9 1074.6,467.9 1074.0,473.8 1072.6,476.5 1070.4,478.5 1067.6,479.7 1061.7,480.5 1043.7,481.1 1028.9,478.8 1036.0,484.4 1051.1,499.0 1064.5,515.1 1073.4,523.1 1083.6,529.4 1094.6,534.0 1103.6,535.0 1118.6,535.0 1151.5,537.2 1169.3,539.7 1211.2,540.6 1268.0,536.1 1285.6,532.1 1302.4,525.7 1282.9,533.4 1249.3,553.2 1241.0,569.2 1236.2,580.1 1232.9,588.5 1229.5,603.1 1226.2,611.5 1220.4,622.0 1211.6,641.0 1193.1,671.9 1189.1,683.2 1182.6,696.7 1161.6,696.8 1149.7,697.8 1077.7,697.9 1078.0,685.9 1074.9,680.9 1064.5,675.0 1058.7,673.3 1049.7,672.5 1044.8,669.1 1041.6,664.1 1039.4,655.4 1038.5,646.4 1035.8,641.1 1034.2,635.3 1033.1,626.4 1032.8,614.4 1033.7,590.4 1035.2,575.5 1036.9,569.8 1047.1,548.0 1049.9,542.7 1051.9,540.5 1057.0,537.5 1062.9,537.0 1076.9,542.6 1088.3,538.9 1096.0,534.2 1128.9,503.7 1134.4,496.5 1137.3,491.3 1143.1,477.5 1144.9,475.1 1150.1,472.1 1156.0,471.3 1161.6,473.2 1183.3,493.9M722.1,118.8L726.8,114.0 730.5,112.8 748.2,111.1 762.6,108.6 785.3,107.6 804.9,108.3 847.0,106.7 877.9,110.6 961.3,113.9 984.4,118.0M733.2,120.3L748.1,119.2 766.6,119.0 804.3,120.1 816.8,117.2 821.0,117.0 834.2,112.4 844.5,109.8 877.6,111.1 896.6,114.4 906.3,118.9 909.0,121.2 914.1,123.7 921.9,125.0 944.6,120.2 966.7,119.1M864.1,115.5L868.9,118.4 879.0,122.8 893.0,130.8 897.7,131.8 905.5,130.7 911.1,128.7 927.3,125.1 938.8,125.0 947.5,126.6 955.6,126.9 968.2,125.2 977.8,122.4M895.6,131.7L896.2,131.9 896.3,133.2 898.8,137.9 899.1,143.0 897.8,149.1M930.8,137.9L937.7,135.7 942.2,135.1 944.5,135.8 946.7,139.9 947.0,145.1 948.8,149.4 950.4,150.1 951.5,151.5 957.4,151.7 958.6,150.5 959.8,139.9 963.1,134.8 966.7,131.3M733.3,120.0L733.6,142.4 730.8,157.5 729.6,168.0 731.4,183.1 730.6,206.2 728.7,213.4 726.2,217.2 721.0,218.2 718.8,217.0 715.9,208.8 714.0,207.2 714.1,206.0 712.4,205.7 710.0,225.7 708.9,268.2 709.0,291.2 711.9,332.8 715.6,360.2M744.8,120.6L754.9,138.3 757.3,147.9 759.6,153.5 767.2,165.8 769.7,168.2 775.5,178.9 778.1,190.6 779.2,205.6 778.1,231.0 775.3,253.3 774.8,265.1 769.6,297.8 770.0,301.7 768.9,320.2M771.5,322.7L769.8,323.0 755.8,331.6 736.8,339.7 729.8,340.2 721.4,335.9 717.5,335.4 715.6,340.1 715.0,347.3 715.8,355.7 718.5,362.0 722.4,365.0 728.7,366.3 737.4,367.3 744.8,366.7 752.3,364.9 757.9,360.6 759.0,356.3 759.0,349.0 756.7,345.4 754.2,344.9 752.4,343.5 744.2,342.0 732.3,343.2 726.3,342.4 723.9,341.7 713.3,333.6M778.5,315.4L781.3,314.5 782.5,312.8 786.5,311.2 788.2,312.9 788.8,320.0 791.1,331.4 791.6,339.1 790.2,344.8 788.0,347.7 780.3,353.9 776.9,353.1 773.3,349.1M722.4,364.9L721.7,372.4 722.2,374.4 724.2,376.1 732.5,376.3 750.3,373.5 766.2,373.8 794.1,376.4 800.0,376.5 805.1,377.4 819.8,378.1 840.4,374.5 864.5,368.0 873.2,366.9 876.5,367.2 883.9,370.6 885.7,372.6 903.6,378.8 918.5,381.2 926.2,381.2 929.4,380.3 933.7,380.6 937.1,379.5 945.2,378.8 955.5,376.1 964.3,371.2 969.3,367.6 974.4,357.8 976.3,350.1 978.4,338.7 980.1,316.5 982.2,301.9 982.8,290.3 982.1,279.9 982.4,271.8 981.2,264.5 981.3,238.5 982.4,231.6 982.6,224.0 984.0,216.6 984.1,209.5 986.2,198.1 986.9,186.5 984.5,168.1 983.7,152.5 982.0,142.5 980.2,137.5 975.6,131.3M727.0,371.6L751.6,369.4 773.5,369.6 795.7,372.4 818.8,373.7 871.0,370.4 881.7,371.9 907.6,380.3 918.3,382.5 926.3,382.7 944.4,379.1M977.5,129.2L971.8,149.0 971.3,153.7 969.0,161.2 968.0,168.8 966.8,172.4 967.0,176.1 966.2,179.3 967.2,187.4 967.2,194.4 966.1,201.1 962.0,211.2 958.1,215.8 954.8,217.4 946.2,219.1 933.6,219.9 913.1,224.7 910.0,227.2 909.7,229.9 911.0,237.8 913.1,244.5 915.4,248.2 919.3,252.1 920.5,256.9 919.9,258.2 920.4,262.1 924.5,267.7 936.3,279.9 944.3,286.6 951.4,291.2 962.0,294.4 968.4,298.3 972.5,303.0 975.1,308.0 975.8,318.3 974.4,329.1 972.1,333.3 969.0,336.8 966.9,338.2 963.3,345.8 962.2,364.7M962.2,320.3L966.6,308.8 980.4,289.1 983.9,276.0 984.4,271.3M728.7,116.1L734.4,120.4 735.8,122.3 730.0,121.4 724.4,119.1M1037.1,115.6L1053.9,112.6 1065.3,112.1 1072.7,112.7 1103.6,112.2 1111.1,112.8 1133.6,112.4 1185.4,114.7 1200.7,114.8 1222.9,116.5 1274.8,118.3 1283.4,119.5 1288.0,121.2 1295.3,126.5 1298.4,132.9 1299.7,157.5 1296.4,199.5 1293.4,348.0 1291.9,357.5 1288.5,365.9 1283.9,374.8M1036.8,119.0L1057.0,119.1 1069.2,118.2 1073.8,118.6 1126.0,117.2 1146.8,115.7 1171.8,115.8 1181.6,116.9 1191.8,116.8 1223.2,118.8 1231.3,118.3 1259.6,120.4 1279.1,123.0 1283.2,124.4 1288.9,127.5 1290.4,129.3 1292.5,133.8 1294.9,147.0 1295.3,161.6 1294.8,165.9 1295.3,178.5 1294.8,200.3 1293.9,207.1 1293.6,221.9 1292.7,225.9 1292.6,240.0 1291.7,251.6 1291.7,270.0 1290.7,281.5 1290.8,296.8 1289.8,309.5 1289.5,328.7 1286.2,354.3 1281.7,372.6M1043.5,121.2L1072.9,124.8 1094.6,126.2 1106.3,125.6 1135.5,121.9 1148.2,121.2 1155.8,122.4 1166.7,125.4 1192.4,130.0 1205.1,134.3 1213.4,134.6 1222.9,131.1 1239.6,128.2 1248.0,128.4 1265.8,127.2 1281.8,127.8 1284.9,128.7 1288.4,131.2 1290.6,134.8M1035.0,117.1L1032.6,126.2 1030.2,141.3 1028.7,186.2 1027.7,193.3 1028.1,201.1 1026.9,230.4 1027.5,237.4 1026.8,304.6 1027.6,319.4 1026.9,363.9 1028.3,390.3M1039.5,119.6L1034.5,136.5 1033.3,146.5 1031.4,174.5 1031.3,185.4 1032.7,187.8 1036.8,188.5 1044.3,184.9 1047.5,181.8 1048.3,177.6 1048.3,172.6M1048.7,119.5L1048.9,125.2 1050.2,129.1 1050.8,141.7 1050.1,144.8 1048.0,148.4 1044.2,159.0 1043.9,161.5 1044.4,163.7 1046.3,165.3 1050.8,167.1 1054.7,170.0 1056.0,172.5 1057.4,179.9 1060.9,189.0 1085.7,230.6 1093.3,241.7 1108.8,257.9 1113.9,261.9 1119.6,266.3 1122.6,267.5 1125.1,269.4 1128.7,270.1 1133.5,273.1 1134.7,274.4 1135.4,278.0 1123.5,296.7 1121.4,304.5 1117.8,311.7 1115.0,315.0 1114.4,317.3 1112.7,319.0 1107.7,331.2 1101.9,339.4 1088.6,352.9 1085.2,354.3 1068.3,365.3 1059.4,374.8M1068.1,124.0L1079.8,138.2 1085.0,146.0 1094.9,157.5 1097.9,159.6 1102.6,165.3 1108.1,170.4 1131.2,184.7 1139.3,192.6 1145.6,202.4 1146.4,205.7 1164.5,233.9 1177.0,248.6 1183.8,255.1 1200.5,262.7 1218.7,267.7 1237.2,275.1 1248.3,281.1 1270.6,297.0M1092.8,152.2L1119.3,144.8 1123.4,144.6 1127.0,143.4 1143.3,141.0 1146.9,139.6 1159.4,137.0M1199.6,152.9L1195.0,155.5 1181.6,165.4 1166.2,178.7 1159.1,183.5 1148.3,195.5 1126.4,223.9 1123.1,227.0 1111.8,240.7 1088.1,261.5 1073.7,276.7 1067.8,281.7 1052.9,292.8 1037.5,301.1 1035.6,302.8 1032.8,310.3M1032.9,330.5L1064.4,327.9 1070.2,326.5 1076.1,326.5 1087.4,324.2 1092.9,323.8 1122.8,315.1 1127.6,315.0 1139.1,313.3 1143.2,313.6 1152.6,315.7 1163.3,315.5 1203.6,303.7 1222.1,302.3 1230.0,300.7 1241.2,296.1 1252.4,290.0 1270.4,274.6 1288.3,263.7M1037.5,341.2L1043.1,346.4 1063.4,362.3 1066.1,365.4 1073.8,370.7 1081.4,374.9 1097.6,378.3 1120.6,379.5 1132.4,379.3 1143.6,378.3 1148.6,377.2 1153.0,375.8 1170.7,365.7 1192.8,357.4 1207.9,349.1 1215.0,346.0 1221.6,344.0 1228.2,343.3 1255.8,349.9 1267.3,353.6 1278.6,359.5 1283.9,363.7M1281.9,152.4L1278.2,162.5 1273.4,182.1 1271.7,185.5 1271.6,189.0 1270.5,192.9 1270.3,202.4 1272.6,219.9 1276.0,235.0 1283.9,252.7 1286.2,259.4 1288.3,270.1 1287.9,280.1 1285.7,291.5 1282.0,307.8 1275.7,326.1 1274.1,341.7 1274.3,359.2 1274.9,363.7 1277.2,369.4 1279.7,373.1 1281.7,374.8M1208.2,148.0L1206.2,157.6 1206.3,161.4 1205.4,164.9 1205.7,167.9 1209.3,172.5 1213.8,175.5 1217.4,179.0 1218.6,184.2 1218.2,187.0 1218.9,193.6 1221.8,204.3 1226.4,215.9 1231.1,225.3 1231.6,228.0 1233.3,231.0 1237.2,234.5 1240.3,235.9 1247.1,237.8 1259.1,238.8 1271.0,241.7 1278.9,242.6 1285.7,245.7 1287.7,245.8 1288.4,247.1 1290.0,247.3 1290.6,248.1M1214.8,155.0L1216.8,156.4 1221.6,163.8 1222.4,166.2 1224.0,179.5 1226.3,181.7 1232.7,184.2 1251.9,186.6 1263.2,190.8 1266.4,190.6 1270.8,188.2 1275.9,181.7 1278.7,176.5 1281.7,163.7M1236.9,148.4L1238.6,148.8 1240.2,150.7 1244.2,153.5 1248.1,154.9 1250.0,154.2 1253.2,150.7 1259.7,145.6 1265.1,143.7 1268.0,143.8 1279.9,140.9 1282.1,140.2 1283.7,138.6 1288.3,137.0M1028.4,341.7L1032.0,342.2 1036.1,344.4 1054.0,349.1 1056.9,350.7 1061.8,354.7 1065.1,362.0 1066.7,368.4 1066.3,370.2 1064.6,372.2 1058.1,374.1 1051.0,374.8 1048.5,374.4 1043.5,371.7 1040.5,366.4 1038.3,364.2 1036.9,364.0 1035.0,366.7 1032.8,377.0M1277.4,374.8L1283.4,361.5 1286.0,352.9 1288.9,336.4 1291.5,313.6 1291.2,306.7 1292.3,300.1 1292.8,285.9M1041.9,113.5L1109.1,111.1 1131.6,111.9 1136.9,111.3 1153.5,112.4 1159.3,112.0 1204.9,113.8 1222.1,113.7 1262.9,116.3 1276.0,117.9 1288.7,120.6 1293.9,124.8 1297.3,137.7 1298.2,150.0 1298.5,170.9 1297.1,185.3 1297.3,193.3 1296.3,200.5 1295.1,230.0 1295.7,238.0 1293.2,320.3 1293.8,327.8 1292.8,341.2 1288.3,370.3M1035.1,123.8L1031.8,148.3 1029.8,170.7 1030.2,177.9 1029.2,207.8 1029.5,215.5 1028.7,222.8 1028.3,237.5 1028.8,245.3 1028.1,252.4 1028.8,341.4M1290.5,141.4L1291.9,193.2 1291.6,207.9 1290.4,222.6 1290.7,238.0 1288.8,286.9 1289.2,299.8 1288.3,319.2M1037.2,115.0L1042.4,124.2 1044.2,130.3 1041.4,149.6 1042.4,155.9 1045.0,161.4 1052.0,169.4 1053.9,170.3 1059.4,170.3M1059.1,121.2L1065.5,121.6 1073.5,120.8 1115.1,120.7 1124.1,119.7 1129.2,120.2 1138.4,119.5 1170.4,119.0 1194.2,120.1 1198.7,121.0 1212.7,121.4 1221.5,122.5 1230.7,122.4 1234.6,123.2 1239.3,122.7 1247.5,123.6 1270.6,123.7M724.3,439.4L740.4,444.2 747.7,448.5 770.2,466.9 773.8,469.2 792.3,479.1 806.8,483.6 832.6,486.4 850.3,486.1 862.1,485.0 877.9,482.3 900.0,475.2M733.0,441.7L728.3,454.9 728.8,457.8 734.5,463.7 744.3,468.6 753.7,471.4 764.4,473.5 768.6,473.7 771.0,472.9 772.1,471.6 772.2,468.9 770.5,462.8 768.4,459.9 760.3,452.1 741.5,442.8 737.8,441.9 735.4,442.4 733.3,441.9M722.3,457.1L726.0,459.1 760.2,470.1 770.6,472.3 781.2,473.2 788.5,472.8 799.8,470.5 816.1,469.6 828.0,468.0 833.5,466.3 844.7,462.0 856.3,456.4 866.4,450.5 871.6,448.8 886.3,440.4 888.9,439.7M778.2,453.1L803.5,471.5 807.7,473.6 822.2,483.7 831.5,495.6 833.4,502.1 830.6,512.7 827.7,520.3 826.7,528.0 827.6,535.6 833.9,553.0 837.8,560.0 844.2,568.7 849.0,574.1 853.8,581.4 877.4,608.4 883.4,614.5 893.0,622.1 911.1,635.2M855.3,468.9L868.4,483.9 877.4,491.1 882.6,493.6 895.2,497.8 910.8,499.4 913.9,498.5 918.3,494.5 922.0,485.9 924.1,483.6 929.1,474.1 933.2,468.6 940.0,464.4 951.6,458.5 958.8,456.0 973.3,453.0M755.3,490.7L769.9,498.1 805.2,513.2 833.5,523.8 844.8,526.9 855.2,531.0 872.6,536.4 896.9,545.2 903.8,549.6 929.8,561.7 945.1,572.4 955.7,581.6 963.2,591.5 966.4,598.8 966.8,601.7 966.0,605.0 960.0,614.3 956.9,616.8 954.4,622.1 950.5,638.8 945.7,653.8 938.3,670.9 935.6,675.2M728.8,479.6L728.9,484.7 726.6,508.3 726.4,517.2 727.4,530.6 734.8,562.7 736.5,574.3 738.2,579.5 741.9,602.6 746.4,623.8 749.2,632.1 757.1,650.1 759.9,654.3 766.7,668.6M735.5,464.1L741.1,471.4 744.1,477.2 755.5,491.1 758.8,493.4 766.8,496.3 786.2,500.1 791.2,500.3 814.2,504.0 827.3,507.9 849.2,516.4 862.8,518.1 900.3,515.0 911.7,517.1 917.8,519.7M917.5,497.4L930.4,510.9 936.5,515.3 940.9,516.2 952.2,521.3 958.5,526.9 964.1,538.5 969.1,554.2 971.1,568.6M922.6,523.9L919.4,529.7 918.0,533.9 909.1,550.1 903.3,557.4 901.1,561.5 898.0,564.7 884.0,587.0 878.6,597.8 872.0,616.7 867.4,646.4 864.5,657.3 858.9,667.3 851.4,675.6 843.2,680.7 833.1,684.3 826.3,685.8 814.7,686.6 806.9,685.8 795.5,683.4 788.8,679.7 784.2,673.6 780.4,661.4 780.0,649.6 781.3,642.6 788.2,629.0 806.6,611.3 810.9,608.5 814.3,604.8 818.8,602.6 822.2,599.3 837.3,591.5 854.8,584.9 858.9,584.4 895.5,573.0 917.8,568.6M921.9,506.3L932.5,513.5 940.9,520.3 947.9,527.3 960.3,546.1 961.4,550.3 962.8,560.6 961.3,577.3 958.9,591.6 954.6,604.4 951.7,610.3 949.5,625.4 948.9,635.2M722.5,646.1L724.8,647.8 731.8,650.1 740.6,654.8 752.8,664.5 766.7,679.7M717.8,663.9L724.4,667.4 729.2,668.8 748.8,677.1 771.1,684.1M926.3,646.4L941.0,652.7 944.5,653.1 953.7,651.1 957.3,649.6 964.2,644.6 968.9,635.2M855.7,597.3L865.1,602.3 874.1,606.1 881.8,611.0 889.7,614.9 902.9,624.5 913.3,635.2M888.6,437.8L898.2,453.9 920.0,497.4M833.5,486.1L852.2,479.3 861.8,473.7 879.5,458.2 881.8,454.4 888.9,446.3M726.5,568.8L729.9,593.3 736.0,625.2 738.1,631.1 740.0,646.5 739.3,651.1 732.6,663.4 728.9,668.6M922.4,668.6L936.4,669.7 944.2,668.4 957.3,663.2 966.7,657.4M1048.2,460.8L1081.6,463.6 1086.9,463.1 1092.9,463.6 1104.3,462.4 1120.4,462.3 1165.2,460.4 1193.1,457.8 1219.5,453.8 1241.2,449.3 1251.8,447.8 1259.1,447.6 1281.7,450.0M1043.8,472.5L1048.0,471.4 1071.3,468.4 1091.4,466.3 1100.1,466.3 1107.5,465.1 1130.2,459.8 1145.6,452.8 1150.1,451.7 1152.8,450.0M1097.2,463.3L1099.4,469.3 1099.9,472.6 1106.7,478.5 1126.0,483.1 1150.8,493.2 1159.4,494.4M1077.0,465.3L1076.8,468.2 1075.2,472.2 1074.8,479.5 1075.9,488.8 1078.7,500.4 1082.2,507.6 1085.4,512.1 1086.9,513.7 1092.4,516.5 1097.6,516.7 1104.8,514.5 1115.0,509.6 1136.0,501.5 1167.2,494.6 1174.4,494.1 1180.6,494.7 1197.9,497.3 1209.2,500.4 1221.5,502.7 1251.7,505.9 1270.5,503.7 1277.8,500.9 1285.1,496.6 1290.6,494.4M1043.5,543.7L1061.9,545.8 1079.1,544.9 1088.7,544.0 1104.4,539.6 1126.7,528.7 1134.1,523.8 1142.6,515.5 1152.6,503.1 1166.1,492.2M1041.5,529.9L1066.6,516.9 1082.1,507.5 1103.9,498.9M1170.6,514.7L1192.2,515.5 1203.6,516.9 1215.7,517.0 1226.2,518.5 1237.4,523.9 1241.1,526.4 1248.3,527.9 1252.3,527.1 1270.2,516.5 1277.6,515.0 1288.3,514.4M1148.7,450.3L1147.0,451.6 1146.3,454.3 1139.2,465.6 1135.3,474.6 1121.7,498.9M1175.3,552.4L1175.3,560.7 1176.9,565.8 1178.8,567.8 1200.3,582.1 1215.3,594.1 1219.0,597.9 1220.9,598.7 1229.1,606.2 1233.1,608.6 1248.2,620.8 1259.4,632.2M1103.5,632.0L1117.7,624.9 1126.5,621.4 1130.1,619.1 1141.0,614.7 1148.6,612.5 1155.4,608.9 1185.1,598.3 1192.5,596.3 1204.0,594.5 1215.3,594.4 1226.0,596.3 1229.8,597.8 1237.4,599.2 1240.7,598.9 1252.3,600.0 1259.8,596.5 1263.5,592.7 1271.1,582.0 1278.4,569.9 1284.0,562.3 1288.3,557.7 1292.0,555.7 1292.8,554.4M1093.0,654.8L1114.7,645.2 1126.5,641.3 1136.9,638.9 1148.7,639.2 1152.0,640.5 1167.0,641.7 1184.9,641.0 1192.7,639.5 1203.8,638.7 1232.8,641.1M1092.6,661.0L1102.3,657.6 1115.3,654.8 1118.4,653.4 1142.4,652.0 1160.0,653.0 1175.0,655.2 1189.6,659.6 1192.8,661.4 1218.8,668.9 1223.6,669.3 1237.2,672.2M1237.0,645.6L1246.6,634.5 1248.0,631.9 1261.2,619.2 1263.4,617.8 1264.9,615.3 1274.3,606.2 1278.2,603.2 1285.1,593.8 1290.6,583.3M1242.0,659.3L1243.1,657.1 1260.0,640.9 1281.7,623.3M1259.4,676.8L1259.4,670.6 1261.6,654.1 1264.1,649.5 1270.6,643.3M1048.3,454.1L1048.3,506.2 1049.9,520.9 1050.4,536.3 1050.4,550.6 1048.0,587.8 1049.7,632.0 1049.5,637.5 1046.1,654.4M1081.8,443.7L1088.3,441.7 1103.3,439.9 1108.0,438.7 1134.3,436.5 1150.8,436.9 1170.6,438.9M1276.8,454.6L1279.9,474.1 1282.0,506.0 1279.1,543.6 1279.9,550.9 1279.7,558.4 1281.4,572.9 1281.5,587.4 1280.8,603.3 1277.0,632.3 1275.0,665.6M1048.6,665.4L1051.6,666.4 1075.2,669.6 1102.9,671.6 1110.6,671.3 1118.3,672.3 1133.1,672.1 1215.1,674.7 1259.4,672.2M1115.4,434.4L1108.5,439.5 1096.1,450.5 1093.1,454.1 1087.4,462.3 1086.0,467.2 1083.7,470.8 1081.7,476.7" fill="none" stroke="#70bb38" stroke-width="3.2" stroke-linejoin="round" stroke-linecap="round"/>
<path d="M69 98.75V396.25M142 98.75V396.25M215.5 98.75V396.25M289 98.75V396.25M363 98.75V396.25M66.75 101H365.25M66.75 173.5H365.25M66.75 247H365.25M66.75 320H365.25M66.75 394H365.25" stroke="#e42626" stroke-width="4.5" fill="none"/>
<path d="M388 99.75V394.25M459 99.75V394.25M533 99.75V394.25M606 99.75V394.25M680.5 99.75V394.25M385.75 102H682.75M385.75 174H682.75M385.75 247H682.75M385.75 319H682.75M385.75 392H682.75" stroke="#e42626" stroke-width="4.5" fill="none"/>
<path d="M703 98.75V396.25M776 98.75V396.25M849 98.75V396.25M922 98.75V396.25M996 98.75V396.25M700.75 101H998.25M700.75 173H998.25M700.75 247H998.25M700.75 320H998.25M700.75 394H998.25" stroke="#e42626" stroke-width="4.5" fill="none"/>
<path d="M1019 98.25V395.25M1090 98.25V395.25M1164 98.25V395.25M1237 98.25V395.25M1310 98.25V395.25M1016.75 100.5H1312.25M1016.75 173H1312.25M1016.75 246.5H1312.25M1016.75 320H1312.25M1016.75 393H1312.25" stroke="#e42626" stroke-width="4.5" fill="none"/>
<path d="M71 414.75V706.75M144 414.75V706.75M218 414.75V706.75M290 414.75V706.75M365 414.75V706.75M68.75 417H367.25M68.75 488.5H367.25M68.75 561H367.25M68.75 632H367.25M68.75 704.5H367.25" stroke="#e42626" stroke-width="4.5" fill="none"/>
<path d="M388.5 415.75V712.25M461 415.75V712.25M536 415.75V712.25M608 415.75V712.25M683 415.75V712.25M386.25 418H685.25M386.25 489H685.25M386.25 564H685.25M386.25 636.5H685.25M386.25 710H685.25" stroke="#e42626" stroke-width="4.5" fill="none"/>
<path d="M703 414.75V712.25M776 414.75V712.25M849 414.75V712.25M922 414.75V712.25M996 414.75V712.25M700.75 417H998.25M700.75 490H998.25M700.75 563H998.25M700.75 636.5H998.25M700.75 710H998.25" stroke="#e42626" stroke-width="4.5" fill="none"/>
<path d="M1019 411.75V708.25M1091 411.75V708.25M1164.5 411.75V708.25M1237 411.75V708.25M1310 411.75V708.25M1016.75 414H1312.25M1016.75 486H1312.25M1016.75 560H1312.25M1016.75 633H1312.25M1016.75 706H1312.25" stroke="#e42626" stroke-width="4.5" fill="none"/>
<circle cx="91" cy="163.5" r="6.3" fill="#1f3fa8"/><circle cx="616.2" cy="141.3" r="6.3" fill="#1f3fa8"/><circle cx="967" cy="126.5" r="6.3" fill="#1f3fa8"/><circle cx="1207.9" cy="147.7" r="6.3" fill="#1f3fa8"/><circle cx="340.3" cy="694.2" r="6.3" fill="#1f3fa8"/><circle cx="416.2" cy="436.2" r="6.3" fill="#1f3fa8"/><circle cx="970" cy="691.9" r="6.3" fill="#1f3fa8"/><circle cx="1026.1" cy="675.6" r="6.3" fill="#1f3fa8"/><circle cx="652.9" cy="128" r="3" fill="#e03030"/><circle cx="897.8" cy="150.4" r="5" fill="#e03030"/><circle cx="1041.2" cy="379.2" r="4" fill="#e03030"/><circle cx="194.8" cy="430.9" r="2.5" fill="#e03030"/><circle cx="731.1" cy="688.6" r="2.5" fill="#e03030"/><circle cx="1161.7" cy="552.2" r="4" fill="#e03030"/>
</g>
<path d="M155 891.45V1286.3M145 893.5H155M145 992.3H155M145 1090.3H155M145 1188.5H155M145 1286.3H671.6" stroke="#000" stroke-width="4.1" fill="none"/><path d="M189.0 947.8V932.6M178.45000000000002 932.6H199.25" stroke="#000" stroke-width="4.1" stroke-linecap="round" fill="none"/><rect x="166.15" y="948.1499999999999" width="45.70000000000001" height="338.15000000000003" fill="#fff" stroke="#000" stroke-width="4.1" stroke-linejoin="round"/><path d="M248.29999999999998 957.2V937.9M237.65 937.9H258.84999999999997" stroke="#000" stroke-width="4.1" stroke-linecap="round" fill="none"/><rect x="225.35" y="957.55" width="45.89999999999997" height="328.74999999999994" fill="#000" stroke="#000" stroke-width="4.1" stroke-linejoin="round"/><path d="M307.25 1206.6V1199.8M297.05 1199.8H317.45" stroke="#000" stroke-width="4.1" stroke-linecap="round" fill="none"/><rect x="284.55" y="1206.9499999999998" width="45.4" height="79.3500000000001" fill="#d4d4d4" stroke="#000" stroke-width="4.1" stroke-linejoin="round"/><path d="M287.20000000000005 1282.2V1209.5999999999997H327.29999999999995V1282.2" stroke="#e6e6e6" stroke-width="1.1" fill="none"/><path d="M366.29999999999995 1163.4V1152.8M355.85 1152.8H376.75" stroke="#000" stroke-width="4.1" stroke-linecap="round" fill="none"/><rect x="343.85" y="1163.75" width="44.89999999999994" height="122.54999999999991" fill="#a9a9a9" stroke="#000" stroke-width="4.1" stroke-linejoin="round"/><path d="M346.50000000000006 1282.2V1166.3999999999999H386.0999999999999V1282.2" stroke="#c2c2c2" stroke-width="1.1" fill="none"/><path d="M457.5 951V933.6M446.45 933.6H467.55" stroke="#000" stroke-width="4.1" stroke-linecap="round" fill="none"/><rect x="434.65000000000003" y="951.3499999999999" width="45.69999999999995" height="334.95" fill="#fff" stroke="#000" stroke-width="4.1" stroke-linejoin="round"/><path d="M516.5 939.6V924.6M505.65000000000003 924.6H526.95" stroke="#000" stroke-width="4.1" stroke-linecap="round" fill="none"/><rect x="493.25000000000006" y="939.9499999999999" width="46.49999999999991" height="346.34999999999997" fill="#000" stroke="#000" stroke-width="4.1" stroke-linejoin="round"/><path d="M575.4000000000001 1120V1112M565.05 1112H585.95" stroke="#000" stroke-width="4.1" stroke-linecap="round" fill="none"/><rect x="552.85" y="1120.35" width="45.09999999999993" height="165.95" fill="#d4d4d4" stroke="#000" stroke-width="4.1" stroke-linejoin="round"/><path d="M555.5000000000001 1282.2V1122.9999999999998H595.3V1282.2" stroke="#e6e6e6" stroke-width="1.1" fill="none"/><path d="M634.8 1049.6V1043M624.4499999999999 1043H645.5500000000001" stroke="#000" stroke-width="4.1" stroke-linecap="round" fill="none"/><rect x="612.25" y="1049.9499999999998" width="45.09999999999993" height="236.35000000000008" fill="#a9a9a9" stroke="#000" stroke-width="4.1" stroke-linejoin="round"/><path d="M614.9000000000001 1282.2V1052.5999999999997H654.6999999999999V1282.2" stroke="#c2c2c2" stroke-width="1.1" fill="none"/>
<path d="M815.2 898.75V1288M804.5 901H815.2M804.5 998.5H815.2M804.5 1094.5H815.2M804.5 1191.5H815.2M804.5 1288H1347.7" stroke="#000" stroke-width="4.1" fill="none"/><path d="M850.25 942.6V929.1M838.75 929.1H860.6500000000001" stroke="#000" stroke-width="4.1" stroke-linecap="round" fill="none"/><rect x="826.85" y="942.9499999999999" width="46.79999999999986" height="345.05" fill="#fff" stroke="#000" stroke-width="4.1" stroke-linejoin="round"/><path d="M911.2 941.7V929M900.05 929H921.75" stroke="#000" stroke-width="4.1" stroke-linecap="round" fill="none"/><rect x="887.55" y="942.05" width="47.299999999999976" height="345.95" fill="#000" stroke="#000" stroke-width="4.1" stroke-linejoin="round"/><path d="M971.6 1207.7V1199.5M960.75 1199.5H982.75" stroke="#000" stroke-width="4.1" stroke-linecap="round" fill="none"/><rect x="948.35" y="1208.05" width="46.49999999999991" height="79.95" fill="#d4d4d4" stroke="#000" stroke-width="4.1" stroke-linejoin="round"/><path d="M951.0000000000001 1283.9V1210.6999999999998H992.1999999999999V1283.9" stroke="#e6e6e6" stroke-width="1.1" fill="none"/><path d="M1032.65 1163.7V1156M1022.05 1156H1043.95" stroke="#000" stroke-width="4.1" stroke-linecap="round" fill="none"/><rect x="1009.65" y="1164.05" width="46.00000000000002" height="123.95" fill="#a9a9a9" stroke="#000" stroke-width="4.1" stroke-linejoin="round"/><path d="M1012.3000000000001 1283.9V1166.6999999999998H1053.0000000000002V1283.9" stroke="#c2c2c2" stroke-width="1.1" fill="none"/><path d="M1126.65 954.3V936.2M1115.85 936.2H1137.45" stroke="#000" stroke-width="4.1" stroke-linecap="round" fill="none"/><rect x="1103.2499999999998" y="954.6499999999999" width="46.80000000000032" height="333.3500000000001" fill="#fff" stroke="#000" stroke-width="4.1" stroke-linejoin="round"/><path d="M1187.7 960.6V946.3M1176.6499999999999 946.3H1198.25" stroke="#000" stroke-width="4.1" stroke-linecap="round" fill="none"/><rect x="1163.85" y="960.9499999999999" width="47.70000000000018" height="327.05" fill="#000" stroke="#000" stroke-width="4.1" stroke-linejoin="round"/><path d="M1248.5 1096.3V1086.4M1237.95 1086.4H1259.05" stroke="#000" stroke-width="4.1" stroke-linecap="round" fill="none"/><rect x="1225.35" y="1096.6499999999999" width="46.30000000000009" height="191.35000000000008" fill="#d4d4d4" stroke="#000" stroke-width="4.1" stroke-linejoin="round"/><path d="M1227.9999999999998 1283.9V1099.2999999999997H1269.0000000000002V1283.9" stroke="#e6e6e6" stroke-width="1.1" fill="none"/><path d="M1309.5 1029.2V1015.3M1298.75 1015.3H1320.3500000000001" stroke="#000" stroke-width="4.1" stroke-linecap="round" fill="none"/><rect x="1286.6499999999999" y="1029.55" width="45.70000000000018" height="258.45" fill="#a9a9a9" stroke="#000" stroke-width="4.1" stroke-linejoin="round"/><path d="M1289.2999999999997 1283.9V1032.1999999999998H1329.7000000000003V1283.9" stroke="#c2c2c2" stroke-width="1.1" fill="none"/>
<path d="M146.2 1445.95V1836.8M136.3 1448.0H146.2M136.3 1503.5H146.2M136.3 1559.0H146.2M136.3 1614.5H146.2M136.3 1670.0H146.2M136.3 1725.5H146.2M136.3 1781.0H146.2M136.3 1836.8H671.5" stroke="#000" stroke-width="4.1" fill="none"/><path d="M181.1 1695.4V1683.6M170.05 1683.6H191.54999999999998" stroke="#000" stroke-width="4.1" stroke-linecap="round" fill="none"/><rect x="158.25" y="1695.75" width="45.70000000000001" height="141.0499999999999" fill="#fff" stroke="#000" stroke-width="4.1" stroke-linejoin="round"/><path d="M241.0 1701.4V1687.6M230.05 1687.6H251.54999999999998" stroke="#000" stroke-width="4.1" stroke-linecap="round" fill="none"/><rect x="217.65" y="1701.75" width="46.69999999999998" height="135.0499999999999" fill="#000" stroke="#000" stroke-width="4.1" stroke-linejoin="round"/><path d="M300.8 1505.4V1488.4M290.45 1488.4H311.95" stroke="#000" stroke-width="4.1" stroke-linecap="round" fill="none"/><rect x="277.65000000000003" y="1505.75" width="46.299999999999976" height="331.0499999999999" fill="#aaaaab" stroke="#000" stroke-width="4.1" stroke-linejoin="round"/><path d="M280.30000000000007 1832.7V1508.3999999999999H321.29999999999995V1832.7" stroke="#c4c4c4" stroke-width="1.1" fill="none"/><path d="M360.9 1596.5V1582.7M350.05 1582.7H371.84999999999997" stroke="#000" stroke-width="4.1" stroke-linecap="round" fill="none"/><rect x="338.15000000000003" y="1596.85" width="45.499999999999964" height="239.95" fill="#7b7b7b" stroke="#000" stroke-width="4.1" stroke-linejoin="round"/><path d="M340.80000000000007 1832.7V1599.4999999999998H380.99999999999994V1832.7" stroke="#959595" stroke-width="1.1" fill="none"/><path d="M453.35 1697.5V1681.3M442.55 1681.3H463.95" stroke="#000" stroke-width="4.1" stroke-linecap="round" fill="none"/><rect x="430.45000000000005" y="1697.85" width="45.79999999999992" height="138.95" fill="#fff" stroke="#000" stroke-width="4.1" stroke-linejoin="round"/><path d="M513.6 1700.2V1690.7M502.85 1690.7H524.35" stroke="#000" stroke-width="4.1" stroke-linecap="round" fill="none"/><rect x="490.15000000000003" y="1700.55" width="46.9" height="136.24999999999994" fill="#000" stroke="#000" stroke-width="4.1" stroke-linejoin="round"/><path d="M574.0 1597.5V1584M563.3499999999999 1584H583.95" stroke="#000" stroke-width="4.1" stroke-linecap="round" fill="none"/><rect x="550.9499999999999" y="1597.85" width="46.100000000000044" height="238.95" fill="#aaaaab" stroke="#000" stroke-width="4.1" stroke-linejoin="round"/><path d="M553.6 1832.7V1600.4999999999998H594.4V1832.7" stroke="#c4c4c4" stroke-width="1.1" fill="none"/><path d="M634.35 1644.5V1632.5M622.8499999999999 1632.5H644.35" stroke="#000" stroke-width="4.1" stroke-linecap="round" fill="none"/><rect x="611.65" y="1644.85" width="45.4" height="191.95" fill="#7b7b7b" stroke="#000" stroke-width="4.1" stroke-linejoin="round"/><path d="M614.3000000000001 1832.7V1647.4999999999998H654.4V1832.7" stroke="#959595" stroke-width="1.1" fill="none"/>
<g filter="url(#sh)"><rect x="1008.8000000000001" y="735.5" width="84.59999999999988" height="27.000000000000092" rx="1.5" fill="#fff" stroke="#000" stroke-width="2.4"/><rect x="1008.8000000000001" y="770.2" width="84.59999999999988" height="28.300000000000047" rx="1.5" fill="#000" stroke="#000" stroke-width="2.4"/><rect x="1008.8000000000001" y="808.0" width="84.59999999999988" height="26.90000000000007" rx="1.5" fill="#dadada" stroke="#000" stroke-width="2.4"/><rect x="1008.8000000000001" y="846.2" width="84.59999999999988" height="26.899999999999956" rx="1.5" fill="#a6a6a6" stroke="#000" stroke-width="2.4"/></g>
<g font-family="Liberation Sans, sans-serif" fill="#000" filter="url(#gs)"><text transform="translate(5.65,29.28) scale(0.9948,1)" font-size="38.38" font-weight="bold">A</text>
<text transform="translate(5.52,832.90) scale(1.0180,1)" font-size="34.78" font-weight="bold">B</text>
<text transform="translate(713.94,834.62) scale(0.9588,1)" font-size="38.03" font-weight="bold">C</text>
<text transform="translate(5.41,1367.90) scale(1.0313,1)" font-size="34.49" font-weight="bold">D</text>
<text transform="translate(114.15,87.59) scale(0.9936,1)" font-size="31.35" font-weight="bold">Corn oil-saline</text>
<text transform="translate(406.71,85.29) scale(1.0237,1)" font-size="30.54" font-weight="bold">Idebenone-saline</text>
<text transform="translate(747.26,87.08) scale(0.9693,1)" font-size="32.03" font-weight="bold">Corn oil-MPTP</text>
<text transform="translate(1053.44,87.09) scale(1.0052,1)" font-size="30.68" font-weight="bold">Idebenone-MPTP</text>
<text transform="translate(4.16,260.33)" font-size="37.16" font-weight="bold">3 d</text>
<text transform="translate(5.82,578.80) scale(0.9954,1)" font-size="37.26" font-weight="bold">7 d</text>
<text transform="translate(1113.28,754.72) scale(1.0143,1)" font-size="27.57" font-weight="bold">Corn oil-saline</text>
<text transform="translate(1111.34,793.62) scale(1.0135,1)" font-size="27.57" font-weight="bold">Idebenone-saline</text>
<text transform="translate(1112.18,833.02) scale(1.0042,1)" font-size="27.97" font-weight="bold">Corn oil-MPTP</text>
<text transform="translate(1113.74,871.02) scale(1.0149,1)" font-size="27.57" font-weight="bold">Idebenone-MPTP</text>
<text transform="translate(71.09,903.81) scale(0.8697,1)" font-size="29.30" font-weight="bold">40000</text>
<text transform="translate(70.48,1002.39) scale(0.8517,1)" font-size="30.56" font-weight="bold">30000</text>
<text transform="translate(70.42,1100.69) scale(0.8408,1)" font-size="30.99" font-weight="bold">20000</text>
<text transform="translate(70.23,1198.20) scale(0.8678,1)" font-size="30.14" font-weight="bold">10000</text>
<text transform="translate(128.66,1295.42) scale(0.9403,1)" font-size="27.61" font-weight="bold">0</text>
<text transform="translate(48.43,1208.84) rotate(-90)" font-size="37.16">Total distance</text>
<text transform="translate(257.65,1328.16) scale(1.1077,1)" font-size="33.92" font-weight="bold">3 d</text>
<text transform="translate(534.07,1329.00) scale(1.0310,1)" font-size="36.99" font-weight="bold">7 d</text>
<text transform="translate(293.40,1192.00) scale(0.7322,1)" font-size="23.53" stroke="#000" stroke-width="0.55">###</text>
<text transform="translate(354.78,1158.56) scale(0.9139,1)" font-size="33.71">**</text>
<text transform="translate(563.00,1107.00) scale(0.7425,1)" font-size="23.53" stroke="#000" stroke-width="0.55">###</text>
<text transform="translate(618.40,1046.67) scale(0.9157,1)" font-size="32.86">***</text>
<text transform="translate(757.79,912.40) scale(0.8834,1)" font-size="30.42" font-weight="bold">200</text>
<text transform="translate(757.99,1008.50) scale(0.9023,1)" font-size="29.72" font-weight="bold">150</text>
<text transform="translate(757.99,1105.00) scale(0.8981,1)" font-size="29.86" font-weight="bold">100</text>
<text transform="translate(772.49,1202.20) scale(0.9168,1)" font-size="29.58" font-weight="bold">50</text>
<text transform="translate(786.85,1298.51) scale(0.9900,1)" font-size="29.01" font-weight="bold">0</text>
<text transform="translate(740.53,1234.49) rotate(-90) scale(1.0134,1)" font-size="36.89">NO. of crosses</text>
<text transform="translate(883.24,1328.94) scale(1.0637,1)" font-size="35.95" font-weight="bold">3 d</text>
<text transform="translate(1164.90,1329.00) scale(0.9787,1)" font-size="38.36" font-weight="bold">7 d</text>
<text transform="translate(958.00,1192.00) scale(0.9240,1)" font-size="19.56" stroke="#000" stroke-width="0.55">###</text>
<text transform="translate(1022.09,1161.66) scale(0.8908,1)" font-size="34.29">**</text>
<text transform="translate(1234.00,1081.20) scale(0.8221,1)" font-size="21.62" stroke="#000" stroke-width="0.55">###</text>
<text transform="translate(1297.90,1020.30) scale(0.9950,1)" font-size="30.29">**</text>
<text transform="translate(320.97,1412.61) scale(0.9785,1)" font-size="38.65">Pole test</text>
<text transform="translate(105.18,1458.50) scale(0.8284,1)" font-size="30.58" font-weight="bold">14</text>
<text transform="translate(105.34,1514.60) scale(0.8525,1)" font-size="30.43" font-weight="bold">12</text>
<text transform="translate(105.34,1569.10) scale(0.8647,1)" font-size="30.00" font-weight="bold">10</text>
<text transform="translate(119.21,1625.40) scale(0.8775,1)" font-size="29.86" font-weight="bold">8</text>
<text transform="translate(118.91,1680.80) scale(0.9140,1)" font-size="29.86" font-weight="bold">6</text>
<text transform="translate(118.99,1736.40) scale(0.8352,1)" font-size="30.72" font-weight="bold">4</text>
<text transform="translate(119.20,1791.80) scale(0.8827,1)" font-size="30.29" font-weight="bold">2</text>
<text transform="translate(118.28,1849.11) scale(1.0538,1)" font-size="28.87" font-weight="bold">0</text>
<text transform="translate(53.86,1842.94) rotate(-90) scale(0.9628,1)" font-size="38.30">Total time to descend (s)</text>
<text transform="translate(258.26,1875.64) scale(1.0076,1)" font-size="36.49" font-weight="bold">3 d</text>
<text transform="translate(533.99,1876.00) scale(1.0189,1)" font-size="36.99" font-weight="bold">7 d</text>
<text transform="translate(287.00,1480.70) scale(0.7567,1)" font-size="23.09" stroke="#000" stroke-width="0.55">###</text>
<text transform="translate(349.38,1586.82) scale(1.1004,1)" font-size="28.00">**</text>
<text transform="translate(563.00,1577.30) scale(0.8812,1)" font-size="21.47" stroke="#000" stroke-width="0.55">##</text>
<text transform="translate(628.72,1639.66) scale(0.8500,1)" font-size="34.29">*</text></g></svg></body></html>
